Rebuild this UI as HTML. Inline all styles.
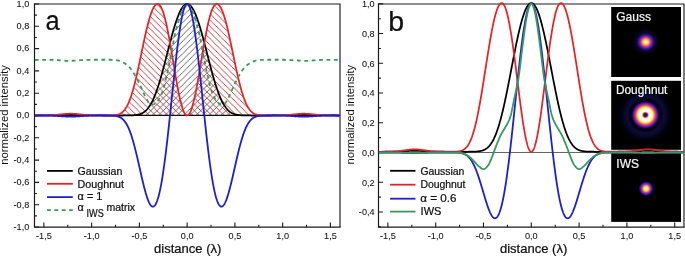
<!DOCTYPE html>
<html><head><meta charset="utf-8"><style>
html,body{margin:0;padding:0;background:#fff;width:685px;height:256px;overflow:hidden}
svg{display:block;will-change:transform}
text{font-family:"Liberation Sans",sans-serif}
</style></head><body>
<svg width="685" height="256" viewBox="0 0 685 256">
<defs>
<pattern id="hb" patternUnits="userSpaceOnUse" x="5.15" y="0" width="6.25" height="6.25">
<path d="M-1,1 L1,-1 M0,6.25 L6.25,0 M5.25,7.25 L7.25,5.25" stroke="#3c3c3c" stroke-width="0.75"/>
</pattern>
<pattern id="hr" patternUnits="userSpaceOnUse" x="0" y="3.7" width="6.25" height="6.25">
<path d="M-1,5.25 L1,7.25 M0,0 L6.25,6.25 M5.25,-1 L7.25,1" stroke="#c42228" stroke-width="0.85"/>
</pattern>
<radialGradient id="gGauss" cx="0.5" cy="0.5" r="0.5">
<stop offset="0" stop-color="#fffbd0"/>
<stop offset="0.12" stop-color="#fff0a0"/>
<stop offset="0.25" stop-color="#ffc850"/>
<stop offset="0.36" stop-color="#ff8a30"/>
<stop offset="0.46" stop-color="#d04080"/>
<stop offset="0.56" stop-color="#8a28c0"/>
<stop offset="0.68" stop-color="#4a14a8"/>
<stop offset="0.8" stop-color="#201070"/>
<stop offset="0.9" stop-color="#0c0838"/>
<stop offset="1" stop-color="#000" stop-opacity="0"/>
</radialGradient>
<radialGradient id="gHalo" cx="0.5" cy="0.5" r="0.5">
<stop offset="0" stop-color="#10104a"/>
<stop offset="0.6" stop-color="#0a0a30"/>
<stop offset="1" stop-color="#000"/>
</radialGradient>
<radialGradient id="gIWS" cx="0.5" cy="0.5" r="0.5">
<stop offset="0" stop-color="#fffbd8"/>
<stop offset="0.2" stop-color="#fff0a0"/>
<stop offset="0.32" stop-color="#ffc848"/>
<stop offset="0.44" stop-color="#ff8a30"/>
<stop offset="0.55" stop-color="#c03a90"/>
<stop offset="0.68" stop-color="#6a22c8"/>
<stop offset="0.82" stop-color="#2a10a0"/>
<stop offset="0.92" stop-color="#0c0640"/>
<stop offset="1" stop-color="#000"/>
</radialGradient>
<radialGradient id="gDough" cx="0.5" cy="0.5" r="0.5">
<stop offset="0" stop-color="#200a48"/>
<stop offset="0.05" stop-color="#3a1070"/>
<stop offset="0.077" stop-color="#8a2a90"/>
<stop offset="0.10" stop-color="#ff9a40"/>
<stop offset="0.123" stop-color="#fff0c0"/>
<stop offset="0.147" stop-color="#ffffff"/>
<stop offset="0.228" stop-color="#fffde0"/>
<stop offset="0.267" stop-color="#ffe070"/>
<stop offset="0.309" stop-color="#ff9a30"/>
<stop offset="0.347" stop-color="#e04060"/>
<stop offset="0.386" stop-color="#9a20a8"/>
<stop offset="0.42" stop-color="#5018b0"/>
<stop offset="0.456" stop-color="#1c0a60"/>
<stop offset="0.49" stop-color="#050418"/>
<stop offset="0.544" stop-color="#020208"/>
<stop offset="0.63" stop-color="#0c0c3a"/>
<stop offset="0.737" stop-color="#08082a"/>
<stop offset="0.84" stop-color="#020210"/>
<stop offset="1" stop-color="#000"/>
</radialGradient>

<clipPath id="cG"><path d="M34.83,115.50 L34.83,115.50 L35.17,115.50 L35.51,115.50 L35.84,115.50 L36.18,115.50 L36.52,115.50 L36.86,115.50 L37.20,115.50 L37.54,115.50 L37.88,115.50 L38.22,115.50 L38.56,115.50 L38.89,115.50 L39.23,115.49 L39.57,115.49 L39.91,115.49 L40.25,115.49 L40.59,115.49 L40.93,115.49 L41.27,115.49 L41.60,115.49 L41.94,115.49 L42.28,115.49 L42.62,115.49 L42.96,115.48 L43.30,115.48 L43.64,115.48 L43.98,115.48 L44.32,115.48 L44.65,115.48 L44.99,115.47 L45.33,115.47 L45.67,115.47 L46.01,115.47 L46.35,115.46 L46.69,115.46 L47.03,115.46 L47.37,115.45 L47.70,115.45 L48.04,115.44 L48.38,115.44 L48.72,115.44 L49.06,115.43 L49.40,115.43 L49.74,115.42 L50.08,115.41 L50.42,115.41 L50.75,115.40 L51.09,115.40 L51.43,115.39 L51.77,115.38 L52.11,115.37 L52.45,115.37 L52.79,115.36 L53.13,115.35 L53.47,115.34 L53.80,115.33 L54.14,115.32 L54.48,115.31 L54.82,115.30 L55.16,115.29 L55.50,115.28 L55.84,115.27 L56.18,115.26 L56.52,115.25 L56.85,115.24 L57.19,115.22 L57.53,115.21 L57.87,115.20 L58.21,115.18 L58.55,115.17 L58.89,115.16 L59.23,115.15 L59.57,115.13 L59.90,115.12 L60.24,115.10 L60.58,115.09 L60.92,115.08 L61.26,115.06 L61.60,115.05 L61.94,115.04 L62.28,115.02 L62.61,115.01 L62.95,115.00 L63.29,114.99 L63.63,114.97 L63.97,114.96 L64.31,114.95 L64.65,114.94 L64.99,114.93 L65.33,114.92 L65.66,114.91 L66.00,114.90 L66.34,114.89 L66.68,114.88 L67.02,114.87 L67.36,114.87 L67.70,114.86 L68.04,114.85 L68.38,114.85 L68.71,114.84 L69.05,114.84 L69.39,114.84 L69.73,114.83 L70.07,114.83 L70.41,114.83 L70.75,114.83 L71.09,114.83 L71.43,114.83 L71.76,114.84 L72.10,114.84 L72.44,114.84 L72.78,114.85 L73.12,114.85 L73.46,114.86 L73.80,114.86 L74.14,114.87 L74.48,114.88 L74.81,114.89 L75.15,114.89 L75.49,114.90 L75.83,114.91 L76.17,114.92 L76.51,114.93 L76.85,114.95 L77.19,114.96 L77.53,114.97 L77.86,114.98 L78.20,114.99 L78.54,115.01 L78.88,115.02 L79.22,115.03 L79.56,115.05 L79.90,115.06 L80.24,115.07 L80.58,115.09 L80.91,115.10 L81.25,115.11 L81.59,115.13 L81.93,115.14 L82.27,115.15 L82.61,115.17 L82.95,115.18 L83.29,115.19 L83.62,115.21 L83.96,115.22 L84.30,115.23 L84.64,115.24 L84.98,115.25 L85.32,115.27 L85.66,115.28 L86.00,115.29 L86.34,115.30 L86.67,115.31 L87.01,115.32 L87.35,115.33 L87.69,115.34 L88.03,115.35 L88.37,115.36 L88.71,115.36 L89.05,115.37 L89.39,115.38 L89.72,115.39 L90.06,115.39 L90.40,115.40 L90.74,115.41 L91.08,115.41 L91.42,115.42 L91.76,115.42 L92.10,115.43 L92.44,115.43 L92.77,115.44 L93.11,115.44 L93.45,115.45 L93.79,115.45 L94.13,115.45 L94.47,115.46 L94.81,115.46 L95.15,115.46 L95.49,115.47 L95.82,115.47 L96.16,115.47 L96.50,115.47 L96.84,115.48 L97.18,115.48 L97.52,115.48 L97.86,115.48 L98.20,115.48 L98.54,115.48 L98.87,115.49 L99.21,115.49 L99.55,115.49 L99.89,115.49 L100.23,115.49 L100.57,115.49 L100.91,115.49 L101.25,115.49 L101.59,115.49 L101.92,115.49 L102.26,115.49 L102.60,115.50 L102.94,115.50 L103.28,115.50 L103.62,115.50 L103.96,115.50 L104.30,115.50 L104.63,115.50 L104.97,115.50 L105.31,115.50 L105.65,115.50 L105.99,115.50 L106.33,115.50 L106.67,115.50 L107.01,115.50 L107.35,115.50 L107.68,115.50 L108.02,115.50 L108.36,115.50 L108.70,115.50 L109.04,115.50 L109.38,115.50 L109.72,115.50 L110.06,115.50 L110.40,115.50 L110.73,115.50 L111.07,115.50 L111.41,115.50 L111.75,115.50 L112.09,115.50 L112.43,115.50 L112.77,115.50 L113.11,115.50 L113.45,115.50 L113.78,115.50 L114.12,115.50 L114.46,115.50 L114.80,115.50 L115.14,115.50 L115.48,115.50 L115.82,115.50 L116.16,115.50 L116.50,115.50 L116.83,115.50 L117.17,115.50 L117.51,115.50 L117.85,115.50 L118.19,115.50 L118.53,115.50 L118.87,115.50 L119.21,115.50 L119.55,115.50 L119.88,115.50 L120.22,115.50 L120.56,115.50 L120.90,115.50 L121.24,115.50 L121.58,115.50 L121.92,115.50 L122.26,115.50 L122.60,115.50 L122.93,115.50 L123.27,115.50 L123.61,115.49 L123.95,115.49 L124.29,115.49 L124.63,115.49 L124.97,115.49 L125.31,115.49 L125.64,115.49 L125.98,115.48 L126.32,115.48 L126.66,115.48 L127.00,115.48 L127.34,115.47 L127.68,115.47 L128.02,115.46 L128.36,115.46 L128.69,115.45 L129.03,115.45 L129.37,115.44 L129.71,115.43 L130.05,115.43 L130.39,115.42 L130.73,115.41 L131.07,115.39 L131.41,115.38 L131.74,115.37 L132.08,115.35 L132.42,115.33 L132.76,115.31 L133.10,115.29 L133.44,115.27 L133.78,115.24 L134.12,115.21 L134.46,115.18 L134.79,115.15 L135.13,115.11 L135.47,115.07 L135.81,115.03 L136.15,114.98 L136.49,114.93 L136.83,114.87 L137.17,114.81 L137.51,114.75 L137.84,114.68 L138.18,114.60 L138.52,114.52 L138.86,114.43 L139.20,114.34 L139.54,114.23 L139.88,114.13 L140.22,114.01 L140.56,113.88 L140.89,113.75 L141.23,113.61 L141.57,113.46 L141.91,113.29 L142.25,113.12 L142.59,112.94 L142.93,112.75 L143.27,112.54 L143.61,112.32 L143.94,112.09 L144.28,111.85 L144.62,111.60 L144.96,111.33 L145.30,111.04 L145.64,110.74 L145.98,110.43 L146.32,110.10 L146.65,109.75 L146.99,109.39 L147.33,109.01 L147.67,108.61 L148.01,108.20 L148.35,107.77 L148.69,107.31 L149.03,106.84 L149.37,106.35 L149.70,105.84 L150.04,105.31 L150.38,104.77 L150.72,104.20 L151.06,103.60 L151.40,102.99 L151.74,102.36 L152.08,101.71 L152.42,101.03 L152.75,100.33 L153.09,99.62 L153.43,98.88 L153.77,98.11 L154.11,97.33 L154.45,96.52 L154.79,95.70 L155.13,94.85 L155.47,93.98 L155.80,93.09 L156.14,92.17 L156.48,91.24 L156.82,90.28 L157.16,89.31 L157.50,88.31 L157.84,87.30 L158.18,86.26 L158.52,85.21 L158.85,84.14 L159.19,83.05 L159.53,81.94 L159.87,80.81 L160.21,79.67 L160.55,78.51 L160.89,77.34 L161.23,76.15 L161.57,74.95 L161.90,73.73 L162.24,72.51 L162.58,71.26 L162.92,70.01 L163.26,68.75 L163.60,67.48 L163.94,66.19 L164.28,64.90 L164.62,63.61 L164.95,62.30 L165.29,60.99 L165.63,59.68 L165.97,58.36 L166.31,57.04 L166.65,55.71 L166.99,54.39 L167.33,53.06 L167.66,51.74 L168.00,50.41 L168.34,49.09 L168.68,47.77 L169.02,46.46 L169.36,45.15 L169.70,43.85 L170.04,42.55 L170.38,41.26 L170.71,39.98 L171.05,38.72 L171.39,37.46 L171.73,36.21 L172.07,34.98 L172.41,33.75 L172.75,32.55 L173.09,31.36 L173.43,30.18 L173.76,29.02 L174.10,27.88 L174.44,26.76 L174.78,25.65 L175.12,24.57 L175.46,23.51 L175.80,22.47 L176.14,21.45 L176.48,20.45 L176.81,19.48 L177.15,18.53 L177.49,17.61 L177.83,16.71 L178.17,15.84 L178.51,15.00 L178.85,14.18 L179.19,13.39 L179.53,12.63 L179.86,11.90 L180.20,11.20 L180.54,10.53 L180.88,9.89 L181.22,9.28 L181.56,8.70 L181.90,8.16 L182.24,7.65 L182.58,7.17 L182.91,6.72 L183.25,6.30 L183.59,5.92 L183.93,5.58 L184.27,5.26 L184.61,4.98 L184.95,4.74 L185.29,4.53 L185.63,4.35 L185.96,4.21 L186.30,4.11 L186.64,4.04 L186.98,4.00 L187.32,4.00 L187.66,4.04 L188.00,4.11 L188.34,4.21 L188.67,4.35 L189.01,4.53 L189.35,4.74 L189.69,4.98 L190.03,5.26 L190.37,5.58 L190.71,5.92 L191.05,6.30 L191.39,6.72 L191.72,7.17 L192.06,7.65 L192.40,8.16 L192.74,8.70 L193.08,9.28 L193.42,9.89 L193.76,10.53 L194.10,11.20 L194.44,11.90 L194.77,12.63 L195.11,13.39 L195.45,14.18 L195.79,15.00 L196.13,15.84 L196.47,16.71 L196.81,17.61 L197.15,18.53 L197.49,19.48 L197.82,20.45 L198.16,21.45 L198.50,22.47 L198.84,23.51 L199.18,24.57 L199.52,25.65 L199.86,26.76 L200.20,27.88 L200.54,29.02 L200.87,30.18 L201.21,31.36 L201.55,32.55 L201.89,33.75 L202.23,34.98 L202.57,36.21 L202.91,37.46 L203.25,38.72 L203.59,39.98 L203.92,41.26 L204.26,42.55 L204.60,43.85 L204.94,45.15 L205.28,46.46 L205.62,47.77 L205.96,49.09 L206.30,50.41 L206.64,51.74 L206.97,53.06 L207.31,54.39 L207.65,55.71 L207.99,57.04 L208.33,58.36 L208.67,59.68 L209.01,60.99 L209.35,62.30 L209.68,63.61 L210.02,64.90 L210.36,66.19 L210.70,67.48 L211.04,68.75 L211.38,70.01 L211.72,71.26 L212.06,72.51 L212.40,73.73 L212.73,74.95 L213.07,76.15 L213.41,77.34 L213.75,78.51 L214.09,79.67 L214.43,80.81 L214.77,81.94 L215.11,83.05 L215.45,84.14 L215.78,85.21 L216.12,86.26 L216.46,87.30 L216.80,88.31 L217.14,89.31 L217.48,90.28 L217.82,91.24 L218.16,92.17 L218.50,93.09 L218.83,93.98 L219.17,94.85 L219.51,95.70 L219.85,96.52 L220.19,97.33 L220.53,98.11 L220.87,98.88 L221.21,99.62 L221.55,100.33 L221.88,101.03 L222.22,101.71 L222.56,102.36 L222.90,102.99 L223.24,103.60 L223.58,104.20 L223.92,104.77 L224.26,105.31 L224.60,105.84 L224.93,106.35 L225.27,106.84 L225.61,107.31 L225.95,107.77 L226.29,108.20 L226.63,108.61 L226.97,109.01 L227.31,109.39 L227.65,109.75 L227.98,110.10 L228.32,110.43 L228.66,110.74 L229.00,111.04 L229.34,111.33 L229.68,111.60 L230.02,111.85 L230.36,112.09 L230.69,112.32 L231.03,112.54 L231.37,112.75 L231.71,112.94 L232.05,113.12 L232.39,113.29 L232.73,113.46 L233.07,113.61 L233.41,113.75 L233.74,113.88 L234.08,114.01 L234.42,114.13 L234.76,114.23 L235.10,114.34 L235.44,114.43 L235.78,114.52 L236.12,114.60 L236.46,114.68 L236.79,114.75 L237.13,114.81 L237.47,114.87 L237.81,114.93 L238.15,114.98 L238.49,115.03 L238.83,115.07 L239.17,115.11 L239.51,115.15 L239.84,115.18 L240.18,115.21 L240.52,115.24 L240.86,115.27 L241.20,115.29 L241.54,115.31 L241.88,115.33 L242.22,115.35 L242.56,115.37 L242.89,115.38 L243.23,115.39 L243.57,115.41 L243.91,115.42 L244.25,115.43 L244.59,115.43 L244.93,115.44 L245.27,115.45 L245.61,115.45 L245.94,115.46 L246.28,115.46 L246.62,115.47 L246.96,115.47 L247.30,115.48 L247.64,115.48 L247.98,115.48 L248.32,115.48 L248.66,115.49 L248.99,115.49 L249.33,115.49 L249.67,115.49 L250.01,115.49 L250.35,115.49 L250.69,115.49 L251.03,115.50 L251.37,115.50 L251.70,115.50 L252.04,115.50 L252.38,115.50 L252.72,115.50 L253.06,115.50 L253.40,115.50 L253.74,115.50 L254.08,115.50 L254.42,115.50 L254.75,115.50 L255.09,115.50 L255.43,115.50 L255.77,115.50 L256.11,115.50 L256.45,115.50 L256.79,115.50 L257.13,115.50 L257.47,115.50 L257.80,115.50 L258.14,115.50 L258.48,115.50 L258.82,115.50 L259.16,115.50 L259.50,115.50 L259.84,115.50 L260.18,115.50 L260.52,115.50 L260.85,115.50 L261.19,115.50 L261.53,115.50 L261.87,115.50 L262.21,115.50 L262.55,115.50 L262.89,115.50 L263.23,115.50 L263.57,115.50 L263.90,115.50 L264.24,115.50 L264.58,115.50 L264.92,115.50 L265.26,115.50 L265.60,115.50 L265.94,115.50 L266.28,115.50 L266.62,115.50 L266.95,115.50 L267.29,115.50 L267.63,115.50 L267.97,115.50 L268.31,115.50 L268.65,115.50 L268.99,115.50 L269.33,115.50 L269.67,115.50 L270.00,115.50 L270.34,115.50 L270.68,115.50 L271.02,115.50 L271.36,115.50 L271.70,115.50 L272.04,115.49 L272.38,115.49 L272.71,115.49 L273.05,115.49 L273.39,115.49 L273.73,115.49 L274.07,115.49 L274.41,115.49 L274.75,115.49 L275.09,115.49 L275.43,115.49 L275.76,115.48 L276.10,115.48 L276.44,115.48 L276.78,115.48 L277.12,115.48 L277.46,115.48 L277.80,115.47 L278.14,115.47 L278.48,115.47 L278.81,115.47 L279.15,115.46 L279.49,115.46 L279.83,115.46 L280.17,115.45 L280.51,115.45 L280.85,115.45 L281.19,115.44 L281.53,115.44 L281.86,115.43 L282.20,115.43 L282.54,115.42 L282.88,115.42 L283.22,115.41 L283.56,115.41 L283.90,115.40 L284.24,115.39 L284.58,115.39 L284.91,115.38 L285.25,115.37 L285.59,115.36 L285.93,115.36 L286.27,115.35 L286.61,115.34 L286.95,115.33 L287.29,115.32 L287.63,115.31 L287.96,115.30 L288.30,115.29 L288.64,115.28 L288.98,115.27 L289.32,115.25 L289.66,115.24 L290.00,115.23 L290.34,115.22 L290.68,115.21 L291.01,115.19 L291.35,115.18 L291.69,115.17 L292.03,115.15 L292.37,115.14 L292.71,115.13 L293.05,115.11 L293.39,115.10 L293.72,115.09 L294.06,115.07 L294.40,115.06 L294.74,115.05 L295.08,115.03 L295.42,115.02 L295.76,115.01 L296.10,114.99 L296.44,114.98 L296.77,114.97 L297.11,114.96 L297.45,114.95 L297.79,114.93 L298.13,114.92 L298.47,114.91 L298.81,114.90 L299.15,114.89 L299.49,114.89 L299.82,114.88 L300.16,114.87 L300.50,114.86 L300.84,114.86 L301.18,114.85 L301.52,114.85 L301.86,114.84 L302.20,114.84 L302.54,114.84 L302.87,114.83 L303.21,114.83 L303.55,114.83 L303.89,114.83 L304.23,114.83 L304.57,114.83 L304.91,114.84 L305.25,114.84 L305.59,114.84 L305.92,114.85 L306.26,114.85 L306.60,114.86 L306.94,114.87 L307.28,114.87 L307.62,114.88 L307.96,114.89 L308.30,114.90 L308.64,114.91 L308.97,114.92 L309.31,114.93 L309.65,114.94 L309.99,114.95 L310.33,114.96 L310.67,114.97 L311.01,114.99 L311.35,115.00 L311.69,115.01 L312.02,115.02 L312.36,115.04 L312.70,115.05 L313.04,115.06 L313.38,115.08 L313.72,115.09 L314.06,115.10 L314.40,115.12 L314.73,115.13 L315.07,115.15 L315.41,115.16 L315.75,115.17 L316.09,115.18 L316.43,115.20 L316.77,115.21 L317.11,115.22 L317.45,115.24 L317.78,115.25 L318.12,115.26 L318.46,115.27 L318.80,115.28 L319.14,115.29 L319.48,115.30 L319.82,115.31 L320.16,115.32 L320.50,115.33 L320.83,115.34 L321.17,115.35 L321.51,115.36 L321.85,115.37 L322.19,115.37 L322.53,115.38 L322.87,115.39 L323.21,115.40 L323.55,115.40 L323.88,115.41 L324.22,115.41 L324.56,115.42 L324.90,115.43 L325.24,115.43 L325.58,115.44 L325.92,115.44 L326.26,115.44 L326.60,115.45 L326.93,115.45 L327.27,115.46 L327.61,115.46 L327.95,115.46 L328.29,115.47 L328.63,115.47 L328.97,115.47 L329.31,115.47 L329.65,115.48 L329.98,115.48 L330.32,115.48 L330.66,115.48 L331.00,115.48 L331.34,115.48 L331.68,115.49 L332.02,115.49 L332.36,115.49 L332.70,115.49 L333.03,115.49 L333.37,115.49 L333.71,115.49 L334.05,115.49 L334.39,115.49 L334.73,115.49 L335.07,115.49 L335.41,115.50 L335.74,115.50 L336.08,115.50 L336.42,115.50 L336.76,115.50 L337.10,115.50 L337.44,115.50 L337.78,115.50 L338.12,115.50 L338.46,115.50 L338.79,115.50 L339.13,115.50 L339.47,115.50 L339.47,115.50Z"/></clipPath>
<clipPath id="cD"><path d="M34.83,115.50 L34.83,115.50 L35.17,115.50 L35.51,115.50 L35.84,115.50 L36.18,115.49 L36.52,115.49 L36.86,115.49 L37.20,115.49 L37.54,115.49 L37.88,115.49 L38.22,115.49 L38.56,115.49 L38.89,115.49 L39.23,115.49 L39.57,115.48 L39.91,115.48 L40.25,115.48 L40.59,115.48 L40.93,115.48 L41.27,115.47 L41.60,115.47 L41.94,115.47 L42.28,115.46 L42.62,115.46 L42.96,115.46 L43.30,115.45 L43.64,115.45 L43.98,115.44 L44.32,115.44 L44.65,115.43 L44.99,115.43 L45.33,115.42 L45.67,115.41 L46.01,115.41 L46.35,115.40 L46.69,115.39 L47.03,115.38 L47.37,115.37 L47.70,115.36 L48.04,115.35 L48.38,115.34 L48.72,115.33 L49.06,115.32 L49.40,115.30 L49.74,115.29 L50.08,115.27 L50.42,115.26 L50.75,115.24 L51.09,115.22 L51.43,115.20 L51.77,115.19 L52.11,115.17 L52.45,115.14 L52.79,115.12 L53.13,115.10 L53.47,115.08 L53.80,115.05 L54.14,115.03 L54.48,115.00 L54.82,114.97 L55.16,114.95 L55.50,114.92 L55.84,114.89 L56.18,114.86 L56.52,114.83 L56.85,114.79 L57.19,114.76 L57.53,114.73 L57.87,114.69 L58.21,114.66 L58.55,114.63 L58.89,114.59 L59.23,114.55 L59.57,114.52 L59.90,114.48 L60.24,114.45 L60.58,114.41 L60.92,114.37 L61.26,114.34 L61.60,114.30 L61.94,114.27 L62.28,114.23 L62.61,114.20 L62.95,114.16 L63.29,114.13 L63.63,114.10 L63.97,114.06 L64.31,114.03 L64.65,114.00 L64.99,113.97 L65.33,113.95 L65.66,113.92 L66.00,113.89 L66.34,113.87 L66.68,113.85 L67.02,113.83 L67.36,113.81 L67.70,113.79 L68.04,113.77 L68.38,113.76 L68.71,113.75 L69.05,113.74 L69.39,113.73 L69.73,113.72 L70.07,113.72 L70.41,113.72 L70.75,113.72 L71.09,113.72 L71.43,113.72 L71.76,113.73 L72.10,113.73 L72.44,113.74 L72.78,113.76 L73.12,113.77 L73.46,113.78 L73.80,113.80 L74.14,113.82 L74.48,113.84 L74.81,113.86 L75.15,113.88 L75.49,113.91 L75.83,113.94 L76.17,113.96 L76.51,113.99 L76.85,114.02 L77.19,114.05 L77.53,114.08 L77.86,114.12 L78.20,114.15 L78.54,114.18 L78.88,114.22 L79.22,114.25 L79.56,114.29 L79.90,114.33 L80.24,114.36 L80.58,114.40 L80.91,114.43 L81.25,114.47 L81.59,114.51 L81.93,114.54 L82.27,114.58 L82.61,114.61 L82.95,114.65 L83.29,114.68 L83.62,114.72 L83.96,114.75 L84.30,114.78 L84.64,114.81 L84.98,114.85 L85.32,114.88 L85.66,114.91 L86.00,114.93 L86.34,114.96 L86.67,114.99 L87.01,115.02 L87.35,115.04 L87.69,115.07 L88.03,115.09 L88.37,115.11 L88.71,115.14 L89.05,115.16 L89.39,115.18 L89.72,115.20 L90.06,115.22 L90.40,115.23 L90.74,115.25 L91.08,115.27 L91.42,115.28 L91.76,115.30 L92.10,115.31 L92.44,115.32 L92.77,115.34 L93.11,115.35 L93.45,115.36 L93.79,115.37 L94.13,115.38 L94.47,115.39 L94.81,115.40 L95.15,115.40 L95.49,115.41 L95.82,115.42 L96.16,115.43 L96.50,115.43 L96.84,115.44 L97.18,115.44 L97.52,115.45 L97.86,115.45 L98.20,115.46 L98.54,115.46 L98.87,115.46 L99.21,115.47 L99.55,115.47 L99.89,115.47 L100.23,115.47 L100.57,115.48 L100.91,115.48 L101.25,115.48 L101.59,115.48 L101.92,115.48 L102.26,115.49 L102.60,115.49 L102.94,115.49 L103.28,115.49 L103.62,115.49 L103.96,115.49 L104.30,115.49 L104.63,115.49 L104.97,115.49 L105.31,115.49 L105.65,115.49 L105.99,115.49 L106.33,115.49 L106.67,115.49 L107.01,115.49 L107.35,115.48 L107.68,115.48 L108.02,115.48 L108.36,115.48 L108.70,115.47 L109.04,115.47 L109.38,115.46 L109.72,115.46 L110.06,115.45 L110.40,115.44 L110.73,115.43 L111.07,115.42 L111.41,115.41 L111.75,115.40 L112.09,115.38 L112.43,115.37 L112.77,115.35 L113.11,115.32 L113.45,115.30 L113.78,115.27 L114.12,115.24 L114.46,115.21 L114.80,115.17 L115.14,115.12 L115.48,115.07 L115.82,115.02 L116.16,114.96 L116.50,114.90 L116.83,114.82 L117.17,114.74 L117.51,114.66 L117.85,114.56 L118.19,114.45 L118.53,114.34 L118.87,114.21 L119.21,114.08 L119.55,113.93 L119.88,113.77 L120.22,113.59 L120.56,113.40 L120.90,113.20 L121.24,112.98 L121.58,112.75 L121.92,112.49 L122.26,112.22 L122.60,111.93 L122.93,111.62 L123.27,111.29 L123.61,110.94 L123.95,110.56 L124.29,110.16 L124.63,109.74 L124.97,109.29 L125.31,108.82 L125.64,108.32 L125.98,107.79 L126.32,107.24 L126.66,106.65 L127.00,106.04 L127.34,105.40 L127.68,104.72 L128.02,104.02 L128.36,103.28 L128.69,102.52 L129.03,101.72 L129.37,100.89 L129.71,100.02 L130.05,99.13 L130.39,98.20 L130.73,97.24 L131.07,96.24 L131.41,95.21 L131.74,94.15 L132.08,93.06 L132.42,91.94 L132.76,90.78 L133.10,89.59 L133.44,88.38 L133.78,87.13 L134.12,85.85 L134.46,84.54 L134.79,83.21 L135.13,81.85 L135.47,80.47 L135.81,79.05 L136.15,77.62 L136.49,76.16 L136.83,74.68 L137.17,73.18 L137.51,71.66 L137.84,70.13 L138.18,68.57 L138.52,67.01 L138.86,65.43 L139.20,63.83 L139.54,62.23 L139.88,60.62 L140.22,59.00 L140.56,57.37 L140.89,55.75 L141.23,54.12 L141.57,52.49 L141.91,50.86 L142.25,49.23 L142.59,47.61 L142.93,45.99 L143.27,44.39 L143.61,42.79 L143.94,41.20 L144.28,39.63 L144.62,38.07 L144.96,36.53 L145.30,35.01 L145.64,33.51 L145.98,32.03 L146.32,30.57 L146.65,29.14 L146.99,27.74 L147.33,26.36 L147.67,25.01 L148.01,23.69 L148.35,22.41 L148.69,21.16 L149.03,19.94 L149.37,18.77 L149.70,17.62 L150.04,16.52 L150.38,15.46 L150.72,14.44 L151.06,13.46 L151.40,12.53 L151.74,11.64 L152.08,10.79 L152.42,9.99 L152.75,9.24 L153.09,8.53 L153.43,7.88 L153.77,7.27 L154.11,6.72 L154.45,6.21 L154.79,5.76 L155.13,5.35 L155.47,5.00 L155.80,4.70 L156.14,4.46 L156.48,4.26 L156.82,4.12 L157.16,4.03 L157.50,4.00 L157.84,4.02 L158.18,4.10 L158.52,4.24 L158.85,4.44 L159.19,4.70 L159.53,5.02 L159.87,5.41 L160.21,5.85 L160.55,6.35 L160.89,6.92 L161.23,7.55 L161.57,8.24 L161.90,8.99 L162.24,9.80 L162.58,10.67 L162.92,11.60 L163.26,12.59 L163.60,13.63 L163.94,14.74 L164.28,15.90 L164.62,17.12 L164.95,18.39 L165.29,19.71 L165.63,21.09 L165.97,22.52 L166.31,24.00 L166.65,25.52 L166.99,27.09 L167.33,28.71 L167.66,30.36 L168.00,32.06 L168.34,33.80 L168.68,35.57 L169.02,37.38 L169.36,39.22 L169.70,41.09 L170.04,42.99 L170.38,44.92 L170.71,46.87 L171.05,48.83 L171.39,50.82 L171.73,52.82 L172.07,54.83 L172.41,56.86 L172.75,58.89 L173.09,60.92 L173.43,62.96 L173.76,65.00 L174.10,67.03 L174.44,69.05 L174.78,71.07 L175.12,73.07 L175.46,75.06 L175.80,77.03 L176.14,78.98 L176.48,80.90 L176.81,82.80 L177.15,84.67 L177.49,86.50 L177.83,88.30 L178.17,90.06 L178.51,91.79 L178.85,93.47 L179.19,95.10 L179.53,96.69 L179.86,98.22 L180.20,99.71 L180.54,101.13 L180.88,102.50 L181.22,103.82 L181.56,105.07 L181.90,106.26 L182.24,107.38 L182.58,108.43 L182.91,109.42 L183.25,110.34 L183.59,111.18 L183.93,111.96 L184.27,112.66 L184.61,113.28 L184.95,113.83 L185.29,114.30 L185.63,114.70 L185.96,115.01 L186.30,115.25 L186.64,115.41 L186.98,115.49 L187.32,115.49 L187.66,115.41 L188.00,115.25 L188.34,115.01 L188.67,114.70 L189.01,114.30 L189.35,113.83 L189.69,113.28 L190.03,112.66 L190.37,111.96 L190.71,111.18 L191.05,110.34 L191.39,109.42 L191.72,108.43 L192.06,107.38 L192.40,106.26 L192.74,105.07 L193.08,103.82 L193.42,102.50 L193.76,101.13 L194.10,99.71 L194.44,98.22 L194.77,96.69 L195.11,95.10 L195.45,93.47 L195.79,91.79 L196.13,90.06 L196.47,88.30 L196.81,86.50 L197.15,84.67 L197.49,82.80 L197.82,80.90 L198.16,78.98 L198.50,77.03 L198.84,75.06 L199.18,73.07 L199.52,71.07 L199.86,69.05 L200.20,67.03 L200.54,65.00 L200.87,62.96 L201.21,60.92 L201.55,58.89 L201.89,56.86 L202.23,54.83 L202.57,52.82 L202.91,50.82 L203.25,48.83 L203.59,46.87 L203.92,44.92 L204.26,42.99 L204.60,41.09 L204.94,39.22 L205.28,37.38 L205.62,35.57 L205.96,33.80 L206.30,32.06 L206.64,30.36 L206.97,28.71 L207.31,27.09 L207.65,25.52 L207.99,24.00 L208.33,22.52 L208.67,21.09 L209.01,19.71 L209.35,18.39 L209.68,17.12 L210.02,15.90 L210.36,14.74 L210.70,13.63 L211.04,12.59 L211.38,11.60 L211.72,10.67 L212.06,9.80 L212.40,8.99 L212.73,8.24 L213.07,7.55 L213.41,6.92 L213.75,6.35 L214.09,5.85 L214.43,5.41 L214.77,5.02 L215.11,4.70 L215.45,4.44 L215.78,4.24 L216.12,4.10 L216.46,4.02 L216.80,4.00 L217.14,4.03 L217.48,4.12 L217.82,4.26 L218.16,4.46 L218.50,4.70 L218.83,5.00 L219.17,5.35 L219.51,5.76 L219.85,6.21 L220.19,6.72 L220.53,7.27 L220.87,7.88 L221.21,8.53 L221.55,9.24 L221.88,9.99 L222.22,10.79 L222.56,11.64 L222.90,12.53 L223.24,13.46 L223.58,14.44 L223.92,15.46 L224.26,16.52 L224.60,17.62 L224.93,18.77 L225.27,19.94 L225.61,21.16 L225.95,22.41 L226.29,23.69 L226.63,25.01 L226.97,26.36 L227.31,27.74 L227.65,29.14 L227.98,30.57 L228.32,32.03 L228.66,33.51 L229.00,35.01 L229.34,36.53 L229.68,38.07 L230.02,39.63 L230.36,41.20 L230.69,42.79 L231.03,44.39 L231.37,45.99 L231.71,47.61 L232.05,49.23 L232.39,50.86 L232.73,52.49 L233.07,54.12 L233.41,55.75 L233.74,57.37 L234.08,59.00 L234.42,60.62 L234.76,62.23 L235.10,63.83 L235.44,65.43 L235.78,67.01 L236.12,68.57 L236.46,70.13 L236.79,71.66 L237.13,73.18 L237.47,74.68 L237.81,76.16 L238.15,77.62 L238.49,79.05 L238.83,80.47 L239.17,81.85 L239.51,83.21 L239.84,84.54 L240.18,85.85 L240.52,87.13 L240.86,88.38 L241.20,89.59 L241.54,90.78 L241.88,91.94 L242.22,93.06 L242.56,94.15 L242.89,95.21 L243.23,96.24 L243.57,97.24 L243.91,98.20 L244.25,99.13 L244.59,100.02 L244.93,100.89 L245.27,101.72 L245.61,102.52 L245.94,103.28 L246.28,104.02 L246.62,104.72 L246.96,105.40 L247.30,106.04 L247.64,106.65 L247.98,107.24 L248.32,107.79 L248.66,108.32 L248.99,108.82 L249.33,109.29 L249.67,109.74 L250.01,110.16 L250.35,110.56 L250.69,110.94 L251.03,111.29 L251.37,111.62 L251.70,111.93 L252.04,112.22 L252.38,112.49 L252.72,112.75 L253.06,112.98 L253.40,113.20 L253.74,113.40 L254.08,113.59 L254.42,113.77 L254.75,113.93 L255.09,114.08 L255.43,114.21 L255.77,114.34 L256.11,114.45 L256.45,114.56 L256.79,114.66 L257.13,114.74 L257.47,114.82 L257.80,114.90 L258.14,114.96 L258.48,115.02 L258.82,115.07 L259.16,115.12 L259.50,115.17 L259.84,115.21 L260.18,115.24 L260.52,115.27 L260.85,115.30 L261.19,115.32 L261.53,115.35 L261.87,115.37 L262.21,115.38 L262.55,115.40 L262.89,115.41 L263.23,115.42 L263.57,115.43 L263.90,115.44 L264.24,115.45 L264.58,115.46 L264.92,115.46 L265.26,115.47 L265.60,115.47 L265.94,115.48 L266.28,115.48 L266.62,115.48 L266.95,115.48 L267.29,115.49 L267.63,115.49 L267.97,115.49 L268.31,115.49 L268.65,115.49 L268.99,115.49 L269.33,115.49 L269.67,115.49 L270.00,115.49 L270.34,115.49 L270.68,115.49 L271.02,115.49 L271.36,115.49 L271.70,115.49 L272.04,115.49 L272.38,115.48 L272.71,115.48 L273.05,115.48 L273.39,115.48 L273.73,115.48 L274.07,115.47 L274.41,115.47 L274.75,115.47 L275.09,115.47 L275.43,115.46 L275.76,115.46 L276.10,115.46 L276.44,115.45 L276.78,115.45 L277.12,115.44 L277.46,115.44 L277.80,115.43 L278.14,115.43 L278.48,115.42 L278.81,115.41 L279.15,115.40 L279.49,115.40 L279.83,115.39 L280.17,115.38 L280.51,115.37 L280.85,115.36 L281.19,115.35 L281.53,115.34 L281.86,115.32 L282.20,115.31 L282.54,115.30 L282.88,115.28 L283.22,115.27 L283.56,115.25 L283.90,115.23 L284.24,115.22 L284.58,115.20 L284.91,115.18 L285.25,115.16 L285.59,115.14 L285.93,115.11 L286.27,115.09 L286.61,115.07 L286.95,115.04 L287.29,115.02 L287.63,114.99 L287.96,114.96 L288.30,114.93 L288.64,114.91 L288.98,114.88 L289.32,114.85 L289.66,114.81 L290.00,114.78 L290.34,114.75 L290.68,114.72 L291.01,114.68 L291.35,114.65 L291.69,114.61 L292.03,114.58 L292.37,114.54 L292.71,114.51 L293.05,114.47 L293.39,114.43 L293.72,114.40 L294.06,114.36 L294.40,114.33 L294.74,114.29 L295.08,114.25 L295.42,114.22 L295.76,114.18 L296.10,114.15 L296.44,114.12 L296.77,114.08 L297.11,114.05 L297.45,114.02 L297.79,113.99 L298.13,113.96 L298.47,113.94 L298.81,113.91 L299.15,113.88 L299.49,113.86 L299.82,113.84 L300.16,113.82 L300.50,113.80 L300.84,113.78 L301.18,113.77 L301.52,113.76 L301.86,113.74 L302.20,113.73 L302.54,113.73 L302.87,113.72 L303.21,113.72 L303.55,113.72 L303.89,113.72 L304.23,113.72 L304.57,113.72 L304.91,113.73 L305.25,113.74 L305.59,113.75 L305.92,113.76 L306.26,113.77 L306.60,113.79 L306.94,113.81 L307.28,113.83 L307.62,113.85 L307.96,113.87 L308.30,113.89 L308.64,113.92 L308.97,113.95 L309.31,113.97 L309.65,114.00 L309.99,114.03 L310.33,114.06 L310.67,114.10 L311.01,114.13 L311.35,114.16 L311.69,114.20 L312.02,114.23 L312.36,114.27 L312.70,114.30 L313.04,114.34 L313.38,114.37 L313.72,114.41 L314.06,114.45 L314.40,114.48 L314.73,114.52 L315.07,114.55 L315.41,114.59 L315.75,114.63 L316.09,114.66 L316.43,114.69 L316.77,114.73 L317.11,114.76 L317.45,114.79 L317.78,114.83 L318.12,114.86 L318.46,114.89 L318.80,114.92 L319.14,114.95 L319.48,114.97 L319.82,115.00 L320.16,115.03 L320.50,115.05 L320.83,115.08 L321.17,115.10 L321.51,115.12 L321.85,115.14 L322.19,115.17 L322.53,115.19 L322.87,115.20 L323.21,115.22 L323.55,115.24 L323.88,115.26 L324.22,115.27 L324.56,115.29 L324.90,115.30 L325.24,115.32 L325.58,115.33 L325.92,115.34 L326.26,115.35 L326.60,115.36 L326.93,115.37 L327.27,115.38 L327.61,115.39 L327.95,115.40 L328.29,115.41 L328.63,115.41 L328.97,115.42 L329.31,115.43 L329.65,115.43 L329.98,115.44 L330.32,115.44 L330.66,115.45 L331.00,115.45 L331.34,115.46 L331.68,115.46 L332.02,115.46 L332.36,115.47 L332.70,115.47 L333.03,115.47 L333.37,115.48 L333.71,115.48 L334.05,115.48 L334.39,115.48 L334.73,115.48 L335.07,115.49 L335.41,115.49 L335.74,115.49 L336.08,115.49 L336.42,115.49 L336.76,115.49 L337.10,115.49 L337.44,115.49 L337.78,115.49 L338.12,115.49 L338.46,115.50 L338.79,115.50 L339.13,115.50 L339.47,115.50 L339.47,115.50Z"/></clipPath>
</defs>
<rect x="34.50" y="4.00" width="305.50" height="223.20" fill="url(#hb)" clip-path="url(#cG)"/>
<rect x="34.50" y="4.00" width="305.50" height="223.20" fill="url(#hr)" clip-path="url(#cD)"/>
<path d="M33.90,4.00 H340.60 M340.00,4.00 V227.20" fill="none" stroke="#1c1c1c" stroke-width="1.15"/>
<path d="M34.50,4.00 V227.20 H340.00" fill="none" stroke="#1c1c1c" stroke-width="1.2" stroke-linejoin="miter" stroke-linecap="square"/>
<path d="M34.50,227.00 h4.6 M34.50,204.70 h4.6 M34.50,182.40 h4.6 M34.50,160.10 h4.6 M34.50,137.80 h4.6 M34.50,115.50 h4.6 M34.50,93.20 h4.6 M34.50,70.90 h4.6 M34.50,48.60 h4.6 M34.50,26.30 h4.6 M34.50,4.00 h4.6 M34.50,215.85 h2.4 M34.50,193.55 h2.4 M34.50,171.25 h2.4 M34.50,148.95 h2.4 M34.50,126.65 h2.4 M34.50,104.35 h2.4 M34.50,82.05 h2.4 M34.50,59.75 h2.4 M34.50,37.45 h2.4 M34.50,15.15 h2.4 M43.90,227.20 v-4.6 M91.65,227.20 v-4.6 M139.40,227.20 v-4.6 M187.15,227.20 v-4.6 M234.90,227.20 v-4.6 M282.65,227.20 v-4.6 M330.40,227.20 v-4.6 M67.78,227.20 v-2.4 M115.53,227.20 v-2.4 M163.28,227.20 v-2.4 M211.03,227.20 v-2.4 M258.77,227.20 v-2.4 M306.52,227.20 v-2.4" stroke="#1c1c1c" stroke-width="1.1" fill="none"/>
<text transform="translate(29.30,229.80) scale(1.100,1)" text-anchor="end" font-size="8.30" fill="#111" stroke="#111" stroke-width="0.06">-1,0</text>
<text transform="translate(29.30,207.50) scale(1.100,1)" text-anchor="end" font-size="8.30" fill="#111" stroke="#111" stroke-width="0.06">-0,8</text>
<text transform="translate(29.30,185.20) scale(1.100,1)" text-anchor="end" font-size="8.30" fill="#111" stroke="#111" stroke-width="0.06">-0,6</text>
<text transform="translate(29.30,162.90) scale(1.100,1)" text-anchor="end" font-size="8.30" fill="#111" stroke="#111" stroke-width="0.06">-0,4</text>
<text transform="translate(29.30,140.60) scale(1.100,1)" text-anchor="end" font-size="8.30" fill="#111" stroke="#111" stroke-width="0.06">-0,2</text>
<text transform="translate(29.30,118.30) scale(1.100,1)" text-anchor="end" font-size="8.30" fill="#111" stroke="#111" stroke-width="0.06">0,0</text>
<text transform="translate(29.30,96.00) scale(1.100,1)" text-anchor="end" font-size="8.30" fill="#111" stroke="#111" stroke-width="0.06">0,2</text>
<text transform="translate(29.30,73.70) scale(1.100,1)" text-anchor="end" font-size="8.30" fill="#111" stroke="#111" stroke-width="0.06">0,4</text>
<text transform="translate(29.30,51.40) scale(1.100,1)" text-anchor="end" font-size="8.30" fill="#111" stroke="#111" stroke-width="0.06">0,6</text>
<text transform="translate(29.30,29.10) scale(1.100,1)" text-anchor="end" font-size="8.30" fill="#111" stroke="#111" stroke-width="0.06">0,8</text>
<text transform="translate(29.30,6.80) scale(1.100,1)" text-anchor="end" font-size="8.30" fill="#111" stroke="#111" stroke-width="0.06">1,0</text>
<text transform="translate(43.90,239.10) scale(1.100,1)" text-anchor="middle" font-size="8.30" fill="#111" stroke="#111" stroke-width="0.06">-1,5</text>
<text transform="translate(91.65,239.10) scale(1.100,1)" text-anchor="middle" font-size="8.30" fill="#111" stroke="#111" stroke-width="0.06">-1,0</text>
<text transform="translate(139.40,239.10) scale(1.100,1)" text-anchor="middle" font-size="8.30" fill="#111" stroke="#111" stroke-width="0.06">-0,5</text>
<text transform="translate(187.15,239.10) scale(1.100,1)" text-anchor="middle" font-size="8.30" fill="#111" stroke="#111" stroke-width="0.06">0,0</text>
<text transform="translate(234.90,239.10) scale(1.100,1)" text-anchor="middle" font-size="8.30" fill="#111" stroke="#111" stroke-width="0.06">0,5</text>
<text transform="translate(282.65,239.10) scale(1.100,1)" text-anchor="middle" font-size="8.30" fill="#111" stroke="#111" stroke-width="0.06">1,0</text>
<text transform="translate(330.40,239.10) scale(1.100,1)" text-anchor="middle" font-size="8.30" fill="#111" stroke="#111" stroke-width="0.06">1,5</text>
<path d="M34.50,115.30 H340.00" stroke="#111" stroke-width="1.2"/>
<g fill="none" stroke-width="1.75" stroke-linejoin="round">
<path d="M34.83,115.50 L35.17,115.50 L35.51,115.50 L35.84,115.50 L36.18,115.50 L36.52,115.50 L36.86,115.50 L37.20,115.50 L37.54,115.50 L37.88,115.50 L38.22,115.50 L38.56,115.50 L38.89,115.50 L39.23,115.49 L39.57,115.49 L39.91,115.49 L40.25,115.49 L40.59,115.49 L40.93,115.49 L41.27,115.49 L41.60,115.49 L41.94,115.49 L42.28,115.49 L42.62,115.49 L42.96,115.48 L43.30,115.48 L43.64,115.48 L43.98,115.48 L44.32,115.48 L44.65,115.48 L44.99,115.47 L45.33,115.47 L45.67,115.47 L46.01,115.47 L46.35,115.46 L46.69,115.46 L47.03,115.46 L47.37,115.45 L47.70,115.45 L48.04,115.44 L48.38,115.44 L48.72,115.44 L49.06,115.43 L49.40,115.43 L49.74,115.42 L50.08,115.41 L50.42,115.41 L50.75,115.40 L51.09,115.40 L51.43,115.39 L51.77,115.38 L52.11,115.37 L52.45,115.37 L52.79,115.36 L53.13,115.35 L53.47,115.34 L53.80,115.33 L54.14,115.32 L54.48,115.31 L54.82,115.30 L55.16,115.29 L55.50,115.28 L55.84,115.27 L56.18,115.26 L56.52,115.25 L56.85,115.24 L57.19,115.22 L57.53,115.21 L57.87,115.20 L58.21,115.18 L58.55,115.17 L58.89,115.16 L59.23,115.15 L59.57,115.13 L59.90,115.12 L60.24,115.10 L60.58,115.09 L60.92,115.08 L61.26,115.06 L61.60,115.05 L61.94,115.04 L62.28,115.02 L62.61,115.01 L62.95,115.00 L63.29,114.99 L63.63,114.97 L63.97,114.96 L64.31,114.95 L64.65,114.94 L64.99,114.93 L65.33,114.92 L65.66,114.91 L66.00,114.90 L66.34,114.89 L66.68,114.88 L67.02,114.87 L67.36,114.87 L67.70,114.86 L68.04,114.85 L68.38,114.85 L68.71,114.84 L69.05,114.84 L69.39,114.84 L69.73,114.83 L70.07,114.83 L70.41,114.83 L70.75,114.83 L71.09,114.83 L71.43,114.83 L71.76,114.84 L72.10,114.84 L72.44,114.84 L72.78,114.85 L73.12,114.85 L73.46,114.86 L73.80,114.86 L74.14,114.87 L74.48,114.88 L74.81,114.89 L75.15,114.89 L75.49,114.90 L75.83,114.91 L76.17,114.92 L76.51,114.93 L76.85,114.95 L77.19,114.96 L77.53,114.97 L77.86,114.98 L78.20,114.99 L78.54,115.01 L78.88,115.02 L79.22,115.03 L79.56,115.05 L79.90,115.06 L80.24,115.07 L80.58,115.09 L80.91,115.10 L81.25,115.11 L81.59,115.13 L81.93,115.14 L82.27,115.15 L82.61,115.17 L82.95,115.18 L83.29,115.19 L83.62,115.21 L83.96,115.22 L84.30,115.23 L84.64,115.24 L84.98,115.25 L85.32,115.27 L85.66,115.28 L86.00,115.29 L86.34,115.30 L86.67,115.31 L87.01,115.32 L87.35,115.33 L87.69,115.34 L88.03,115.35 L88.37,115.36 L88.71,115.36 L89.05,115.37 L89.39,115.38 L89.72,115.39 L90.06,115.39 L90.40,115.40 L90.74,115.41 L91.08,115.41 L91.42,115.42 L91.76,115.42 L92.10,115.43 L92.44,115.43 L92.77,115.44 L93.11,115.44 L93.45,115.45 L93.79,115.45 L94.13,115.45 L94.47,115.46 L94.81,115.46 L95.15,115.46 L95.49,115.47 L95.82,115.47 L96.16,115.47 L96.50,115.47 L96.84,115.48 L97.18,115.48 L97.52,115.48 L97.86,115.48 L98.20,115.48 L98.54,115.48 L98.87,115.49 L99.21,115.49 L99.55,115.49 L99.89,115.49 L100.23,115.49 L100.57,115.49 L100.91,115.49 L101.25,115.49 L101.59,115.49 L101.92,115.49 L102.26,115.49 L102.60,115.50 L102.94,115.50 L103.28,115.50 L103.62,115.50 L103.96,115.50 L104.30,115.50 L104.63,115.50 L104.97,115.50 L105.31,115.50 L105.65,115.50 L105.99,115.50 L106.33,115.50 L106.67,115.50 L107.01,115.50 L107.35,115.50 L107.68,115.50 L108.02,115.50 L108.36,115.50 L108.70,115.50 L109.04,115.50 L109.38,115.50 L109.72,115.50 L110.06,115.50 L110.40,115.50 L110.73,115.50 L111.07,115.50 L111.41,115.50 L111.75,115.50 L112.09,115.50 L112.43,115.50 L112.77,115.50 L113.11,115.50 L113.45,115.50 L113.78,115.50 L114.12,115.50 L114.46,115.50 L114.80,115.50 L115.14,115.50 L115.48,115.50 L115.82,115.50 L116.16,115.50 L116.50,115.50 L116.83,115.50 L117.17,115.50 L117.51,115.50 L117.85,115.50 L118.19,115.50 L118.53,115.50 L118.87,115.50 L119.21,115.50 L119.55,115.50 L119.88,115.50 L120.22,115.50 L120.56,115.50 L120.90,115.50 L121.24,115.50 L121.58,115.50 L121.92,115.50 L122.26,115.50 L122.60,115.50 L122.93,115.50 L123.27,115.50 L123.61,115.49 L123.95,115.49 L124.29,115.49 L124.63,115.49 L124.97,115.49 L125.31,115.49 L125.64,115.49 L125.98,115.48 L126.32,115.48 L126.66,115.48 L127.00,115.48 L127.34,115.47 L127.68,115.47 L128.02,115.46 L128.36,115.46 L128.69,115.45 L129.03,115.45 L129.37,115.44 L129.71,115.43 L130.05,115.43 L130.39,115.42 L130.73,115.41 L131.07,115.39 L131.41,115.38 L131.74,115.37 L132.08,115.35 L132.42,115.33 L132.76,115.31 L133.10,115.29 L133.44,115.27 L133.78,115.24 L134.12,115.21 L134.46,115.18 L134.79,115.15 L135.13,115.11 L135.47,115.07 L135.81,115.03 L136.15,114.98 L136.49,114.93 L136.83,114.87 L137.17,114.81 L137.51,114.75 L137.84,114.68 L138.18,114.60 L138.52,114.52 L138.86,114.43 L139.20,114.34 L139.54,114.23 L139.88,114.13 L140.22,114.01 L140.56,113.88 L140.89,113.75 L141.23,113.61 L141.57,113.46 L141.91,113.29 L142.25,113.12 L142.59,112.94 L142.93,112.75 L143.27,112.54 L143.61,112.32 L143.94,112.09 L144.28,111.85 L144.62,111.60 L144.96,111.33 L145.30,111.04 L145.64,110.74 L145.98,110.43 L146.32,110.10 L146.65,109.75 L146.99,109.39 L147.33,109.01 L147.67,108.61 L148.01,108.20 L148.35,107.77 L148.69,107.31 L149.03,106.84 L149.37,106.35 L149.70,105.84 L150.04,105.31 L150.38,104.77 L150.72,104.20 L151.06,103.60 L151.40,102.99 L151.74,102.36 L152.08,101.71 L152.42,101.03 L152.75,100.33 L153.09,99.62 L153.43,98.88 L153.77,98.11 L154.11,97.33 L154.45,96.52 L154.79,95.70 L155.13,94.85 L155.47,93.98 L155.80,93.09 L156.14,92.17 L156.48,91.24 L156.82,90.28 L157.16,89.31 L157.50,88.31 L157.84,87.30 L158.18,86.26 L158.52,85.21 L158.85,84.14 L159.19,83.05 L159.53,81.94 L159.87,80.81 L160.21,79.67 L160.55,78.51 L160.89,77.34 L161.23,76.15 L161.57,74.95 L161.90,73.73 L162.24,72.51 L162.58,71.26 L162.92,70.01 L163.26,68.75 L163.60,67.48 L163.94,66.19 L164.28,64.90 L164.62,63.61 L164.95,62.30 L165.29,60.99 L165.63,59.68 L165.97,58.36 L166.31,57.04 L166.65,55.71 L166.99,54.39 L167.33,53.06 L167.66,51.74 L168.00,50.41 L168.34,49.09 L168.68,47.77 L169.02,46.46 L169.36,45.15 L169.70,43.85 L170.04,42.55 L170.38,41.26 L170.71,39.98 L171.05,38.72 L171.39,37.46 L171.73,36.21 L172.07,34.98 L172.41,33.75 L172.75,32.55 L173.09,31.36 L173.43,30.18 L173.76,29.02 L174.10,27.88 L174.44,26.76 L174.78,25.65 L175.12,24.57 L175.46,23.51 L175.80,22.47 L176.14,21.45 L176.48,20.45 L176.81,19.48 L177.15,18.53 L177.49,17.61 L177.83,16.71 L178.17,15.84 L178.51,15.00 L178.85,14.18 L179.19,13.39 L179.53,12.63 L179.86,11.90 L180.20,11.20 L180.54,10.53 L180.88,9.89 L181.22,9.28 L181.56,8.70 L181.90,8.16 L182.24,7.65 L182.58,7.17 L182.91,6.72 L183.25,6.30 L183.59,5.92 L183.93,5.58 L184.27,5.26 L184.61,4.98 L184.95,4.74 L185.29,4.53 L185.63,4.35 L185.96,4.21 L186.30,4.11 L186.64,4.04 L186.98,4.00 L187.32,4.00 L187.66,4.04 L188.00,4.11 L188.34,4.21 L188.67,4.35 L189.01,4.53 L189.35,4.74 L189.69,4.98 L190.03,5.26 L190.37,5.58 L190.71,5.92 L191.05,6.30 L191.39,6.72 L191.72,7.17 L192.06,7.65 L192.40,8.16 L192.74,8.70 L193.08,9.28 L193.42,9.89 L193.76,10.53 L194.10,11.20 L194.44,11.90 L194.77,12.63 L195.11,13.39 L195.45,14.18 L195.79,15.00 L196.13,15.84 L196.47,16.71 L196.81,17.61 L197.15,18.53 L197.49,19.48 L197.82,20.45 L198.16,21.45 L198.50,22.47 L198.84,23.51 L199.18,24.57 L199.52,25.65 L199.86,26.76 L200.20,27.88 L200.54,29.02 L200.87,30.18 L201.21,31.36 L201.55,32.55 L201.89,33.75 L202.23,34.98 L202.57,36.21 L202.91,37.46 L203.25,38.72 L203.59,39.98 L203.92,41.26 L204.26,42.55 L204.60,43.85 L204.94,45.15 L205.28,46.46 L205.62,47.77 L205.96,49.09 L206.30,50.41 L206.64,51.74 L206.97,53.06 L207.31,54.39 L207.65,55.71 L207.99,57.04 L208.33,58.36 L208.67,59.68 L209.01,60.99 L209.35,62.30 L209.68,63.61 L210.02,64.90 L210.36,66.19 L210.70,67.48 L211.04,68.75 L211.38,70.01 L211.72,71.26 L212.06,72.51 L212.40,73.73 L212.73,74.95 L213.07,76.15 L213.41,77.34 L213.75,78.51 L214.09,79.67 L214.43,80.81 L214.77,81.94 L215.11,83.05 L215.45,84.14 L215.78,85.21 L216.12,86.26 L216.46,87.30 L216.80,88.31 L217.14,89.31 L217.48,90.28 L217.82,91.24 L218.16,92.17 L218.50,93.09 L218.83,93.98 L219.17,94.85 L219.51,95.70 L219.85,96.52 L220.19,97.33 L220.53,98.11 L220.87,98.88 L221.21,99.62 L221.55,100.33 L221.88,101.03 L222.22,101.71 L222.56,102.36 L222.90,102.99 L223.24,103.60 L223.58,104.20 L223.92,104.77 L224.26,105.31 L224.60,105.84 L224.93,106.35 L225.27,106.84 L225.61,107.31 L225.95,107.77 L226.29,108.20 L226.63,108.61 L226.97,109.01 L227.31,109.39 L227.65,109.75 L227.98,110.10 L228.32,110.43 L228.66,110.74 L229.00,111.04 L229.34,111.33 L229.68,111.60 L230.02,111.85 L230.36,112.09 L230.69,112.32 L231.03,112.54 L231.37,112.75 L231.71,112.94 L232.05,113.12 L232.39,113.29 L232.73,113.46 L233.07,113.61 L233.41,113.75 L233.74,113.88 L234.08,114.01 L234.42,114.13 L234.76,114.23 L235.10,114.34 L235.44,114.43 L235.78,114.52 L236.12,114.60 L236.46,114.68 L236.79,114.75 L237.13,114.81 L237.47,114.87 L237.81,114.93 L238.15,114.98 L238.49,115.03 L238.83,115.07 L239.17,115.11 L239.51,115.15 L239.84,115.18 L240.18,115.21 L240.52,115.24 L240.86,115.27 L241.20,115.29 L241.54,115.31 L241.88,115.33 L242.22,115.35 L242.56,115.37 L242.89,115.38 L243.23,115.39 L243.57,115.41 L243.91,115.42 L244.25,115.43 L244.59,115.43 L244.93,115.44 L245.27,115.45 L245.61,115.45 L245.94,115.46 L246.28,115.46 L246.62,115.47 L246.96,115.47 L247.30,115.48 L247.64,115.48 L247.98,115.48 L248.32,115.48 L248.66,115.49 L248.99,115.49 L249.33,115.49 L249.67,115.49 L250.01,115.49 L250.35,115.49 L250.69,115.49 L251.03,115.50 L251.37,115.50 L251.70,115.50 L252.04,115.50 L252.38,115.50 L252.72,115.50 L253.06,115.50 L253.40,115.50 L253.74,115.50 L254.08,115.50 L254.42,115.50 L254.75,115.50 L255.09,115.50 L255.43,115.50 L255.77,115.50 L256.11,115.50 L256.45,115.50 L256.79,115.50 L257.13,115.50 L257.47,115.50 L257.80,115.50 L258.14,115.50 L258.48,115.50 L258.82,115.50 L259.16,115.50 L259.50,115.50 L259.84,115.50 L260.18,115.50 L260.52,115.50 L260.85,115.50 L261.19,115.50 L261.53,115.50 L261.87,115.50 L262.21,115.50 L262.55,115.50 L262.89,115.50 L263.23,115.50 L263.57,115.50 L263.90,115.50 L264.24,115.50 L264.58,115.50 L264.92,115.50 L265.26,115.50 L265.60,115.50 L265.94,115.50 L266.28,115.50 L266.62,115.50 L266.95,115.50 L267.29,115.50 L267.63,115.50 L267.97,115.50 L268.31,115.50 L268.65,115.50 L268.99,115.50 L269.33,115.50 L269.67,115.50 L270.00,115.50 L270.34,115.50 L270.68,115.50 L271.02,115.50 L271.36,115.50 L271.70,115.50 L272.04,115.49 L272.38,115.49 L272.71,115.49 L273.05,115.49 L273.39,115.49 L273.73,115.49 L274.07,115.49 L274.41,115.49 L274.75,115.49 L275.09,115.49 L275.43,115.49 L275.76,115.48 L276.10,115.48 L276.44,115.48 L276.78,115.48 L277.12,115.48 L277.46,115.48 L277.80,115.47 L278.14,115.47 L278.48,115.47 L278.81,115.47 L279.15,115.46 L279.49,115.46 L279.83,115.46 L280.17,115.45 L280.51,115.45 L280.85,115.45 L281.19,115.44 L281.53,115.44 L281.86,115.43 L282.20,115.43 L282.54,115.42 L282.88,115.42 L283.22,115.41 L283.56,115.41 L283.90,115.40 L284.24,115.39 L284.58,115.39 L284.91,115.38 L285.25,115.37 L285.59,115.36 L285.93,115.36 L286.27,115.35 L286.61,115.34 L286.95,115.33 L287.29,115.32 L287.63,115.31 L287.96,115.30 L288.30,115.29 L288.64,115.28 L288.98,115.27 L289.32,115.25 L289.66,115.24 L290.00,115.23 L290.34,115.22 L290.68,115.21 L291.01,115.19 L291.35,115.18 L291.69,115.17 L292.03,115.15 L292.37,115.14 L292.71,115.13 L293.05,115.11 L293.39,115.10 L293.72,115.09 L294.06,115.07 L294.40,115.06 L294.74,115.05 L295.08,115.03 L295.42,115.02 L295.76,115.01 L296.10,114.99 L296.44,114.98 L296.77,114.97 L297.11,114.96 L297.45,114.95 L297.79,114.93 L298.13,114.92 L298.47,114.91 L298.81,114.90 L299.15,114.89 L299.49,114.89 L299.82,114.88 L300.16,114.87 L300.50,114.86 L300.84,114.86 L301.18,114.85 L301.52,114.85 L301.86,114.84 L302.20,114.84 L302.54,114.84 L302.87,114.83 L303.21,114.83 L303.55,114.83 L303.89,114.83 L304.23,114.83 L304.57,114.83 L304.91,114.84 L305.25,114.84 L305.59,114.84 L305.92,114.85 L306.26,114.85 L306.60,114.86 L306.94,114.87 L307.28,114.87 L307.62,114.88 L307.96,114.89 L308.30,114.90 L308.64,114.91 L308.97,114.92 L309.31,114.93 L309.65,114.94 L309.99,114.95 L310.33,114.96 L310.67,114.97 L311.01,114.99 L311.35,115.00 L311.69,115.01 L312.02,115.02 L312.36,115.04 L312.70,115.05 L313.04,115.06 L313.38,115.08 L313.72,115.09 L314.06,115.10 L314.40,115.12 L314.73,115.13 L315.07,115.15 L315.41,115.16 L315.75,115.17 L316.09,115.18 L316.43,115.20 L316.77,115.21 L317.11,115.22 L317.45,115.24 L317.78,115.25 L318.12,115.26 L318.46,115.27 L318.80,115.28 L319.14,115.29 L319.48,115.30 L319.82,115.31 L320.16,115.32 L320.50,115.33 L320.83,115.34 L321.17,115.35 L321.51,115.36 L321.85,115.37 L322.19,115.37 L322.53,115.38 L322.87,115.39 L323.21,115.40 L323.55,115.40 L323.88,115.41 L324.22,115.41 L324.56,115.42 L324.90,115.43 L325.24,115.43 L325.58,115.44 L325.92,115.44 L326.26,115.44 L326.60,115.45 L326.93,115.45 L327.27,115.46 L327.61,115.46 L327.95,115.46 L328.29,115.47 L328.63,115.47 L328.97,115.47 L329.31,115.47 L329.65,115.48 L329.98,115.48 L330.32,115.48 L330.66,115.48 L331.00,115.48 L331.34,115.48 L331.68,115.49 L332.02,115.49 L332.36,115.49 L332.70,115.49 L333.03,115.49 L333.37,115.49 L333.71,115.49 L334.05,115.49 L334.39,115.49 L334.73,115.49 L335.07,115.49 L335.41,115.50 L335.74,115.50 L336.08,115.50 L336.42,115.50 L336.76,115.50 L337.10,115.50 L337.44,115.50 L337.78,115.50 L338.12,115.50 L338.46,115.50 L338.79,115.50 L339.13,115.50 L339.47,115.50" stroke="#000"/>
<path d="M34.83,115.50 L35.17,115.50 L35.51,115.50 L35.84,115.50 L36.18,115.49 L36.52,115.49 L36.86,115.49 L37.20,115.49 L37.54,115.49 L37.88,115.49 L38.22,115.49 L38.56,115.49 L38.89,115.49 L39.23,115.49 L39.57,115.48 L39.91,115.48 L40.25,115.48 L40.59,115.48 L40.93,115.48 L41.27,115.47 L41.60,115.47 L41.94,115.47 L42.28,115.46 L42.62,115.46 L42.96,115.46 L43.30,115.45 L43.64,115.45 L43.98,115.44 L44.32,115.44 L44.65,115.43 L44.99,115.43 L45.33,115.42 L45.67,115.41 L46.01,115.41 L46.35,115.40 L46.69,115.39 L47.03,115.38 L47.37,115.37 L47.70,115.36 L48.04,115.35 L48.38,115.34 L48.72,115.33 L49.06,115.32 L49.40,115.30 L49.74,115.29 L50.08,115.27 L50.42,115.26 L50.75,115.24 L51.09,115.22 L51.43,115.20 L51.77,115.19 L52.11,115.17 L52.45,115.14 L52.79,115.12 L53.13,115.10 L53.47,115.08 L53.80,115.05 L54.14,115.03 L54.48,115.00 L54.82,114.97 L55.16,114.95 L55.50,114.92 L55.84,114.89 L56.18,114.86 L56.52,114.83 L56.85,114.79 L57.19,114.76 L57.53,114.73 L57.87,114.69 L58.21,114.66 L58.55,114.63 L58.89,114.59 L59.23,114.55 L59.57,114.52 L59.90,114.48 L60.24,114.45 L60.58,114.41 L60.92,114.37 L61.26,114.34 L61.60,114.30 L61.94,114.27 L62.28,114.23 L62.61,114.20 L62.95,114.16 L63.29,114.13 L63.63,114.10 L63.97,114.06 L64.31,114.03 L64.65,114.00 L64.99,113.97 L65.33,113.95 L65.66,113.92 L66.00,113.89 L66.34,113.87 L66.68,113.85 L67.02,113.83 L67.36,113.81 L67.70,113.79 L68.04,113.77 L68.38,113.76 L68.71,113.75 L69.05,113.74 L69.39,113.73 L69.73,113.72 L70.07,113.72 L70.41,113.72 L70.75,113.72 L71.09,113.72 L71.43,113.72 L71.76,113.73 L72.10,113.73 L72.44,113.74 L72.78,113.76 L73.12,113.77 L73.46,113.78 L73.80,113.80 L74.14,113.82 L74.48,113.84 L74.81,113.86 L75.15,113.88 L75.49,113.91 L75.83,113.94 L76.17,113.96 L76.51,113.99 L76.85,114.02 L77.19,114.05 L77.53,114.08 L77.86,114.12 L78.20,114.15 L78.54,114.18 L78.88,114.22 L79.22,114.25 L79.56,114.29 L79.90,114.33 L80.24,114.36 L80.58,114.40 L80.91,114.43 L81.25,114.47 L81.59,114.51 L81.93,114.54 L82.27,114.58 L82.61,114.61 L82.95,114.65 L83.29,114.68 L83.62,114.72 L83.96,114.75 L84.30,114.78 L84.64,114.81 L84.98,114.85 L85.32,114.88 L85.66,114.91 L86.00,114.93 L86.34,114.96 L86.67,114.99 L87.01,115.02 L87.35,115.04 L87.69,115.07 L88.03,115.09 L88.37,115.11 L88.71,115.14 L89.05,115.16 L89.39,115.18 L89.72,115.20 L90.06,115.22 L90.40,115.23 L90.74,115.25 L91.08,115.27 L91.42,115.28 L91.76,115.30 L92.10,115.31 L92.44,115.32 L92.77,115.34 L93.11,115.35 L93.45,115.36 L93.79,115.37 L94.13,115.38 L94.47,115.39 L94.81,115.40 L95.15,115.40 L95.49,115.41 L95.82,115.42 L96.16,115.43 L96.50,115.43 L96.84,115.44 L97.18,115.44 L97.52,115.45 L97.86,115.45 L98.20,115.46 L98.54,115.46 L98.87,115.46 L99.21,115.47 L99.55,115.47 L99.89,115.47 L100.23,115.47 L100.57,115.48 L100.91,115.48 L101.25,115.48 L101.59,115.48 L101.92,115.48 L102.26,115.49 L102.60,115.49 L102.94,115.49 L103.28,115.49 L103.62,115.49 L103.96,115.49 L104.30,115.49 L104.63,115.49 L104.97,115.49 L105.31,115.49 L105.65,115.49 L105.99,115.49 L106.33,115.49 L106.67,115.49 L107.01,115.49 L107.35,115.48 L107.68,115.48 L108.02,115.48 L108.36,115.48 L108.70,115.47 L109.04,115.47 L109.38,115.46 L109.72,115.46 L110.06,115.45 L110.40,115.44 L110.73,115.43 L111.07,115.42 L111.41,115.41 L111.75,115.40 L112.09,115.38 L112.43,115.37 L112.77,115.35 L113.11,115.32 L113.45,115.30 L113.78,115.27 L114.12,115.24 L114.46,115.21 L114.80,115.17 L115.14,115.12 L115.48,115.07 L115.82,115.02 L116.16,114.96 L116.50,114.90 L116.83,114.82 L117.17,114.74 L117.51,114.66 L117.85,114.56 L118.19,114.45 L118.53,114.34 L118.87,114.21 L119.21,114.08 L119.55,113.93 L119.88,113.77 L120.22,113.59 L120.56,113.40 L120.90,113.20 L121.24,112.98 L121.58,112.75 L121.92,112.49 L122.26,112.22 L122.60,111.93 L122.93,111.62 L123.27,111.29 L123.61,110.94 L123.95,110.56 L124.29,110.16 L124.63,109.74 L124.97,109.29 L125.31,108.82 L125.64,108.32 L125.98,107.79 L126.32,107.24 L126.66,106.65 L127.00,106.04 L127.34,105.40 L127.68,104.72 L128.02,104.02 L128.36,103.28 L128.69,102.52 L129.03,101.72 L129.37,100.89 L129.71,100.02 L130.05,99.13 L130.39,98.20 L130.73,97.24 L131.07,96.24 L131.41,95.21 L131.74,94.15 L132.08,93.06 L132.42,91.94 L132.76,90.78 L133.10,89.59 L133.44,88.38 L133.78,87.13 L134.12,85.85 L134.46,84.54 L134.79,83.21 L135.13,81.85 L135.47,80.47 L135.81,79.05 L136.15,77.62 L136.49,76.16 L136.83,74.68 L137.17,73.18 L137.51,71.66 L137.84,70.13 L138.18,68.57 L138.52,67.01 L138.86,65.43 L139.20,63.83 L139.54,62.23 L139.88,60.62 L140.22,59.00 L140.56,57.37 L140.89,55.75 L141.23,54.12 L141.57,52.49 L141.91,50.86 L142.25,49.23 L142.59,47.61 L142.93,45.99 L143.27,44.39 L143.61,42.79 L143.94,41.20 L144.28,39.63 L144.62,38.07 L144.96,36.53 L145.30,35.01 L145.64,33.51 L145.98,32.03 L146.32,30.57 L146.65,29.14 L146.99,27.74 L147.33,26.36 L147.67,25.01 L148.01,23.69 L148.35,22.41 L148.69,21.16 L149.03,19.94 L149.37,18.77 L149.70,17.62 L150.04,16.52 L150.38,15.46 L150.72,14.44 L151.06,13.46 L151.40,12.53 L151.74,11.64 L152.08,10.79 L152.42,9.99 L152.75,9.24 L153.09,8.53 L153.43,7.88 L153.77,7.27 L154.11,6.72 L154.45,6.21 L154.79,5.76 L155.13,5.35 L155.47,5.00 L155.80,4.70 L156.14,4.46 L156.48,4.26 L156.82,4.12 L157.16,4.03 L157.50,4.00 L157.84,4.02 L158.18,4.10 L158.52,4.24 L158.85,4.44 L159.19,4.70 L159.53,5.02 L159.87,5.41 L160.21,5.85 L160.55,6.35 L160.89,6.92 L161.23,7.55 L161.57,8.24 L161.90,8.99 L162.24,9.80 L162.58,10.67 L162.92,11.60 L163.26,12.59 L163.60,13.63 L163.94,14.74 L164.28,15.90 L164.62,17.12 L164.95,18.39 L165.29,19.71 L165.63,21.09 L165.97,22.52 L166.31,24.00 L166.65,25.52 L166.99,27.09 L167.33,28.71 L167.66,30.36 L168.00,32.06 L168.34,33.80 L168.68,35.57 L169.02,37.38 L169.36,39.22 L169.70,41.09 L170.04,42.99 L170.38,44.92 L170.71,46.87 L171.05,48.83 L171.39,50.82 L171.73,52.82 L172.07,54.83 L172.41,56.86 L172.75,58.89 L173.09,60.92 L173.43,62.96 L173.76,65.00 L174.10,67.03 L174.44,69.05 L174.78,71.07 L175.12,73.07 L175.46,75.06 L175.80,77.03 L176.14,78.98 L176.48,80.90 L176.81,82.80 L177.15,84.67 L177.49,86.50 L177.83,88.30 L178.17,90.06 L178.51,91.79 L178.85,93.47 L179.19,95.10 L179.53,96.69 L179.86,98.22 L180.20,99.71 L180.54,101.13 L180.88,102.50 L181.22,103.82 L181.56,105.07 L181.90,106.26 L182.24,107.38 L182.58,108.43 L182.91,109.42 L183.25,110.34 L183.59,111.18 L183.93,111.96 L184.27,112.66 L184.61,113.28 L184.95,113.83 L185.29,114.30 L185.63,114.70 L185.96,115.01 L186.30,115.25 L186.64,115.41 L186.98,115.49 L187.32,115.49 L187.66,115.41 L188.00,115.25 L188.34,115.01 L188.67,114.70 L189.01,114.30 L189.35,113.83 L189.69,113.28 L190.03,112.66 L190.37,111.96 L190.71,111.18 L191.05,110.34 L191.39,109.42 L191.72,108.43 L192.06,107.38 L192.40,106.26 L192.74,105.07 L193.08,103.82 L193.42,102.50 L193.76,101.13 L194.10,99.71 L194.44,98.22 L194.77,96.69 L195.11,95.10 L195.45,93.47 L195.79,91.79 L196.13,90.06 L196.47,88.30 L196.81,86.50 L197.15,84.67 L197.49,82.80 L197.82,80.90 L198.16,78.98 L198.50,77.03 L198.84,75.06 L199.18,73.07 L199.52,71.07 L199.86,69.05 L200.20,67.03 L200.54,65.00 L200.87,62.96 L201.21,60.92 L201.55,58.89 L201.89,56.86 L202.23,54.83 L202.57,52.82 L202.91,50.82 L203.25,48.83 L203.59,46.87 L203.92,44.92 L204.26,42.99 L204.60,41.09 L204.94,39.22 L205.28,37.38 L205.62,35.57 L205.96,33.80 L206.30,32.06 L206.64,30.36 L206.97,28.71 L207.31,27.09 L207.65,25.52 L207.99,24.00 L208.33,22.52 L208.67,21.09 L209.01,19.71 L209.35,18.39 L209.68,17.12 L210.02,15.90 L210.36,14.74 L210.70,13.63 L211.04,12.59 L211.38,11.60 L211.72,10.67 L212.06,9.80 L212.40,8.99 L212.73,8.24 L213.07,7.55 L213.41,6.92 L213.75,6.35 L214.09,5.85 L214.43,5.41 L214.77,5.02 L215.11,4.70 L215.45,4.44 L215.78,4.24 L216.12,4.10 L216.46,4.02 L216.80,4.00 L217.14,4.03 L217.48,4.12 L217.82,4.26 L218.16,4.46 L218.50,4.70 L218.83,5.00 L219.17,5.35 L219.51,5.76 L219.85,6.21 L220.19,6.72 L220.53,7.27 L220.87,7.88 L221.21,8.53 L221.55,9.24 L221.88,9.99 L222.22,10.79 L222.56,11.64 L222.90,12.53 L223.24,13.46 L223.58,14.44 L223.92,15.46 L224.26,16.52 L224.60,17.62 L224.93,18.77 L225.27,19.94 L225.61,21.16 L225.95,22.41 L226.29,23.69 L226.63,25.01 L226.97,26.36 L227.31,27.74 L227.65,29.14 L227.98,30.57 L228.32,32.03 L228.66,33.51 L229.00,35.01 L229.34,36.53 L229.68,38.07 L230.02,39.63 L230.36,41.20 L230.69,42.79 L231.03,44.39 L231.37,45.99 L231.71,47.61 L232.05,49.23 L232.39,50.86 L232.73,52.49 L233.07,54.12 L233.41,55.75 L233.74,57.37 L234.08,59.00 L234.42,60.62 L234.76,62.23 L235.10,63.83 L235.44,65.43 L235.78,67.01 L236.12,68.57 L236.46,70.13 L236.79,71.66 L237.13,73.18 L237.47,74.68 L237.81,76.16 L238.15,77.62 L238.49,79.05 L238.83,80.47 L239.17,81.85 L239.51,83.21 L239.84,84.54 L240.18,85.85 L240.52,87.13 L240.86,88.38 L241.20,89.59 L241.54,90.78 L241.88,91.94 L242.22,93.06 L242.56,94.15 L242.89,95.21 L243.23,96.24 L243.57,97.24 L243.91,98.20 L244.25,99.13 L244.59,100.02 L244.93,100.89 L245.27,101.72 L245.61,102.52 L245.94,103.28 L246.28,104.02 L246.62,104.72 L246.96,105.40 L247.30,106.04 L247.64,106.65 L247.98,107.24 L248.32,107.79 L248.66,108.32 L248.99,108.82 L249.33,109.29 L249.67,109.74 L250.01,110.16 L250.35,110.56 L250.69,110.94 L251.03,111.29 L251.37,111.62 L251.70,111.93 L252.04,112.22 L252.38,112.49 L252.72,112.75 L253.06,112.98 L253.40,113.20 L253.74,113.40 L254.08,113.59 L254.42,113.77 L254.75,113.93 L255.09,114.08 L255.43,114.21 L255.77,114.34 L256.11,114.45 L256.45,114.56 L256.79,114.66 L257.13,114.74 L257.47,114.82 L257.80,114.90 L258.14,114.96 L258.48,115.02 L258.82,115.07 L259.16,115.12 L259.50,115.17 L259.84,115.21 L260.18,115.24 L260.52,115.27 L260.85,115.30 L261.19,115.32 L261.53,115.35 L261.87,115.37 L262.21,115.38 L262.55,115.40 L262.89,115.41 L263.23,115.42 L263.57,115.43 L263.90,115.44 L264.24,115.45 L264.58,115.46 L264.92,115.46 L265.26,115.47 L265.60,115.47 L265.94,115.48 L266.28,115.48 L266.62,115.48 L266.95,115.48 L267.29,115.49 L267.63,115.49 L267.97,115.49 L268.31,115.49 L268.65,115.49 L268.99,115.49 L269.33,115.49 L269.67,115.49 L270.00,115.49 L270.34,115.49 L270.68,115.49 L271.02,115.49 L271.36,115.49 L271.70,115.49 L272.04,115.49 L272.38,115.48 L272.71,115.48 L273.05,115.48 L273.39,115.48 L273.73,115.48 L274.07,115.47 L274.41,115.47 L274.75,115.47 L275.09,115.47 L275.43,115.46 L275.76,115.46 L276.10,115.46 L276.44,115.45 L276.78,115.45 L277.12,115.44 L277.46,115.44 L277.80,115.43 L278.14,115.43 L278.48,115.42 L278.81,115.41 L279.15,115.40 L279.49,115.40 L279.83,115.39 L280.17,115.38 L280.51,115.37 L280.85,115.36 L281.19,115.35 L281.53,115.34 L281.86,115.32 L282.20,115.31 L282.54,115.30 L282.88,115.28 L283.22,115.27 L283.56,115.25 L283.90,115.23 L284.24,115.22 L284.58,115.20 L284.91,115.18 L285.25,115.16 L285.59,115.14 L285.93,115.11 L286.27,115.09 L286.61,115.07 L286.95,115.04 L287.29,115.02 L287.63,114.99 L287.96,114.96 L288.30,114.93 L288.64,114.91 L288.98,114.88 L289.32,114.85 L289.66,114.81 L290.00,114.78 L290.34,114.75 L290.68,114.72 L291.01,114.68 L291.35,114.65 L291.69,114.61 L292.03,114.58 L292.37,114.54 L292.71,114.51 L293.05,114.47 L293.39,114.43 L293.72,114.40 L294.06,114.36 L294.40,114.33 L294.74,114.29 L295.08,114.25 L295.42,114.22 L295.76,114.18 L296.10,114.15 L296.44,114.12 L296.77,114.08 L297.11,114.05 L297.45,114.02 L297.79,113.99 L298.13,113.96 L298.47,113.94 L298.81,113.91 L299.15,113.88 L299.49,113.86 L299.82,113.84 L300.16,113.82 L300.50,113.80 L300.84,113.78 L301.18,113.77 L301.52,113.76 L301.86,113.74 L302.20,113.73 L302.54,113.73 L302.87,113.72 L303.21,113.72 L303.55,113.72 L303.89,113.72 L304.23,113.72 L304.57,113.72 L304.91,113.73 L305.25,113.74 L305.59,113.75 L305.92,113.76 L306.26,113.77 L306.60,113.79 L306.94,113.81 L307.28,113.83 L307.62,113.85 L307.96,113.87 L308.30,113.89 L308.64,113.92 L308.97,113.95 L309.31,113.97 L309.65,114.00 L309.99,114.03 L310.33,114.06 L310.67,114.10 L311.01,114.13 L311.35,114.16 L311.69,114.20 L312.02,114.23 L312.36,114.27 L312.70,114.30 L313.04,114.34 L313.38,114.37 L313.72,114.41 L314.06,114.45 L314.40,114.48 L314.73,114.52 L315.07,114.55 L315.41,114.59 L315.75,114.63 L316.09,114.66 L316.43,114.69 L316.77,114.73 L317.11,114.76 L317.45,114.79 L317.78,114.83 L318.12,114.86 L318.46,114.89 L318.80,114.92 L319.14,114.95 L319.48,114.97 L319.82,115.00 L320.16,115.03 L320.50,115.05 L320.83,115.08 L321.17,115.10 L321.51,115.12 L321.85,115.14 L322.19,115.17 L322.53,115.19 L322.87,115.20 L323.21,115.22 L323.55,115.24 L323.88,115.26 L324.22,115.27 L324.56,115.29 L324.90,115.30 L325.24,115.32 L325.58,115.33 L325.92,115.34 L326.26,115.35 L326.60,115.36 L326.93,115.37 L327.27,115.38 L327.61,115.39 L327.95,115.40 L328.29,115.41 L328.63,115.41 L328.97,115.42 L329.31,115.43 L329.65,115.43 L329.98,115.44 L330.32,115.44 L330.66,115.45 L331.00,115.45 L331.34,115.46 L331.68,115.46 L332.02,115.46 L332.36,115.47 L332.70,115.47 L333.03,115.47 L333.37,115.48 L333.71,115.48 L334.05,115.48 L334.39,115.48 L334.73,115.48 L335.07,115.49 L335.41,115.49 L335.74,115.49 L336.08,115.49 L336.42,115.49 L336.76,115.49 L337.10,115.49 L337.44,115.49 L337.78,115.49 L338.12,115.49 L338.46,115.50 L338.79,115.50 L339.13,115.50 L339.47,115.50" stroke="#e3242b"/>
<path d="M34.83,59.78 L35.17,59.78 L35.51,59.78 L35.84,59.78 L36.18,59.79 L36.52,59.79 L36.86,59.79 L37.20,59.79 L37.54,59.80 L37.88,59.80 L38.22,59.80 L38.56,59.80 L38.89,59.81 L39.23,59.81 L39.57,59.81 L39.91,59.81 L40.25,59.82 L40.59,59.82 L40.93,59.82 L41.27,59.83 L41.60,59.83 L41.94,59.83 L42.28,59.84 L42.62,59.84 L42.96,59.84 L43.30,59.85 L43.64,59.85 L43.98,59.85 L44.32,59.86 L44.65,59.86 L44.99,59.86 L45.33,59.87 L45.67,59.87 L46.01,59.87 L46.35,59.88 L46.69,59.88 L47.03,59.89 L47.37,59.89 L47.70,59.90 L48.04,59.90 L48.38,59.90 L48.72,59.91 L49.06,59.91 L49.40,59.92 L49.74,59.92 L50.08,59.93 L50.42,59.93 L50.75,59.93 L51.09,59.94 L51.43,59.94 L51.77,59.95 L52.11,59.95 L52.45,59.96 L52.79,59.96 L53.13,59.97 L53.47,59.97 L53.80,59.98 L54.14,59.99 L54.48,60.00 L54.82,60.01 L55.16,60.02 L55.50,60.04 L55.84,60.06 L56.18,60.08 L56.52,60.10 L56.85,60.12 L57.19,60.14 L57.53,60.16 L57.87,60.19 L58.21,60.21 L58.55,60.24 L58.89,60.27 L59.23,60.29 L59.57,60.32 L59.90,60.35 L60.24,60.38 L60.58,60.40 L60.92,60.43 L61.26,60.46 L61.60,60.49 L61.94,60.52 L62.28,60.55 L62.61,60.57 L62.95,60.60 L63.29,60.63 L63.63,60.65 L63.97,60.67 L64.31,60.70 L64.65,60.72 L64.99,60.74 L65.33,60.76 L65.66,60.78 L66.00,60.80 L66.34,60.81 L66.68,60.82 L67.02,60.84 L67.36,60.85 L67.70,60.85 L68.04,60.86 L68.38,60.86 L68.71,60.86 L69.05,60.86 L69.39,60.86 L69.73,60.86 L70.07,60.85 L70.41,60.84 L70.75,60.83 L71.09,60.82 L71.43,60.80 L71.76,60.79 L72.10,60.77 L72.44,60.75 L72.78,60.73 L73.12,60.71 L73.46,60.69 L73.80,60.67 L74.14,60.64 L74.48,60.62 L74.81,60.59 L75.15,60.57 L75.49,60.54 L75.83,60.51 L76.17,60.49 L76.51,60.46 L76.85,60.43 L77.19,60.41 L77.53,60.38 L77.86,60.36 L78.20,60.33 L78.54,60.30 L78.88,60.28 L79.22,60.25 L79.56,60.23 L79.90,60.21 L80.24,60.19 L80.58,60.16 L80.91,60.14 L81.25,60.13 L81.59,60.11 L81.93,60.09 L82.27,60.08 L82.61,60.06 L82.95,60.05 L83.29,60.03 L83.62,60.02 L83.96,60.00 L84.30,59.98 L84.64,59.97 L84.98,59.95 L85.32,59.94 L85.66,59.92 L86.00,59.90 L86.34,59.89 L86.67,59.87 L87.01,59.86 L87.35,59.85 L87.69,59.83 L88.03,59.82 L88.37,59.81 L88.71,59.80 L89.05,59.79 L89.39,59.78 L89.72,59.77 L90.06,59.77 L90.40,59.76 L90.74,59.76 L91.08,59.75 L91.42,59.75 L91.76,59.75 L92.10,59.75 L92.44,59.75 L92.77,59.75 L93.11,59.75 L93.45,59.75 L93.79,59.75 L94.13,59.75 L94.47,59.75 L94.81,59.75 L95.15,59.75 L95.49,59.75 L95.82,59.75 L96.16,59.75 L96.50,59.75 L96.84,59.75 L97.18,59.75 L97.52,59.75 L97.86,59.75 L98.20,59.75 L98.54,59.75 L98.87,59.75 L99.21,59.75 L99.55,59.75 L99.89,59.75 L100.23,59.75 L100.57,59.75 L100.91,59.75 L101.25,59.75 L101.59,59.75 L101.92,59.75 L102.26,59.75 L102.60,59.75 L102.94,59.75 L103.28,59.75 L103.62,59.75 L103.96,59.75 L104.30,59.75 L104.63,59.75 L104.97,59.75 L105.31,59.75 L105.65,59.75 L105.99,59.75 L106.33,59.75 L106.67,59.75 L107.01,59.75 L107.35,59.75 L107.68,59.75 L108.02,59.75 L108.36,59.75 L108.70,59.75 L109.04,59.75 L109.38,59.75 L109.72,59.76 L110.06,59.76 L110.40,59.77 L110.73,59.78 L111.07,59.79 L111.41,59.80 L111.75,59.82 L112.09,59.83 L112.43,59.85 L112.77,59.87 L113.11,59.88 L113.45,59.90 L113.78,59.92 L114.12,59.94 L114.46,59.97 L114.80,59.99 L115.14,60.02 L115.48,60.06 L115.82,60.10 L116.16,60.16 L116.50,60.21 L116.83,60.28 L117.17,60.34 L117.51,60.42 L117.85,60.49 L118.19,60.57 L118.53,60.65 L118.87,60.74 L119.21,60.83 L119.55,60.92 L119.88,61.03 L120.22,61.15 L120.56,61.28 L120.90,61.42 L121.24,61.57 L121.58,61.73 L121.92,61.90 L122.26,62.07 L122.60,62.24 L122.93,62.42 L123.27,62.59 L123.61,62.77 L123.95,62.96 L124.29,63.15 L124.63,63.34 L124.97,63.54 L125.31,63.75 L125.64,63.96 L125.98,64.18 L126.32,64.41 L126.66,64.65 L127.00,64.90 L127.34,65.15 L127.68,65.42 L128.02,65.70 L128.36,66.00 L128.69,66.31 L129.03,66.66 L129.37,67.02 L129.71,67.41 L130.05,67.82 L130.39,68.24 L130.73,68.68 L131.07,69.13 L131.41,69.59 L131.74,70.07 L132.08,70.55 L132.42,71.03 L132.76,71.52 L133.10,72.03 L133.44,72.55 L133.78,73.10 L134.12,73.66 L134.46,74.23 L134.79,74.82 L135.13,75.42 L135.47,76.03 L135.81,76.66 L136.15,77.28 L136.49,77.92 L136.83,78.56 L137.17,79.20 L137.51,79.85 L137.84,80.50 L138.18,81.17 L138.52,81.85 L138.86,82.55 L139.20,83.25 L139.54,83.96 L139.88,84.68 L140.22,85.41 L140.56,86.13 L140.89,86.87 L141.23,87.61 L141.57,88.38 L141.91,89.16 L142.25,89.94 L142.59,90.72 L142.93,91.50 L143.27,92.26 L143.61,93.00 L143.94,93.73 L144.28,94.45 L144.62,95.17 L144.96,95.88 L145.30,96.58 L145.64,97.26 L145.98,97.92 L146.32,98.56 L146.65,99.16 L146.99,99.78 L147.33,100.41 L147.67,101.03 L148.01,101.63 L148.35,102.19 L148.69,102.68 L149.03,103.10 L149.37,103.41 L149.70,103.65 L150.04,103.88 L150.38,104.09 L150.72,104.28 L151.06,104.42 L151.40,104.53 L151.74,104.57 L152.08,104.56 L152.42,104.53 L152.75,104.46 L153.09,104.38 L153.43,104.28 L153.77,104.17 L154.11,104.05 L154.45,103.91 L154.79,103.73 L155.13,103.50 L155.47,103.23 L155.80,102.93 L156.14,102.60 L156.48,102.24 L156.82,101.86 L157.16,101.47 L157.50,101.07 L157.84,100.66 L158.18,100.21 L158.52,99.72 L158.85,99.19 L159.19,98.63 L159.53,98.03 L159.87,97.39 L160.21,96.74 L160.55,96.05 L160.89,95.35 L161.23,94.63 L161.57,93.89 L161.90,93.10 L162.24,92.27 L162.58,91.39 L162.92,90.46 L163.26,89.48 L163.60,88.43 L163.94,87.32 L164.28,86.06 L164.62,84.66 L164.95,83.17 L165.29,81.63 L165.63,80.09 L165.97,78.61 L166.31,77.19 L166.65,75.77 L166.99,74.32 L167.33,72.83 L167.66,71.25 L168.00,69.60 L168.34,67.90 L168.68,66.19 L169.02,64.47 L169.36,62.72 L169.70,60.94 L170.04,59.17 L170.38,57.46 L170.71,55.84 L171.05,54.26 L171.39,52.68 L171.73,51.04 L172.07,49.32 L172.41,47.54 L172.75,45.73 L173.09,43.90 L173.43,42.04 L173.76,40.09 L174.10,38.18 L174.44,36.47 L174.78,34.96 L175.12,33.52 L175.46,32.15 L175.80,30.84 L176.14,29.59 L176.48,28.37 L176.81,27.18 L177.15,26.01 L177.49,24.86 L177.83,23.70 L178.17,22.53 L178.51,21.33 L178.85,20.12 L179.19,18.90 L179.53,17.69 L179.86,16.50 L180.20,15.34 L180.54,14.23 L180.88,13.18 L181.22,12.20 L181.56,11.31 L181.90,10.51 L182.24,9.82 L182.58,9.23 L182.91,8.66 L183.25,8.10 L183.59,7.56 L183.93,7.04 L184.27,6.54 L184.61,6.07 L184.95,5.64 L185.29,5.25 L185.63,4.90 L185.96,4.60 L186.30,4.35 L186.64,4.16 L186.98,4.04 L187.32,4.04 L187.66,4.16 L188.00,4.35 L188.34,4.60 L188.67,4.90 L189.01,5.25 L189.35,5.64 L189.69,6.07 L190.03,6.54 L190.37,7.04 L190.71,7.56 L191.05,8.10 L191.39,8.66 L191.72,9.23 L192.06,9.82 L192.40,10.51 L192.74,11.31 L193.08,12.20 L193.42,13.18 L193.76,14.23 L194.10,15.34 L194.44,16.50 L194.77,17.69 L195.11,18.90 L195.45,20.12 L195.79,21.33 L196.13,22.53 L196.47,23.70 L196.81,24.86 L197.15,26.01 L197.49,27.18 L197.82,28.37 L198.16,29.59 L198.50,30.84 L198.84,32.15 L199.18,33.52 L199.52,34.96 L199.86,36.47 L200.20,38.18 L200.54,40.09 L200.87,42.04 L201.21,43.90 L201.55,45.73 L201.89,47.54 L202.23,49.32 L202.57,51.04 L202.91,52.68 L203.25,54.26 L203.59,55.84 L203.92,57.46 L204.26,59.17 L204.60,60.94 L204.94,62.72 L205.28,64.47 L205.62,66.19 L205.96,67.90 L206.30,69.60 L206.64,71.25 L206.97,72.83 L207.31,74.32 L207.65,75.77 L207.99,77.19 L208.33,78.61 L208.67,80.09 L209.01,81.63 L209.35,83.17 L209.68,84.66 L210.02,86.06 L210.36,87.32 L210.70,88.43 L211.04,89.48 L211.38,90.46 L211.72,91.39 L212.06,92.27 L212.40,93.10 L212.73,93.89 L213.07,94.63 L213.41,95.35 L213.75,96.05 L214.09,96.74 L214.43,97.39 L214.77,98.03 L215.11,98.63 L215.45,99.19 L215.78,99.72 L216.12,100.21 L216.46,100.66 L216.80,101.07 L217.14,101.47 L217.48,101.86 L217.82,102.24 L218.16,102.60 L218.50,102.93 L218.83,103.23 L219.17,103.50 L219.51,103.73 L219.85,103.91 L220.19,104.05 L220.53,104.17 L220.87,104.28 L221.21,104.38 L221.55,104.46 L221.88,104.53 L222.22,104.56 L222.56,104.57 L222.90,104.53 L223.24,104.42 L223.58,104.28 L223.92,104.09 L224.26,103.88 L224.60,103.65 L224.93,103.41 L225.27,103.10 L225.61,102.68 L225.95,102.19 L226.29,101.63 L226.63,101.03 L226.97,100.41 L227.31,99.78 L227.65,99.16 L227.98,98.56 L228.32,97.92 L228.66,97.26 L229.00,96.58 L229.34,95.88 L229.68,95.17 L230.02,94.45 L230.36,93.73 L230.69,93.00 L231.03,92.26 L231.37,91.50 L231.71,90.72 L232.05,89.94 L232.39,89.16 L232.73,88.38 L233.07,87.61 L233.41,86.87 L233.74,86.13 L234.08,85.41 L234.42,84.68 L234.76,83.96 L235.10,83.25 L235.44,82.55 L235.78,81.85 L236.12,81.17 L236.46,80.50 L236.79,79.85 L237.13,79.20 L237.47,78.56 L237.81,77.92 L238.15,77.28 L238.49,76.66 L238.83,76.03 L239.17,75.42 L239.51,74.82 L239.84,74.23 L240.18,73.66 L240.52,73.10 L240.86,72.55 L241.20,72.03 L241.54,71.52 L241.88,71.03 L242.22,70.55 L242.56,70.07 L242.89,69.59 L243.23,69.13 L243.57,68.68 L243.91,68.24 L244.25,67.82 L244.59,67.41 L244.93,67.02 L245.27,66.66 L245.61,66.31 L245.94,66.00 L246.28,65.70 L246.62,65.42 L246.96,65.15 L247.30,64.90 L247.64,64.65 L247.98,64.41 L248.32,64.18 L248.66,63.96 L248.99,63.75 L249.33,63.54 L249.67,63.34 L250.01,63.15 L250.35,62.96 L250.69,62.77 L251.03,62.59 L251.37,62.42 L251.70,62.24 L252.04,62.07 L252.38,61.90 L252.72,61.73 L253.06,61.57 L253.40,61.42 L253.74,61.28 L254.08,61.15 L254.42,61.03 L254.75,60.92 L255.09,60.83 L255.43,60.74 L255.77,60.65 L256.11,60.57 L256.45,60.49 L256.79,60.42 L257.13,60.34 L257.47,60.28 L257.80,60.21 L258.14,60.16 L258.48,60.10 L258.82,60.06 L259.16,60.02 L259.50,59.99 L259.84,59.97 L260.18,59.94 L260.52,59.92 L260.85,59.90 L261.19,59.88 L261.53,59.87 L261.87,59.85 L262.21,59.83 L262.55,59.82 L262.89,59.80 L263.23,59.79 L263.57,59.78 L263.90,59.77 L264.24,59.76 L264.58,59.76 L264.92,59.75 L265.26,59.75 L265.60,59.75 L265.94,59.75 L266.28,59.75 L266.62,59.75 L266.95,59.75 L267.29,59.75 L267.63,59.75 L267.97,59.75 L268.31,59.75 L268.65,59.75 L268.99,59.75 L269.33,59.75 L269.67,59.75 L270.00,59.75 L270.34,59.75 L270.68,59.75 L271.02,59.75 L271.36,59.75 L271.70,59.75 L272.04,59.75 L272.38,59.75 L272.71,59.75 L273.05,59.75 L273.39,59.75 L273.73,59.75 L274.07,59.75 L274.41,59.75 L274.75,59.75 L275.09,59.75 L275.43,59.75 L275.76,59.75 L276.10,59.75 L276.44,59.75 L276.78,59.75 L277.12,59.75 L277.46,59.75 L277.80,59.75 L278.14,59.75 L278.48,59.75 L278.81,59.75 L279.15,59.75 L279.49,59.75 L279.83,59.75 L280.17,59.75 L280.51,59.75 L280.85,59.75 L281.19,59.75 L281.53,59.75 L281.86,59.75 L282.20,59.75 L282.54,59.75 L282.88,59.75 L283.22,59.75 L283.56,59.76 L283.90,59.76 L284.24,59.77 L284.58,59.77 L284.91,59.78 L285.25,59.79 L285.59,59.80 L285.93,59.81 L286.27,59.82 L286.61,59.83 L286.95,59.85 L287.29,59.86 L287.63,59.87 L287.96,59.89 L288.30,59.90 L288.64,59.92 L288.98,59.94 L289.32,59.95 L289.66,59.97 L290.00,59.98 L290.34,60.00 L290.68,60.02 L291.01,60.03 L291.35,60.05 L291.69,60.06 L292.03,60.08 L292.37,60.09 L292.71,60.11 L293.05,60.13 L293.39,60.14 L293.72,60.16 L294.06,60.19 L294.40,60.21 L294.74,60.23 L295.08,60.25 L295.42,60.28 L295.76,60.30 L296.10,60.33 L296.44,60.36 L296.77,60.38 L297.11,60.41 L297.45,60.43 L297.79,60.46 L298.13,60.49 L298.47,60.51 L298.81,60.54 L299.15,60.57 L299.49,60.59 L299.82,60.62 L300.16,60.64 L300.50,60.67 L300.84,60.69 L301.18,60.71 L301.52,60.73 L301.86,60.75 L302.20,60.77 L302.54,60.79 L302.87,60.80 L303.21,60.82 L303.55,60.83 L303.89,60.84 L304.23,60.85 L304.57,60.86 L304.91,60.86 L305.25,60.86 L305.59,60.86 L305.92,60.86 L306.26,60.86 L306.60,60.85 L306.94,60.85 L307.28,60.84 L307.62,60.82 L307.96,60.81 L308.30,60.80 L308.64,60.78 L308.97,60.76 L309.31,60.74 L309.65,60.72 L309.99,60.70 L310.33,60.67 L310.67,60.65 L311.01,60.63 L311.35,60.60 L311.69,60.57 L312.02,60.55 L312.36,60.52 L312.70,60.49 L313.04,60.46 L313.38,60.43 L313.72,60.40 L314.06,60.38 L314.40,60.35 L314.73,60.32 L315.07,60.29 L315.41,60.27 L315.75,60.24 L316.09,60.21 L316.43,60.19 L316.77,60.16 L317.11,60.14 L317.45,60.12 L317.78,60.10 L318.12,60.08 L318.46,60.06 L318.80,60.04 L319.14,60.02 L319.48,60.01 L319.82,60.00 L320.16,59.99 L320.50,59.98 L320.83,59.97 L321.17,59.97 L321.51,59.96 L321.85,59.96 L322.19,59.95 L322.53,59.95 L322.87,59.94 L323.21,59.94 L323.55,59.93 L323.88,59.93 L324.22,59.93 L324.56,59.92 L324.90,59.92 L325.24,59.91 L325.58,59.91 L325.92,59.90 L326.26,59.90 L326.60,59.90 L326.93,59.89 L327.27,59.89 L327.61,59.88 L327.95,59.88 L328.29,59.87 L328.63,59.87 L328.97,59.87 L329.31,59.86 L329.65,59.86 L329.98,59.86 L330.32,59.85 L330.66,59.85 L331.00,59.85 L331.34,59.84 L331.68,59.84 L332.02,59.84 L332.36,59.83 L332.70,59.83 L333.03,59.83 L333.37,59.82 L333.71,59.82 L334.05,59.82 L334.39,59.81 L334.73,59.81 L335.07,59.81 L335.41,59.81 L335.74,59.80 L336.08,59.80 L336.42,59.80 L336.76,59.80 L337.10,59.79 L337.44,59.79 L337.78,59.79 L338.12,59.79 L338.46,59.78 L338.79,59.78 L339.13,59.78 L339.47,59.78" stroke="#3a9a5c" stroke-dasharray="3.8,3.6" stroke-width="1.8"/>
<path d="M34.83,115.50 L35.17,115.50 L35.51,115.50 L35.84,115.50 L36.18,115.50 L36.52,115.50 L36.86,115.50 L37.20,115.50 L37.54,115.51 L37.88,115.51 L38.22,115.51 L38.56,115.51 L38.89,115.51 L39.23,115.51 L39.57,115.51 L39.91,115.51 L40.25,115.51 L40.59,115.51 L40.93,115.52 L41.27,115.52 L41.60,115.52 L41.94,115.52 L42.28,115.52 L42.62,115.52 L42.96,115.53 L43.30,115.53 L43.64,115.53 L43.98,115.53 L44.32,115.54 L44.65,115.54 L44.99,115.55 L45.33,115.55 L45.67,115.55 L46.01,115.56 L46.35,115.56 L46.69,115.57 L47.03,115.57 L47.37,115.58 L47.70,115.59 L48.04,115.59 L48.38,115.60 L48.72,115.61 L49.06,115.62 L49.40,115.62 L49.74,115.63 L50.08,115.64 L50.42,115.65 L50.75,115.66 L51.09,115.67 L51.43,115.68 L51.77,115.70 L52.11,115.71 L52.45,115.72 L52.79,115.74 L53.13,115.75 L53.47,115.76 L53.80,115.78 L54.14,115.80 L54.48,115.81 L54.82,115.83 L55.16,115.85 L55.50,115.86 L55.84,115.88 L56.18,115.90 L56.52,115.92 L56.85,115.94 L57.19,115.96 L57.53,115.98 L57.87,116.00 L58.21,116.03 L58.55,116.05 L58.89,116.07 L59.23,116.09 L59.57,116.11 L59.90,116.14 L60.24,116.16 L60.58,116.18 L60.92,116.20 L61.26,116.23 L61.60,116.25 L61.94,116.27 L62.28,116.29 L62.61,116.31 L62.95,116.34 L63.29,116.36 L63.63,116.38 L63.97,116.40 L64.31,116.42 L64.65,116.44 L64.99,116.45 L65.33,116.47 L65.66,116.49 L66.00,116.50 L66.34,116.52 L66.68,116.53 L67.02,116.55 L67.36,116.56 L67.70,116.57 L68.04,116.58 L68.38,116.59 L68.71,116.60 L69.05,116.60 L69.39,116.61 L69.73,116.61 L70.07,116.61 L70.41,116.61 L70.75,116.61 L71.09,116.61 L71.43,116.61 L71.76,116.61 L72.10,116.60 L72.44,116.60 L72.78,116.59 L73.12,116.58 L73.46,116.57 L73.80,116.56 L74.14,116.55 L74.48,116.54 L74.81,116.52 L75.15,116.51 L75.49,116.49 L75.83,116.48 L76.17,116.46 L76.51,116.44 L76.85,116.42 L77.19,116.40 L77.53,116.39 L77.86,116.36 L78.20,116.34 L78.54,116.32 L78.88,116.30 L79.22,116.28 L79.56,116.26 L79.90,116.23 L80.24,116.21 L80.58,116.19 L80.91,116.17 L81.25,116.14 L81.59,116.12 L81.93,116.10 L82.27,116.08 L82.61,116.05 L82.95,116.03 L83.29,116.01 L83.62,115.99 L83.96,115.97 L84.30,115.95 L84.64,115.93 L84.98,115.91 L85.32,115.89 L85.66,115.87 L86.00,115.85 L86.34,115.84 L86.67,115.82 L87.01,115.80 L87.35,115.79 L87.69,115.77 L88.03,115.76 L88.37,115.74 L88.71,115.73 L89.05,115.71 L89.39,115.70 L89.72,115.69 L90.06,115.68 L90.40,115.67 L90.74,115.66 L91.08,115.65 L91.42,115.64 L91.76,115.63 L92.10,115.62 L92.44,115.61 L92.77,115.60 L93.11,115.60 L93.45,115.59 L93.79,115.58 L94.13,115.58 L94.47,115.57 L94.81,115.56 L95.15,115.56 L95.49,115.56 L95.82,115.55 L96.16,115.55 L96.50,115.54 L96.84,115.54 L97.18,115.54 L97.52,115.53 L97.86,115.53 L98.20,115.53 L98.54,115.53 L98.87,115.52 L99.21,115.52 L99.55,115.52 L99.89,115.52 L100.23,115.52 L100.57,115.51 L100.91,115.51 L101.25,115.51 L101.59,115.51 L101.92,115.51 L102.26,115.51 L102.60,115.51 L102.94,115.51 L103.28,115.51 L103.62,115.51 L103.96,115.51 L104.30,115.51 L104.63,115.51 L104.97,115.51 L105.31,115.51 L105.65,115.51 L105.99,115.51 L106.33,115.51 L106.67,115.51 L107.01,115.51 L107.35,115.51 L107.68,115.52 L108.02,115.52 L108.36,115.52 L108.70,115.53 L109.04,115.53 L109.38,115.54 L109.72,115.54 L110.06,115.55 L110.40,115.56 L110.73,115.57 L111.07,115.58 L111.41,115.59 L111.75,115.60 L112.09,115.62 L112.43,115.63 L112.77,115.65 L113.11,115.67 L113.45,115.70 L113.78,115.73 L114.12,115.76 L114.46,115.79 L114.80,115.83 L115.14,115.88 L115.48,115.93 L115.82,115.98 L116.16,116.04 L116.50,116.10 L116.83,116.18 L117.17,116.26 L117.51,116.34 L117.85,116.44 L118.19,116.55 L118.53,116.66 L118.87,116.79 L119.21,116.92 L119.55,117.07 L119.88,117.23 L120.22,117.41 L120.56,117.59 L120.90,117.80 L121.24,118.02 L121.58,118.25 L121.92,118.51 L122.26,118.78 L122.60,119.07 L122.93,119.38 L123.27,119.71 L123.61,120.06 L123.95,120.43 L124.29,120.83 L124.63,121.25 L124.97,121.70 L125.31,122.17 L125.64,122.67 L125.98,123.19 L126.32,123.75 L126.66,124.33 L127.00,124.94 L127.34,125.58 L127.68,126.25 L128.02,126.94 L128.36,127.68 L128.69,128.44 L129.03,129.23 L129.37,130.05 L129.71,130.91 L130.05,131.80 L130.39,132.72 L130.73,133.67 L131.07,134.65 L131.41,135.67 L131.74,136.71 L132.08,137.79 L132.42,138.90 L132.76,140.03 L133.10,141.20 L133.44,142.39 L133.78,143.61 L134.12,144.86 L134.46,146.14 L134.79,147.44 L135.13,148.76 L135.47,150.11 L135.81,151.47 L136.15,152.86 L136.49,154.27 L136.83,155.69 L137.17,157.13 L137.51,158.58 L137.84,160.05 L138.18,161.53 L138.52,163.01 L138.86,164.51 L139.20,166.00 L139.54,167.50 L139.88,169.01 L140.22,170.51 L140.56,172.01 L140.89,173.50 L141.23,174.99 L141.57,176.47 L141.91,177.94 L142.25,179.39 L142.59,180.83 L142.93,182.25 L143.27,183.66 L143.61,185.04 L143.94,186.39 L144.28,187.72 L144.62,189.02 L144.96,190.29 L145.30,191.53 L145.64,192.73 L145.98,193.90 L146.32,195.03 L146.65,196.11 L146.99,197.15 L147.33,198.15 L147.67,199.10 L148.01,200.00 L148.35,200.85 L148.69,201.65 L149.03,202.40 L149.37,203.09 L149.70,203.72 L150.04,204.29 L150.38,204.81 L150.72,205.26 L151.06,205.64 L151.40,205.97 L151.74,206.23 L152.08,206.42 L152.42,206.54 L152.75,206.60 L153.09,206.58 L153.43,206.50 L153.77,206.34 L154.11,206.11 L154.45,205.81 L154.79,205.44 L155.13,205.00 L155.47,204.48 L155.80,203.88 L156.14,203.22 L156.48,202.48 L156.82,201.66 L157.16,200.77 L157.50,199.81 L157.84,198.78 L158.18,197.66 L158.52,196.47 L158.85,195.20 L159.19,193.85 L159.53,192.42 L159.87,190.91 L160.21,189.32 L160.55,187.66 L160.89,185.92 L161.23,184.11 L161.57,182.21 L161.90,180.25 L162.24,178.21 L162.58,176.10 L162.92,173.92 L163.26,171.66 L163.60,169.34 L163.94,166.96 L164.28,164.50 L164.62,161.99 L164.95,159.41 L165.29,156.78 L165.63,154.09 L165.97,151.34 L166.31,148.54 L166.65,145.69 L166.99,142.80 L167.33,139.86 L167.66,136.87 L168.00,133.85 L168.34,130.79 L168.68,127.70 L169.02,124.58 L169.36,121.43 L169.70,118.25 L170.04,115.06 L170.38,111.85 L170.71,108.62 L171.05,105.38 L171.39,102.14 L171.73,98.89 L172.07,95.64 L172.41,92.40 L172.75,89.16 L173.09,85.93 L173.43,82.72 L173.76,79.53 L174.10,76.35 L174.44,73.20 L174.78,70.09 L175.12,67.00 L175.46,63.95 L175.80,60.94 L176.14,57.97 L176.48,55.05 L176.81,52.18 L177.15,49.37 L177.49,46.61 L177.83,43.91 L178.17,41.28 L178.51,38.71 L178.85,36.21 L179.19,33.79 L179.53,31.45 L179.86,29.18 L180.20,27.00 L180.54,24.90 L180.88,22.89 L181.22,20.97 L181.56,19.14 L181.90,17.40 L182.24,15.77 L182.58,14.23 L182.91,12.80 L183.25,11.47 L183.59,10.24 L183.93,9.12 L184.27,8.10 L184.61,7.20 L184.95,6.41 L185.29,5.73 L185.63,5.16 L185.96,4.70 L186.30,4.36 L186.64,4.13 L186.98,4.01 L187.32,4.01 L187.66,4.13 L188.00,4.36 L188.34,4.70 L188.67,5.16 L189.01,5.73 L189.35,6.41 L189.69,7.20 L190.03,8.10 L190.37,9.12 L190.71,10.24 L191.05,11.47 L191.39,12.80 L191.72,14.23 L192.06,15.77 L192.40,17.40 L192.74,19.14 L193.08,20.97 L193.42,22.89 L193.76,24.90 L194.10,27.00 L194.44,29.18 L194.77,31.45 L195.11,33.79 L195.45,36.21 L195.79,38.71 L196.13,41.28 L196.47,43.91 L196.81,46.61 L197.15,49.37 L197.49,52.18 L197.82,55.05 L198.16,57.97 L198.50,60.94 L198.84,63.95 L199.18,67.00 L199.52,70.09 L199.86,73.20 L200.20,76.35 L200.54,79.53 L200.87,82.72 L201.21,85.93 L201.55,89.16 L201.89,92.40 L202.23,95.64 L202.57,98.89 L202.91,102.14 L203.25,105.38 L203.59,108.62 L203.92,111.85 L204.26,115.06 L204.60,118.25 L204.94,121.43 L205.28,124.58 L205.62,127.70 L205.96,130.79 L206.30,133.85 L206.64,136.87 L206.97,139.86 L207.31,142.80 L207.65,145.69 L207.99,148.54 L208.33,151.34 L208.67,154.09 L209.01,156.78 L209.35,159.41 L209.68,161.99 L210.02,164.50 L210.36,166.96 L210.70,169.34 L211.04,171.66 L211.38,173.92 L211.72,176.10 L212.06,178.21 L212.40,180.25 L212.73,182.21 L213.07,184.11 L213.41,185.92 L213.75,187.66 L214.09,189.32 L214.43,190.91 L214.77,192.42 L215.11,193.85 L215.45,195.20 L215.78,196.47 L216.12,197.66 L216.46,198.78 L216.80,199.81 L217.14,200.77 L217.48,201.66 L217.82,202.48 L218.16,203.22 L218.50,203.88 L218.83,204.48 L219.17,205.00 L219.51,205.44 L219.85,205.81 L220.19,206.11 L220.53,206.34 L220.87,206.50 L221.21,206.58 L221.55,206.60 L221.88,206.54 L222.22,206.42 L222.56,206.23 L222.90,205.97 L223.24,205.64 L223.58,205.26 L223.92,204.81 L224.26,204.29 L224.60,203.72 L224.93,203.09 L225.27,202.40 L225.61,201.65 L225.95,200.85 L226.29,200.00 L226.63,199.10 L226.97,198.15 L227.31,197.15 L227.65,196.11 L227.98,195.03 L228.32,193.90 L228.66,192.73 L229.00,191.53 L229.34,190.29 L229.68,189.02 L230.02,187.72 L230.36,186.39 L230.69,185.04 L231.03,183.66 L231.37,182.25 L231.71,180.83 L232.05,179.39 L232.39,177.94 L232.73,176.47 L233.07,174.99 L233.41,173.50 L233.74,172.01 L234.08,170.51 L234.42,169.01 L234.76,167.50 L235.10,166.00 L235.44,164.51 L235.78,163.01 L236.12,161.53 L236.46,160.05 L236.79,158.58 L237.13,157.13 L237.47,155.69 L237.81,154.27 L238.15,152.86 L238.49,151.47 L238.83,150.11 L239.17,148.76 L239.51,147.44 L239.84,146.14 L240.18,144.86 L240.52,143.61 L240.86,142.39 L241.20,141.20 L241.54,140.03 L241.88,138.90 L242.22,137.79 L242.56,136.71 L242.89,135.67 L243.23,134.65 L243.57,133.67 L243.91,132.72 L244.25,131.80 L244.59,130.91 L244.93,130.05 L245.27,129.23 L245.61,128.44 L245.94,127.68 L246.28,126.94 L246.62,126.25 L246.96,125.58 L247.30,124.94 L247.64,124.33 L247.98,123.75 L248.32,123.19 L248.66,122.67 L248.99,122.17 L249.33,121.70 L249.67,121.25 L250.01,120.83 L250.35,120.43 L250.69,120.06 L251.03,119.71 L251.37,119.38 L251.70,119.07 L252.04,118.78 L252.38,118.51 L252.72,118.25 L253.06,118.02 L253.40,117.80 L253.74,117.59 L254.08,117.41 L254.42,117.23 L254.75,117.07 L255.09,116.92 L255.43,116.79 L255.77,116.66 L256.11,116.55 L256.45,116.44 L256.79,116.34 L257.13,116.26 L257.47,116.18 L257.80,116.10 L258.14,116.04 L258.48,115.98 L258.82,115.93 L259.16,115.88 L259.50,115.83 L259.84,115.79 L260.18,115.76 L260.52,115.73 L260.85,115.70 L261.19,115.67 L261.53,115.65 L261.87,115.63 L262.21,115.62 L262.55,115.60 L262.89,115.59 L263.23,115.58 L263.57,115.57 L263.90,115.56 L264.24,115.55 L264.58,115.54 L264.92,115.54 L265.26,115.53 L265.60,115.53 L265.94,115.52 L266.28,115.52 L266.62,115.52 L266.95,115.51 L267.29,115.51 L267.63,115.51 L267.97,115.51 L268.31,115.51 L268.65,115.51 L268.99,115.51 L269.33,115.51 L269.67,115.51 L270.00,115.51 L270.34,115.51 L270.68,115.51 L271.02,115.51 L271.36,115.51 L271.70,115.51 L272.04,115.51 L272.38,115.51 L272.71,115.51 L273.05,115.51 L273.39,115.51 L273.73,115.51 L274.07,115.52 L274.41,115.52 L274.75,115.52 L275.09,115.52 L275.43,115.52 L275.76,115.53 L276.10,115.53 L276.44,115.53 L276.78,115.53 L277.12,115.54 L277.46,115.54 L277.80,115.54 L278.14,115.55 L278.48,115.55 L278.81,115.56 L279.15,115.56 L279.49,115.56 L279.83,115.57 L280.17,115.58 L280.51,115.58 L280.85,115.59 L281.19,115.60 L281.53,115.60 L281.86,115.61 L282.20,115.62 L282.54,115.63 L282.88,115.64 L283.22,115.65 L283.56,115.66 L283.90,115.67 L284.24,115.68 L284.58,115.69 L284.91,115.70 L285.25,115.71 L285.59,115.73 L285.93,115.74 L286.27,115.76 L286.61,115.77 L286.95,115.79 L287.29,115.80 L287.63,115.82 L287.96,115.84 L288.30,115.85 L288.64,115.87 L288.98,115.89 L289.32,115.91 L289.66,115.93 L290.00,115.95 L290.34,115.97 L290.68,115.99 L291.01,116.01 L291.35,116.03 L291.69,116.05 L292.03,116.08 L292.37,116.10 L292.71,116.12 L293.05,116.14 L293.39,116.17 L293.72,116.19 L294.06,116.21 L294.40,116.23 L294.74,116.26 L295.08,116.28 L295.42,116.30 L295.76,116.32 L296.10,116.34 L296.44,116.36 L296.77,116.39 L297.11,116.40 L297.45,116.42 L297.79,116.44 L298.13,116.46 L298.47,116.48 L298.81,116.49 L299.15,116.51 L299.49,116.52 L299.82,116.54 L300.16,116.55 L300.50,116.56 L300.84,116.57 L301.18,116.58 L301.52,116.59 L301.86,116.60 L302.20,116.60 L302.54,116.61 L302.87,116.61 L303.21,116.61 L303.55,116.61 L303.89,116.61 L304.23,116.61 L304.57,116.61 L304.91,116.61 L305.25,116.60 L305.59,116.60 L305.92,116.59 L306.26,116.58 L306.60,116.57 L306.94,116.56 L307.28,116.55 L307.62,116.53 L307.96,116.52 L308.30,116.50 L308.64,116.49 L308.97,116.47 L309.31,116.45 L309.65,116.44 L309.99,116.42 L310.33,116.40 L310.67,116.38 L311.01,116.36 L311.35,116.34 L311.69,116.31 L312.02,116.29 L312.36,116.27 L312.70,116.25 L313.04,116.23 L313.38,116.20 L313.72,116.18 L314.06,116.16 L314.40,116.14 L314.73,116.11 L315.07,116.09 L315.41,116.07 L315.75,116.05 L316.09,116.03 L316.43,116.00 L316.77,115.98 L317.11,115.96 L317.45,115.94 L317.78,115.92 L318.12,115.90 L318.46,115.88 L318.80,115.86 L319.14,115.85 L319.48,115.83 L319.82,115.81 L320.16,115.80 L320.50,115.78 L320.83,115.76 L321.17,115.75 L321.51,115.74 L321.85,115.72 L322.19,115.71 L322.53,115.70 L322.87,115.68 L323.21,115.67 L323.55,115.66 L323.88,115.65 L324.22,115.64 L324.56,115.63 L324.90,115.62 L325.24,115.62 L325.58,115.61 L325.92,115.60 L326.26,115.59 L326.60,115.59 L326.93,115.58 L327.27,115.57 L327.61,115.57 L327.95,115.56 L328.29,115.56 L328.63,115.55 L328.97,115.55 L329.31,115.55 L329.65,115.54 L329.98,115.54 L330.32,115.53 L330.66,115.53 L331.00,115.53 L331.34,115.53 L331.68,115.52 L332.02,115.52 L332.36,115.52 L332.70,115.52 L333.03,115.52 L333.37,115.52 L333.71,115.51 L334.05,115.51 L334.39,115.51 L334.73,115.51 L335.07,115.51 L335.41,115.51 L335.74,115.51 L336.08,115.51 L336.42,115.51 L336.76,115.51 L337.10,115.50 L337.44,115.50 L337.78,115.50 L338.12,115.50 L338.46,115.50 L338.79,115.50 L339.13,115.50 L339.47,115.50" stroke="#1f1fd0" stroke-width="1.8"/>
</g>
<text transform="translate(187.70,252.60) scale(1.085,1)" text-anchor="middle" font-size="12.00" fill="#111" stroke="#111" stroke-width="0.22">distance (&#955;)</text>
<text transform="translate(8.1,114.9) rotate(-90) scale(1.065,1)" text-anchor="middle" font-size="10.6" fill="#111">normalized intensity</text>
<text transform="translate(45.60,29.60) scale(0.910,1)" text-anchor="start" font-size="28.00" fill="#111" stroke="#111" stroke-width="0.22">a</text>
<path d="M47,170.90 H72.8" stroke="#000" stroke-width="1.8"/>
<path d="M47,183.80 H72.8" stroke="#e3242b" stroke-width="1.8"/>
<path d="M47,197.10 H72.8" stroke="#1f1fd0" stroke-width="1.8"/>
<path d="M47,210.20 H72.8" stroke="#3a9a5c" stroke-width="1.8" stroke-dasharray="3.8,3.6"/>
<text transform="translate(77.60,175.20) scale(1.020,1)" text-anchor="start" font-size="10.40" fill="#111" stroke="#111" stroke-width="0.22">Gaussian</text>
<text transform="translate(77.60,188.10) scale(1.030,1)" text-anchor="start" font-size="10.40" fill="#111" stroke="#111" stroke-width="0.22">Doughnut</text>
<text transform="translate(77.60,200.30) scale(1.050,1)" text-anchor="start" font-size="10.40" fill="#111" stroke="#111" stroke-width="0.22">&#945; = 1</text>
<text transform="translate(77.60,210.90) scale(1.050,1)" text-anchor="start" font-size="10.40" fill="#111" stroke="#111" stroke-width="0.22">&#945;</text>
<text transform="translate(86.60,216.90) scale(0.890,1)" text-anchor="start" font-size="10.20" fill="#111" stroke="#111" stroke-width="0.22">IWS</text>
<text transform="translate(106.40,210.90) scale(1.010,1)" text-anchor="start" font-size="10.40" fill="#111" stroke="#111" stroke-width="0.22">matrix</text>
<rect x="611.2" y="7.00" width="69.8" height="70.00" fill="#000"/>
<rect x="611.2" y="80.80" width="69.8" height="69.00" fill="#000"/>
<rect x="611.2" y="152.60" width="69.8" height="69.30" fill="#000"/>
<circle cx="645.8" cy="42.0" r="14" fill="url(#gHalo)"/>
<ellipse cx="645.8" cy="42.0" rx="10.2" ry="9.7" fill="url(#gGauss)"/>
<circle cx="645.4" cy="115.0" r="28.5" fill="url(#gDough)"/>
<circle cx="646.1" cy="188.6" r="7.5" fill="url(#gIWS)"/>
<text transform="translate(616.20,21.00) scale(1.000,1)" text-anchor="start" font-size="12.00" fill="#f4f4f4" stroke="#f4f4f4" stroke-width="0.22">Gauss</text>
<text transform="translate(615.90,93.80) scale(0.990,1)" text-anchor="start" font-size="12.00" fill="#f4f4f4" stroke="#f4f4f4" stroke-width="0.22">Doughnut</text>
<text transform="translate(616.30,168.40) scale(1.000,1)" text-anchor="start" font-size="12.00" fill="#f4f4f4" stroke="#f4f4f4" stroke-width="0.22">IWS</text>
<path d="M378.50,152.50 H684.00" stroke="#666" stroke-width="1"/>
<path d="M377.90,4.00 H684.60 M684.00,4.00 V227.20" fill="none" stroke="#1c1c1c" stroke-width="1.15"/>
<path d="M378.50,4.00 V227.20 H684.00" fill="none" stroke="#1c1c1c" stroke-width="1.2" stroke-linejoin="miter" stroke-linecap="square"/>
<path d="M378.50,211.97 h4.6 M378.50,182.23 h4.6 M378.50,152.50 h4.6 M378.50,122.77 h4.6 M378.50,93.03 h4.6 M378.50,63.30 h4.6 M378.50,33.56 h4.6 M378.50,3.83 h4.6 M378.50,226.83 h2.4 M378.50,197.10 h2.4 M378.50,167.37 h2.4 M378.50,137.63 h2.4 M378.50,107.90 h2.4 M378.50,78.17 h2.4 M378.50,48.43 h2.4 M378.50,18.70 h2.4 M387.90,227.20 v-4.6 M435.70,227.20 v-4.6 M483.50,227.20 v-4.6 M531.30,227.20 v-4.6 M579.10,227.20 v-4.6 M626.90,227.20 v-4.6 M674.70,227.20 v-4.6 M411.80,227.20 v-2.4 M459.60,227.20 v-2.4 M507.40,227.20 v-2.4 M555.20,227.20 v-2.4 M603.00,227.20 v-2.4 M650.80,227.20 v-2.4" stroke="#1c1c1c" stroke-width="1.1" fill="none"/>
<text transform="translate(374.60,215.27) scale(1.100,1)" text-anchor="end" font-size="8.30" fill="#111" stroke="#111" stroke-width="0.06">-0,4</text>
<text transform="translate(374.60,185.53) scale(1.100,1)" text-anchor="end" font-size="8.30" fill="#111" stroke="#111" stroke-width="0.06">0,2</text>
<text transform="translate(374.60,155.80) scale(1.100,1)" text-anchor="end" font-size="8.30" fill="#111" stroke="#111" stroke-width="0.06">0,0</text>
<text transform="translate(374.60,126.07) scale(1.100,1)" text-anchor="end" font-size="8.30" fill="#111" stroke="#111" stroke-width="0.06">0,2</text>
<text transform="translate(374.60,96.33) scale(1.100,1)" text-anchor="end" font-size="8.30" fill="#111" stroke="#111" stroke-width="0.06">0,4</text>
<text transform="translate(374.60,66.60) scale(1.100,1)" text-anchor="end" font-size="8.30" fill="#111" stroke="#111" stroke-width="0.06">0,6</text>
<text transform="translate(374.60,36.86) scale(1.100,1)" text-anchor="end" font-size="8.30" fill="#111" stroke="#111" stroke-width="0.06">0,8</text>
<text transform="translate(374.60,7.13) scale(1.100,1)" text-anchor="end" font-size="8.30" fill="#111" stroke="#111" stroke-width="0.06">1,0</text>
<text transform="translate(387.90,239.10) scale(1.100,1)" text-anchor="middle" font-size="8.30" fill="#111" stroke="#111" stroke-width="0.06">-1,5</text>
<text transform="translate(435.70,239.10) scale(1.100,1)" text-anchor="middle" font-size="8.30" fill="#111" stroke="#111" stroke-width="0.06">-1,0</text>
<text transform="translate(483.50,239.10) scale(1.100,1)" text-anchor="middle" font-size="8.30" fill="#111" stroke="#111" stroke-width="0.06">-0,5</text>
<text transform="translate(531.30,239.10) scale(1.100,1)" text-anchor="middle" font-size="8.30" fill="#111" stroke="#111" stroke-width="0.06">0,0</text>
<text transform="translate(579.10,239.10) scale(1.100,1)" text-anchor="middle" font-size="8.30" fill="#111" stroke="#111" stroke-width="0.06">0,5</text>
<text transform="translate(626.90,239.10) scale(1.100,1)" text-anchor="middle" font-size="8.30" fill="#111" stroke="#111" stroke-width="0.06">1,0</text>
<text transform="translate(674.70,239.10) scale(1.100,1)" text-anchor="middle" font-size="8.30" fill="#111" stroke="#111" stroke-width="0.06">1,5</text>
<g fill="none" stroke-width="1.75" stroke-linejoin="round">
<path d="M378.82,151.75 L379.16,151.75 L379.50,151.75 L379.84,151.75 L380.17,151.75 L380.51,151.75 L380.85,151.75 L381.19,151.75 L381.53,151.75 L381.87,151.75 L382.21,151.75 L382.55,151.75 L382.89,151.75 L383.23,151.75 L383.57,151.75 L383.91,151.75 L384.25,151.75 L384.58,151.75 L384.92,151.74 L385.26,151.74 L385.60,151.74 L385.94,151.74 L386.28,151.74 L386.62,151.74 L386.96,151.74 L387.30,151.73 L387.64,151.73 L387.98,151.73 L388.32,151.73 L388.66,151.72 L388.99,151.72 L389.33,151.72 L389.67,151.71 L390.01,151.71 L390.35,151.71 L390.69,151.70 L391.03,151.70 L391.37,151.69 L391.71,151.69 L392.05,151.68 L392.39,151.68 L392.73,151.67 L393.07,151.66 L393.40,151.66 L393.74,151.65 L394.08,151.64 L394.42,151.64 L394.76,151.63 L395.10,151.62 L395.44,151.61 L395.78,151.60 L396.12,151.59 L396.46,151.58 L396.80,151.57 L397.14,151.56 L397.48,151.54 L397.81,151.53 L398.15,151.52 L398.49,151.51 L398.83,151.49 L399.17,151.48 L399.51,151.46 L399.85,151.45 L400.19,151.43 L400.53,151.42 L400.87,151.40 L401.21,151.39 L401.55,151.37 L401.89,151.35 L402.22,151.34 L402.56,151.32 L402.90,151.30 L403.24,151.28 L403.58,151.27 L403.92,151.25 L404.26,151.23 L404.60,151.21 L404.94,151.19 L405.28,151.18 L405.62,151.16 L405.96,151.14 L406.30,151.12 L406.63,151.10 L406.97,151.09 L407.31,151.07 L407.65,151.05 L407.99,151.04 L408.33,151.02 L408.67,151.01 L409.01,150.99 L409.35,150.98 L409.69,150.97 L410.03,150.95 L410.37,150.94 L410.71,150.93 L411.04,150.92 L411.38,150.91 L411.72,150.90 L412.06,150.89 L412.40,150.89 L412.74,150.88 L413.08,150.88 L413.42,150.87 L413.76,150.87 L414.10,150.87 L414.44,150.86 L414.78,150.86 L415.12,150.87 L415.45,150.87 L415.79,150.87 L416.13,150.87 L416.47,150.88 L416.81,150.88 L417.15,150.89 L417.49,150.90 L417.83,150.91 L418.17,150.92 L418.51,150.93 L418.85,150.94 L419.19,150.95 L419.53,150.96 L419.86,150.97 L420.20,150.99 L420.54,151.00 L420.88,151.02 L421.22,151.03 L421.56,151.05 L421.90,151.06 L422.24,151.08 L422.58,151.10 L422.92,151.12 L423.26,151.13 L423.60,151.15 L423.94,151.17 L424.27,151.19 L424.61,151.21 L424.95,151.22 L425.29,151.24 L425.63,151.26 L425.97,151.28 L426.31,151.30 L426.65,151.31 L426.99,151.33 L427.33,151.35 L427.67,151.36 L428.01,151.38 L428.34,151.40 L428.68,151.41 L429.02,151.43 L429.36,151.44 L429.70,151.46 L430.04,151.47 L430.38,151.49 L430.72,151.50 L431.06,151.52 L431.40,151.53 L431.74,151.54 L432.08,151.55 L432.42,151.56 L432.75,151.57 L433.09,151.59 L433.43,151.60 L433.77,151.61 L434.11,151.61 L434.45,151.62 L434.79,151.63 L435.13,151.64 L435.47,151.65 L435.81,151.66 L436.15,151.66 L436.49,151.67 L436.83,151.67 L437.16,151.68 L437.50,151.69 L437.84,151.69 L438.18,151.70 L438.52,151.70 L438.86,151.70 L439.20,151.71 L439.54,151.71 L439.88,151.72 L440.22,151.72 L440.56,151.72 L440.90,151.73 L441.24,151.73 L441.57,151.73 L441.91,151.73 L442.25,151.73 L442.59,151.74 L442.93,151.74 L443.27,151.74 L443.61,151.74 L443.95,151.74 L444.29,151.74 L444.63,151.75 L444.97,151.75 L445.31,151.75 L445.65,151.75 L445.98,151.75 L446.32,151.75 L446.66,151.75 L447.00,151.75 L447.34,151.75 L447.68,151.75 L448.02,151.75 L448.36,151.75 L448.70,151.75 L449.04,151.75 L449.38,151.75 L449.72,151.75 L450.06,151.75 L450.39,151.75 L450.73,151.76 L451.07,151.76 L451.41,151.76 L451.75,151.76 L452.09,151.76 L452.43,151.76 L452.77,151.76 L453.11,151.76 L453.45,151.76 L453.79,151.76 L454.13,151.76 L454.47,151.76 L454.80,151.76 L455.14,151.76 L455.48,151.76 L455.82,151.76 L456.16,151.76 L456.50,151.76 L456.84,151.76 L457.18,151.76 L457.52,151.76 L457.86,151.76 L458.20,151.76 L458.54,151.76 L458.88,151.76 L459.21,151.76 L459.55,151.76 L459.89,151.76 L460.23,151.76 L460.57,151.76 L460.91,151.76 L461.25,151.76 L461.59,151.76 L461.93,151.76 L462.27,151.76 L462.61,151.76 L462.95,151.76 L463.29,151.76 L463.62,151.76 L463.96,151.76 L464.30,151.76 L464.64,151.75 L464.98,151.75 L465.32,151.75 L465.66,151.75 L466.00,151.75 L466.34,151.75 L466.68,151.75 L467.02,151.75 L467.36,151.75 L467.70,151.75 L468.03,151.75 L468.37,151.75 L468.71,151.74 L469.05,151.74 L469.39,151.74 L469.73,151.74 L470.07,151.74 L470.41,151.73 L470.75,151.73 L471.09,151.72 L471.43,151.72 L471.77,151.72 L472.11,151.71 L472.44,151.70 L472.78,151.70 L473.12,151.69 L473.46,151.68 L473.80,151.67 L474.14,151.66 L474.48,151.64 L474.82,151.63 L475.16,151.61 L475.50,151.60 L475.84,151.58 L476.18,151.56 L476.52,151.53 L476.85,151.51 L477.19,151.48 L477.53,151.45 L477.87,151.41 L478.21,151.38 L478.55,151.33 L478.89,151.29 L479.23,151.24 L479.57,151.19 L479.91,151.13 L480.25,151.07 L480.59,151.00 L480.92,150.92 L481.26,150.84 L481.60,150.75 L481.94,150.66 L482.28,150.56 L482.62,150.45 L482.96,150.33 L483.30,150.20 L483.64,150.07 L483.98,149.92 L484.32,149.77 L484.66,149.60 L485.00,149.42 L485.33,149.23 L485.67,149.03 L486.01,148.82 L486.35,148.59 L486.69,148.34 L487.03,148.09 L487.37,147.81 L487.71,147.52 L488.05,147.22 L488.39,146.89 L488.73,146.55 L489.07,146.19 L489.41,145.81 L489.74,145.41 L490.08,144.99 L490.42,144.55 L490.76,144.09 L491.10,143.61 L491.44,143.10 L491.78,142.57 L492.12,142.02 L492.46,141.44 L492.80,140.84 L493.14,140.21 L493.48,139.56 L493.82,138.88 L494.15,138.18 L494.49,137.44 L494.83,136.68 L495.17,135.90 L495.51,135.08 L495.85,134.24 L496.19,133.37 L496.53,132.46 L496.87,131.54 L497.21,130.58 L497.55,129.59 L497.89,128.57 L498.23,127.53 L498.56,126.45 L498.90,125.35 L499.24,124.22 L499.58,123.06 L499.92,121.87 L500.26,120.65 L500.60,119.41 L500.94,118.13 L501.28,116.83 L501.62,115.51 L501.96,114.15 L502.30,112.77 L502.64,111.37 L502.97,109.94 L503.31,108.49 L503.65,107.01 L503.99,105.51 L504.33,103.99 L504.67,102.44 L505.01,100.88 L505.35,99.29 L505.69,97.69 L506.03,96.07 L506.37,94.43 L506.71,92.78 L507.05,91.11 L507.38,89.42 L507.72,87.72 L508.06,86.01 L508.40,84.29 L508.74,82.56 L509.08,80.83 L509.42,79.08 L509.76,77.33 L510.10,75.57 L510.44,73.80 L510.78,72.04 L511.12,70.27 L511.46,68.50 L511.79,66.74 L512.13,64.97 L512.47,63.21 L512.81,61.45 L513.15,59.70 L513.49,57.95 L513.83,56.22 L514.17,54.49 L514.51,52.77 L514.85,51.07 L515.19,49.38 L515.53,47.70 L515.87,46.03 L516.20,44.39 L516.54,42.76 L516.88,41.15 L517.22,39.56 L517.56,38.00 L517.90,36.45 L518.24,34.93 L518.58,33.43 L518.92,31.96 L519.26,30.51 L519.60,29.10 L519.94,27.71 L520.28,26.35 L520.61,25.02 L520.95,23.73 L521.29,22.46 L521.63,21.23 L521.97,20.03 L522.31,18.87 L522.65,17.75 L522.99,16.66 L523.33,15.61 L523.67,14.60 L524.01,13.62 L524.35,12.69 L524.69,11.79 L525.02,10.94 L525.36,10.13 L525.70,9.36 L526.04,8.63 L526.38,7.95 L526.72,7.31 L527.06,6.71 L527.40,6.16 L527.74,5.65 L528.08,5.19 L528.42,4.77 L528.76,4.40 L529.10,4.07 L529.43,3.79 L529.77,3.56 L530.11,3.37 L530.45,3.23 L530.79,3.14 L531.13,3.09 L531.47,3.09 L531.81,3.14 L532.15,3.23 L532.49,3.37 L532.83,3.56 L533.17,3.79 L533.50,4.07 L533.84,4.40 L534.18,4.77 L534.52,5.19 L534.86,5.65 L535.20,6.16 L535.54,6.71 L535.88,7.31 L536.22,7.95 L536.56,8.63 L536.90,9.36 L537.24,10.13 L537.58,10.94 L537.91,11.79 L538.25,12.69 L538.59,13.62 L538.93,14.60 L539.27,15.61 L539.61,16.66 L539.95,17.75 L540.29,18.87 L540.63,20.03 L540.97,21.23 L541.31,22.46 L541.65,23.73 L541.99,25.02 L542.32,26.35 L542.66,27.71 L543.00,29.10 L543.34,30.51 L543.68,31.96 L544.02,33.43 L544.36,34.93 L544.70,36.45 L545.04,38.00 L545.38,39.56 L545.72,41.15 L546.06,42.76 L546.40,44.39 L546.73,46.03 L547.07,47.70 L547.41,49.38 L547.75,51.07 L548.09,52.77 L548.43,54.49 L548.77,56.22 L549.11,57.95 L549.45,59.70 L549.79,61.45 L550.13,63.21 L550.47,64.97 L550.81,66.74 L551.14,68.50 L551.48,70.27 L551.82,72.04 L552.16,73.80 L552.50,75.57 L552.84,77.33 L553.18,79.08 L553.52,80.83 L553.86,82.56 L554.20,84.29 L554.54,86.01 L554.88,87.72 L555.22,89.42 L555.55,91.11 L555.89,92.78 L556.23,94.43 L556.57,96.07 L556.91,97.69 L557.25,99.29 L557.59,100.88 L557.93,102.44 L558.27,103.99 L558.61,105.51 L558.95,107.01 L559.29,108.49 L559.63,109.94 L559.96,111.37 L560.30,112.77 L560.64,114.15 L560.98,115.51 L561.32,116.83 L561.66,118.13 L562.00,119.41 L562.34,120.65 L562.68,121.87 L563.02,123.06 L563.36,124.22 L563.70,125.35 L564.04,126.45 L564.37,127.53 L564.71,128.57 L565.05,129.59 L565.39,130.58 L565.73,131.54 L566.07,132.46 L566.41,133.37 L566.75,134.24 L567.09,135.08 L567.43,135.90 L567.77,136.68 L568.11,137.44 L568.45,138.18 L568.78,138.88 L569.12,139.56 L569.46,140.21 L569.80,140.84 L570.14,141.44 L570.48,142.02 L570.82,142.57 L571.16,143.10 L571.50,143.61 L571.84,144.09 L572.18,144.55 L572.52,144.99 L572.86,145.41 L573.19,145.81 L573.53,146.19 L573.87,146.55 L574.21,146.89 L574.55,147.22 L574.89,147.52 L575.23,147.81 L575.57,148.09 L575.91,148.34 L576.25,148.59 L576.59,148.82 L576.93,149.03 L577.27,149.23 L577.60,149.42 L577.94,149.60 L578.28,149.77 L578.62,149.92 L578.96,150.07 L579.30,150.20 L579.64,150.33 L579.98,150.45 L580.32,150.56 L580.66,150.66 L581.00,150.75 L581.34,150.84 L581.68,150.92 L582.01,151.00 L582.35,151.07 L582.69,151.13 L583.03,151.19 L583.37,151.24 L583.71,151.29 L584.05,151.33 L584.39,151.38 L584.73,151.41 L585.07,151.45 L585.41,151.48 L585.75,151.51 L586.08,151.53 L586.42,151.56 L586.76,151.58 L587.10,151.60 L587.44,151.61 L587.78,151.63 L588.12,151.64 L588.46,151.66 L588.80,151.67 L589.14,151.68 L589.48,151.69 L589.82,151.70 L590.16,151.70 L590.49,151.71 L590.83,151.72 L591.17,151.72 L591.51,151.72 L591.85,151.73 L592.19,151.73 L592.53,151.74 L592.87,151.74 L593.21,151.74 L593.55,151.74 L593.89,151.74 L594.23,151.75 L594.57,151.75 L594.90,151.75 L595.24,151.75 L595.58,151.75 L595.92,151.75 L596.26,151.75 L596.60,151.75 L596.94,151.75 L597.28,151.75 L597.62,151.75 L597.96,151.75 L598.30,151.76 L598.64,151.76 L598.98,151.76 L599.31,151.76 L599.65,151.76 L599.99,151.76 L600.33,151.76 L600.67,151.76 L601.01,151.76 L601.35,151.76 L601.69,151.76 L602.03,151.76 L602.37,151.76 L602.71,151.76 L603.05,151.76 L603.39,151.76 L603.72,151.76 L604.06,151.76 L604.40,151.76 L604.74,151.76 L605.08,151.76 L605.42,151.76 L605.76,151.76 L606.10,151.76 L606.44,151.76 L606.78,151.76 L607.12,151.76 L607.46,151.76 L607.80,151.76 L608.13,151.76 L608.47,151.76 L608.81,151.76 L609.15,151.76 L609.49,151.76 L609.83,151.76 L610.17,151.76 L610.51,151.76 L610.85,151.76 L611.19,151.76 L611.53,151.76 L611.87,151.76 L612.21,151.75 L612.54,151.75 L612.88,151.75 L613.22,151.75 L613.56,151.75 L613.90,151.75 L614.24,151.75 L614.58,151.75 L614.92,151.75 L615.26,151.75 L615.60,151.75 L615.94,151.75 L616.28,151.75 L616.62,151.75 L616.95,151.75 L617.29,151.75 L617.63,151.75 L617.97,151.75 L618.31,151.74 L618.65,151.74 L618.99,151.74 L619.33,151.74 L619.67,151.74 L620.01,151.74 L620.35,151.73 L620.69,151.73 L621.03,151.73 L621.36,151.73 L621.70,151.73 L622.04,151.72 L622.38,151.72 L622.72,151.72 L623.06,151.71 L623.40,151.71 L623.74,151.70 L624.08,151.70 L624.42,151.70 L624.76,151.69 L625.10,151.69 L625.44,151.68 L625.77,151.67 L626.11,151.67 L626.45,151.66 L626.79,151.66 L627.13,151.65 L627.47,151.64 L627.81,151.63 L628.15,151.62 L628.49,151.61 L628.83,151.61 L629.17,151.60 L629.51,151.59 L629.85,151.57 L630.18,151.56 L630.52,151.55 L630.86,151.54 L631.20,151.53 L631.54,151.52 L631.88,151.50 L632.22,151.49 L632.56,151.47 L632.90,151.46 L633.24,151.44 L633.58,151.43 L633.92,151.41 L634.26,151.40 L634.59,151.38 L634.93,151.36 L635.27,151.35 L635.61,151.33 L635.95,151.31 L636.29,151.30 L636.63,151.28 L636.97,151.26 L637.31,151.24 L637.65,151.22 L637.99,151.21 L638.33,151.19 L638.66,151.17 L639.00,151.15 L639.34,151.13 L639.68,151.12 L640.02,151.10 L640.36,151.08 L640.70,151.06 L641.04,151.05 L641.38,151.03 L641.72,151.02 L642.06,151.00 L642.40,150.99 L642.74,150.97 L643.07,150.96 L643.41,150.95 L643.75,150.94 L644.09,150.93 L644.43,150.92 L644.77,150.91 L645.11,150.90 L645.45,150.89 L645.79,150.88 L646.13,150.88 L646.47,150.87 L646.81,150.87 L647.15,150.87 L647.48,150.87 L647.82,150.86 L648.16,150.86 L648.50,150.87 L648.84,150.87 L649.18,150.87 L649.52,150.88 L649.86,150.88 L650.20,150.89 L650.54,150.89 L650.88,150.90 L651.22,150.91 L651.56,150.92 L651.89,150.93 L652.23,150.94 L652.57,150.95 L652.91,150.97 L653.25,150.98 L653.59,150.99 L653.93,151.01 L654.27,151.02 L654.61,151.04 L654.95,151.05 L655.29,151.07 L655.63,151.09 L655.97,151.10 L656.30,151.12 L656.64,151.14 L656.98,151.16 L657.32,151.18 L657.66,151.19 L658.00,151.21 L658.34,151.23 L658.68,151.25 L659.02,151.27 L659.36,151.28 L659.70,151.30 L660.04,151.32 L660.38,151.34 L660.71,151.35 L661.05,151.37 L661.39,151.39 L661.73,151.40 L662.07,151.42 L662.41,151.43 L662.75,151.45 L663.09,151.46 L663.43,151.48 L663.77,151.49 L664.11,151.51 L664.45,151.52 L664.79,151.53 L665.12,151.54 L665.46,151.56 L665.80,151.57 L666.14,151.58 L666.48,151.59 L666.82,151.60 L667.16,151.61 L667.50,151.62 L667.84,151.63 L668.18,151.64 L668.52,151.64 L668.86,151.65 L669.20,151.66 L669.53,151.66 L669.87,151.67 L670.21,151.68 L670.55,151.68 L670.89,151.69 L671.23,151.69 L671.57,151.70 L671.91,151.70 L672.25,151.71 L672.59,151.71 L672.93,151.71 L673.27,151.72 L673.61,151.72 L673.94,151.72 L674.28,151.73 L674.62,151.73 L674.96,151.73 L675.30,151.73 L675.64,151.74 L675.98,151.74 L676.32,151.74 L676.66,151.74 L677.00,151.74 L677.34,151.74 L677.68,151.74 L678.02,151.75 L678.35,151.75 L678.69,151.75 L679.03,151.75 L679.37,151.75 L679.71,151.75 L680.05,151.75 L680.39,151.75 L680.73,151.75 L681.07,151.75 L681.41,151.75 L681.75,151.75 L682.09,151.75 L682.43,151.75 L682.76,151.75 L683.10,151.75 L683.44,151.75 L683.78,151.75" stroke="#000"/>
<path d="M378.82,151.75 L379.16,151.75 L379.50,151.75 L379.84,151.75 L380.17,151.75 L380.51,151.75 L380.85,151.75 L381.19,151.75 L381.53,151.75 L381.87,151.74 L382.21,151.74 L382.55,151.74 L382.89,151.74 L383.23,151.74 L383.57,151.74 L383.91,151.73 L384.25,151.73 L384.58,151.73 L384.92,151.72 L385.26,151.72 L385.60,151.72 L385.94,151.71 L386.28,151.71 L386.62,151.70 L386.96,151.70 L387.30,151.69 L387.64,151.69 L387.98,151.68 L388.32,151.68 L388.66,151.67 L388.99,151.66 L389.33,151.65 L389.67,151.64 L390.01,151.63 L390.35,151.62 L390.69,151.61 L391.03,151.60 L391.37,151.59 L391.71,151.57 L392.05,151.56 L392.39,151.54 L392.73,151.53 L393.07,151.51 L393.40,151.49 L393.74,151.47 L394.08,151.45 L394.42,151.43 L394.76,151.41 L395.10,151.39 L395.44,151.36 L395.78,151.34 L396.12,151.31 L396.46,151.28 L396.80,151.25 L397.14,151.22 L397.48,151.19 L397.81,151.16 L398.15,151.13 L398.49,151.09 L398.83,151.05 L399.17,151.02 L399.51,150.98 L399.85,150.94 L400.19,150.90 L400.53,150.86 L400.87,150.81 L401.21,150.77 L401.55,150.73 L401.89,150.68 L402.22,150.64 L402.56,150.59 L402.90,150.54 L403.24,150.50 L403.58,150.45 L403.92,150.40 L404.26,150.35 L404.60,150.30 L404.94,150.26 L405.28,150.21 L405.62,150.16 L405.96,150.11 L406.30,150.07 L406.63,150.02 L406.97,149.97 L407.31,149.93 L407.65,149.88 L407.99,149.84 L408.33,149.80 L408.67,149.76 L409.01,149.72 L409.35,149.68 L409.69,149.65 L410.03,149.61 L410.37,149.58 L410.71,149.55 L411.04,149.53 L411.38,149.50 L411.72,149.48 L412.06,149.46 L412.40,149.44 L412.74,149.42 L413.08,149.41 L413.42,149.40 L413.76,149.39 L414.10,149.38 L414.44,149.38 L414.78,149.38 L415.12,149.38 L415.45,149.39 L415.79,149.39 L416.13,149.40 L416.47,149.42 L416.81,149.43 L417.15,149.45 L417.49,149.47 L417.83,149.49 L418.17,149.52 L418.51,149.54 L418.85,149.57 L419.19,149.60 L419.53,149.64 L419.86,149.67 L420.20,149.71 L420.54,149.75 L420.88,149.79 L421.22,149.83 L421.56,149.87 L421.90,149.91 L422.24,149.96 L422.58,150.00 L422.92,150.05 L423.26,150.09 L423.60,150.14 L423.94,150.19 L424.27,150.24 L424.61,150.29 L424.95,150.33 L425.29,150.38 L425.63,150.43 L425.97,150.48 L426.31,150.53 L426.65,150.57 L426.99,150.62 L427.33,150.67 L427.67,150.71 L428.01,150.76 L428.34,150.80 L428.68,150.84 L429.02,150.88 L429.36,150.92 L429.70,150.96 L430.04,151.00 L430.38,151.04 L430.72,151.08 L431.06,151.11 L431.40,151.15 L431.74,151.18 L432.08,151.21 L432.42,151.24 L432.75,151.27 L433.09,151.30 L433.43,151.33 L433.77,151.35 L434.11,151.38 L434.45,151.40 L434.79,151.42 L435.13,151.45 L435.47,151.47 L435.81,151.49 L436.15,151.50 L436.49,151.52 L436.83,151.54 L437.16,151.55 L437.50,151.57 L437.84,151.58 L438.18,151.59 L438.52,151.61 L438.86,151.62 L439.20,151.63 L439.54,151.64 L439.88,151.65 L440.22,151.66 L440.56,151.67 L440.90,151.67 L441.24,151.68 L441.57,151.69 L441.91,151.69 L442.25,151.70 L442.59,151.70 L442.93,151.71 L443.27,151.71 L443.61,151.72 L443.95,151.72 L444.29,151.72 L444.63,151.73 L444.97,151.73 L445.31,151.73 L445.65,151.73 L445.98,151.74 L446.32,151.74 L446.66,151.74 L447.00,151.74 L447.34,151.74 L447.68,151.74 L448.02,151.74 L448.36,151.74 L448.70,151.74 L449.04,151.74 L449.38,151.74 L449.72,151.74 L450.06,151.74 L450.39,151.74 L450.73,151.74 L451.07,151.74 L451.41,151.74 L451.75,151.73 L452.09,151.73 L452.43,151.73 L452.77,151.72 L453.11,151.72 L453.45,151.71 L453.79,151.70 L454.13,151.69 L454.47,151.68 L454.80,151.67 L455.14,151.66 L455.48,151.64 L455.82,151.62 L456.16,151.60 L456.50,151.58 L456.84,151.55 L457.18,151.52 L457.52,151.49 L457.86,151.45 L458.20,151.41 L458.54,151.36 L458.88,151.31 L459.21,151.25 L459.55,151.19 L459.89,151.12 L460.23,151.04 L460.57,150.95 L460.91,150.85 L461.25,150.75 L461.59,150.63 L461.93,150.50 L462.27,150.36 L462.61,150.21 L462.95,150.04 L463.29,149.86 L463.62,149.66 L463.96,149.45 L464.30,149.21 L464.64,148.96 L464.98,148.69 L465.32,148.40 L465.66,148.08 L466.00,147.75 L466.34,147.38 L466.68,147.00 L467.02,146.58 L467.36,146.14 L467.70,145.67 L468.03,145.17 L468.37,144.64 L468.71,144.08 L469.05,143.48 L469.39,142.85 L469.73,142.18 L470.07,141.48 L470.41,140.74 L470.75,139.96 L471.09,139.14 L471.43,138.29 L471.77,137.39 L472.11,136.45 L472.44,135.47 L472.78,134.45 L473.12,133.38 L473.46,132.27 L473.80,131.12 L474.14,129.93 L474.48,128.69 L474.82,127.40 L475.16,126.08 L475.50,124.71 L475.84,123.29 L476.18,121.84 L476.52,120.34 L476.85,118.80 L477.19,117.21 L477.53,115.59 L477.87,113.93 L478.21,112.22 L478.55,110.48 L478.89,108.70 L479.23,106.89 L479.57,105.04 L479.91,103.16 L480.25,101.25 L480.59,99.30 L480.92,97.33 L481.26,95.33 L481.60,93.31 L481.94,91.26 L482.28,89.19 L482.62,87.10 L482.96,84.99 L483.30,82.87 L483.64,80.73 L483.98,78.58 L484.32,76.42 L484.66,74.25 L485.00,72.08 L485.33,69.91 L485.67,67.74 L486.01,65.56 L486.35,63.39 L486.69,61.23 L487.03,59.08 L487.37,56.94 L487.71,54.81 L488.05,52.69 L488.39,50.60 L488.73,48.52 L489.07,46.47 L489.41,44.44 L489.74,42.43 L490.08,40.46 L490.42,38.52 L490.76,36.61 L491.10,34.74 L491.44,32.90 L491.78,31.10 L492.12,29.35 L492.46,27.63 L492.80,25.97 L493.14,24.35 L493.48,22.77 L493.82,21.25 L494.15,19.78 L494.49,18.37 L494.83,17.01 L495.17,15.70 L495.51,14.45 L495.85,13.27 L496.19,12.14 L496.53,11.07 L496.87,10.07 L497.21,9.13 L497.55,8.26 L497.89,7.45 L498.23,6.71 L498.56,6.03 L498.90,5.43 L499.24,4.89 L499.58,4.42 L499.92,4.02 L500.26,3.69 L500.60,3.44 L500.94,3.25 L501.28,3.13 L501.62,3.09 L501.96,3.12 L502.30,3.22 L502.64,3.41 L502.97,3.68 L503.31,4.02 L503.65,4.45 L503.99,4.96 L504.33,5.55 L504.67,6.23 L505.01,6.98 L505.35,7.82 L505.69,8.74 L506.03,9.74 L506.37,10.82 L506.71,11.98 L507.05,13.22 L507.38,14.54 L507.72,15.93 L508.06,17.41 L508.40,18.95 L508.74,20.58 L509.08,22.27 L509.42,24.04 L509.76,25.87 L510.10,27.78 L510.44,29.75 L510.78,31.78 L511.12,33.88 L511.46,36.03 L511.79,38.24 L512.13,40.50 L512.47,42.82 L512.81,45.19 L513.15,47.60 L513.49,50.05 L513.83,52.55 L514.17,55.08 L514.51,57.64 L514.85,60.24 L515.19,62.87 L515.53,65.51 L515.87,68.18 L516.20,70.87 L516.54,73.56 L516.88,76.27 L517.22,78.99 L517.56,81.70 L517.90,84.42 L518.24,87.13 L518.58,89.83 L518.92,92.51 L519.26,95.18 L519.60,97.83 L519.94,100.46 L520.28,103.06 L520.61,105.62 L520.95,108.15 L521.29,110.64 L521.63,113.09 L521.97,115.49 L522.31,117.84 L522.65,120.14 L522.99,122.38 L523.33,124.56 L523.67,126.67 L524.01,128.72 L524.35,130.70 L524.69,132.60 L525.02,134.43 L525.36,136.18 L525.70,137.85 L526.04,139.43 L526.38,140.93 L526.72,142.33 L527.06,143.65 L527.40,144.87 L527.74,146.00 L528.08,147.03 L528.42,147.97 L528.76,148.80 L529.10,149.53 L529.43,150.16 L529.77,150.69 L530.11,151.11 L530.45,151.43 L530.79,151.64 L531.13,151.74 L531.47,151.74 L531.81,151.64 L532.15,151.43 L532.49,151.11 L532.83,150.69 L533.17,150.16 L533.50,149.53 L533.84,148.80 L534.18,147.97 L534.52,147.03 L534.86,146.00 L535.20,144.87 L535.54,143.65 L535.88,142.33 L536.22,140.93 L536.56,139.43 L536.90,137.85 L537.24,136.18 L537.58,134.43 L537.91,132.60 L538.25,130.70 L538.59,128.72 L538.93,126.67 L539.27,124.56 L539.61,122.38 L539.95,120.14 L540.29,117.84 L540.63,115.49 L540.97,113.09 L541.31,110.64 L541.65,108.15 L541.99,105.62 L542.32,103.06 L542.66,100.46 L543.00,97.83 L543.34,95.18 L543.68,92.51 L544.02,89.83 L544.36,87.13 L544.70,84.42 L545.04,81.70 L545.38,78.99 L545.72,76.27 L546.06,73.56 L546.40,70.87 L546.73,68.18 L547.07,65.51 L547.41,62.87 L547.75,60.24 L548.09,57.64 L548.43,55.08 L548.77,52.55 L549.11,50.05 L549.45,47.60 L549.79,45.19 L550.13,42.82 L550.47,40.50 L550.81,38.24 L551.14,36.03 L551.48,33.88 L551.82,31.78 L552.16,29.75 L552.50,27.78 L552.84,25.87 L553.18,24.04 L553.52,22.27 L553.86,20.58 L554.20,18.95 L554.54,17.41 L554.88,15.93 L555.22,14.54 L555.55,13.22 L555.89,11.98 L556.23,10.82 L556.57,9.74 L556.91,8.74 L557.25,7.82 L557.59,6.98 L557.93,6.23 L558.27,5.55 L558.61,4.96 L558.95,4.45 L559.29,4.02 L559.63,3.68 L559.96,3.41 L560.30,3.22 L560.64,3.12 L560.98,3.09 L561.32,3.13 L561.66,3.25 L562.00,3.44 L562.34,3.69 L562.68,4.02 L563.02,4.42 L563.36,4.89 L563.70,5.43 L564.04,6.03 L564.37,6.71 L564.71,7.45 L565.05,8.26 L565.39,9.13 L565.73,10.07 L566.07,11.07 L566.41,12.14 L566.75,13.27 L567.09,14.45 L567.43,15.70 L567.77,17.01 L568.11,18.37 L568.45,19.78 L568.78,21.25 L569.12,22.77 L569.46,24.35 L569.80,25.97 L570.14,27.63 L570.48,29.35 L570.82,31.10 L571.16,32.90 L571.50,34.74 L571.84,36.61 L572.18,38.52 L572.52,40.46 L572.86,42.43 L573.19,44.44 L573.53,46.47 L573.87,48.52 L574.21,50.60 L574.55,52.69 L574.89,54.81 L575.23,56.94 L575.57,59.08 L575.91,61.23 L576.25,63.39 L576.59,65.56 L576.93,67.74 L577.27,69.91 L577.60,72.08 L577.94,74.25 L578.28,76.42 L578.62,78.58 L578.96,80.73 L579.30,82.87 L579.64,84.99 L579.98,87.10 L580.32,89.19 L580.66,91.26 L581.00,93.31 L581.34,95.33 L581.68,97.33 L582.01,99.30 L582.35,101.25 L582.69,103.16 L583.03,105.04 L583.37,106.89 L583.71,108.70 L584.05,110.48 L584.39,112.22 L584.73,113.93 L585.07,115.59 L585.41,117.21 L585.75,118.80 L586.08,120.34 L586.42,121.84 L586.76,123.29 L587.10,124.71 L587.44,126.08 L587.78,127.40 L588.12,128.69 L588.46,129.93 L588.80,131.12 L589.14,132.27 L589.48,133.38 L589.82,134.45 L590.16,135.47 L590.49,136.45 L590.83,137.39 L591.17,138.29 L591.51,139.14 L591.85,139.96 L592.19,140.74 L592.53,141.48 L592.87,142.18 L593.21,142.85 L593.55,143.48 L593.89,144.08 L594.23,144.64 L594.57,145.17 L594.90,145.67 L595.24,146.14 L595.58,146.58 L595.92,147.00 L596.26,147.38 L596.60,147.75 L596.94,148.08 L597.28,148.40 L597.62,148.69 L597.96,148.96 L598.30,149.21 L598.64,149.45 L598.98,149.66 L599.31,149.86 L599.65,150.04 L599.99,150.21 L600.33,150.36 L600.67,150.50 L601.01,150.63 L601.35,150.75 L601.69,150.85 L602.03,150.95 L602.37,151.04 L602.71,151.12 L603.05,151.19 L603.39,151.25 L603.72,151.31 L604.06,151.36 L604.40,151.41 L604.74,151.45 L605.08,151.49 L605.42,151.52 L605.76,151.55 L606.10,151.58 L606.44,151.60 L606.78,151.62 L607.12,151.64 L607.46,151.66 L607.80,151.67 L608.13,151.68 L608.47,151.69 L608.81,151.70 L609.15,151.71 L609.49,151.72 L609.83,151.72 L610.17,151.73 L610.51,151.73 L610.85,151.73 L611.19,151.74 L611.53,151.74 L611.87,151.74 L612.21,151.74 L612.54,151.74 L612.88,151.74 L613.22,151.74 L613.56,151.74 L613.90,151.74 L614.24,151.74 L614.58,151.74 L614.92,151.74 L615.26,151.74 L615.60,151.74 L615.94,151.74 L616.28,151.74 L616.62,151.74 L616.95,151.73 L617.29,151.73 L617.63,151.73 L617.97,151.73 L618.31,151.72 L618.65,151.72 L618.99,151.72 L619.33,151.71 L619.67,151.71 L620.01,151.70 L620.35,151.70 L620.69,151.69 L621.03,151.69 L621.36,151.68 L621.70,151.67 L622.04,151.67 L622.38,151.66 L622.72,151.65 L623.06,151.64 L623.40,151.63 L623.74,151.62 L624.08,151.61 L624.42,151.59 L624.76,151.58 L625.10,151.57 L625.44,151.55 L625.77,151.54 L626.11,151.52 L626.45,151.50 L626.79,151.49 L627.13,151.47 L627.47,151.45 L627.81,151.42 L628.15,151.40 L628.49,151.38 L628.83,151.35 L629.17,151.33 L629.51,151.30 L629.85,151.27 L630.18,151.24 L630.52,151.21 L630.86,151.18 L631.20,151.15 L631.54,151.11 L631.88,151.08 L632.22,151.04 L632.56,151.00 L632.90,150.96 L633.24,150.92 L633.58,150.88 L633.92,150.84 L634.26,150.80 L634.59,150.76 L634.93,150.71 L635.27,150.67 L635.61,150.62 L635.95,150.57 L636.29,150.53 L636.63,150.48 L636.97,150.43 L637.31,150.38 L637.65,150.33 L637.99,150.29 L638.33,150.24 L638.66,150.19 L639.00,150.14 L639.34,150.09 L639.68,150.05 L640.02,150.00 L640.36,149.96 L640.70,149.91 L641.04,149.87 L641.38,149.83 L641.72,149.79 L642.06,149.75 L642.40,149.71 L642.74,149.67 L643.07,149.64 L643.41,149.60 L643.75,149.57 L644.09,149.54 L644.43,149.52 L644.77,149.49 L645.11,149.47 L645.45,149.45 L645.79,149.43 L646.13,149.42 L646.47,149.40 L646.81,149.39 L647.15,149.39 L647.48,149.38 L647.82,149.38 L648.16,149.38 L648.50,149.38 L648.84,149.39 L649.18,149.40 L649.52,149.41 L649.86,149.42 L650.20,149.44 L650.54,149.46 L650.88,149.48 L651.22,149.50 L651.56,149.53 L651.89,149.55 L652.23,149.58 L652.57,149.61 L652.91,149.65 L653.25,149.68 L653.59,149.72 L653.93,149.76 L654.27,149.80 L654.61,149.84 L654.95,149.88 L655.29,149.93 L655.63,149.97 L655.97,150.02 L656.30,150.07 L656.64,150.11 L656.98,150.16 L657.32,150.21 L657.66,150.26 L658.00,150.30 L658.34,150.35 L658.68,150.40 L659.02,150.45 L659.36,150.50 L659.70,150.54 L660.04,150.59 L660.38,150.64 L660.71,150.68 L661.05,150.73 L661.39,150.77 L661.73,150.81 L662.07,150.86 L662.41,150.90 L662.75,150.94 L663.09,150.98 L663.43,151.02 L663.77,151.05 L664.11,151.09 L664.45,151.13 L664.79,151.16 L665.12,151.19 L665.46,151.22 L665.80,151.25 L666.14,151.28 L666.48,151.31 L666.82,151.34 L667.16,151.36 L667.50,151.39 L667.84,151.41 L668.18,151.43 L668.52,151.45 L668.86,151.47 L669.20,151.49 L669.53,151.51 L669.87,151.53 L670.21,151.54 L670.55,151.56 L670.89,151.57 L671.23,151.59 L671.57,151.60 L671.91,151.61 L672.25,151.62 L672.59,151.63 L672.93,151.64 L673.27,151.65 L673.61,151.66 L673.94,151.67 L674.28,151.68 L674.62,151.68 L674.96,151.69 L675.30,151.69 L675.64,151.70 L675.98,151.70 L676.32,151.71 L676.66,151.71 L677.00,151.72 L677.34,151.72 L677.68,151.72 L678.02,151.73 L678.35,151.73 L678.69,151.73 L679.03,151.74 L679.37,151.74 L679.71,151.74 L680.05,151.74 L680.39,151.74 L680.73,151.74 L681.07,151.75 L681.41,151.75 L681.75,151.75 L682.09,151.75 L682.43,151.75 L682.76,151.75 L683.10,151.75 L683.44,151.75 L683.78,151.75" stroke="#e3242b"/>
<path d="M378.82,152.50 L379.16,152.50 L379.50,152.50 L379.84,152.50 L380.17,152.50 L380.51,152.50 L380.85,152.50 L381.19,152.50 L381.53,152.50 L381.87,152.50 L382.21,152.50 L382.55,152.50 L382.89,152.50 L383.23,152.50 L383.57,152.50 L383.91,152.51 L384.25,152.51 L384.58,152.51 L384.92,152.51 L385.26,152.51 L385.60,152.51 L385.94,152.51 L386.28,152.51 L386.62,152.51 L386.96,152.51 L387.30,152.51 L387.64,152.52 L387.98,152.52 L388.32,152.52 L388.66,152.52 L388.99,152.52 L389.33,152.52 L389.67,152.53 L390.01,152.53 L390.35,152.53 L390.69,152.53 L391.03,152.54 L391.37,152.54 L391.71,152.54 L392.05,152.54 L392.39,152.55 L392.73,152.55 L393.07,152.56 L393.40,152.56 L393.74,152.56 L394.08,152.57 L394.42,152.57 L394.76,152.58 L395.10,152.58 L395.44,152.59 L395.78,152.59 L396.12,152.60 L396.46,152.61 L396.80,152.61 L397.14,152.62 L397.48,152.63 L397.81,152.63 L398.15,152.64 L398.49,152.65 L398.83,152.66 L399.17,152.67 L399.51,152.68 L399.85,152.68 L400.19,152.69 L400.53,152.70 L400.87,152.71 L401.21,152.72 L401.55,152.73 L401.89,152.74 L402.22,152.75 L402.56,152.76 L402.90,152.77 L403.24,152.78 L403.58,152.79 L403.92,152.81 L404.26,152.82 L404.60,152.83 L404.94,152.84 L405.28,152.85 L405.62,152.86 L405.96,152.87 L406.30,152.88 L406.63,152.89 L406.97,152.90 L407.31,152.91 L407.65,152.92 L407.99,152.93 L408.33,152.94 L408.67,152.95 L409.01,152.96 L409.35,152.97 L409.69,152.97 L410.03,152.98 L410.37,152.99 L410.71,153.00 L411.04,153.00 L411.38,153.01 L411.72,153.01 L412.06,153.02 L412.40,153.02 L412.74,153.03 L413.08,153.03 L413.42,153.03 L413.76,153.03 L414.10,153.03 L414.44,153.04 L414.78,153.04 L415.12,153.03 L415.45,153.03 L415.79,153.03 L416.13,153.03 L416.47,153.03 L416.81,153.02 L417.15,153.02 L417.49,153.01 L417.83,153.01 L418.17,153.00 L418.51,153.00 L418.85,152.99 L419.19,152.98 L419.53,152.98 L419.86,152.97 L420.20,152.96 L420.54,152.95 L420.88,152.94 L421.22,152.93 L421.56,152.92 L421.90,152.92 L422.24,152.91 L422.58,152.89 L422.92,152.88 L423.26,152.87 L423.60,152.86 L423.94,152.85 L424.27,152.84 L424.61,152.83 L424.95,152.82 L425.29,152.81 L425.63,152.80 L425.97,152.79 L426.31,152.78 L426.65,152.77 L426.99,152.76 L427.33,152.75 L427.67,152.74 L428.01,152.73 L428.34,152.72 L428.68,152.71 L429.02,152.70 L429.36,152.69 L429.70,152.68 L430.04,152.67 L430.38,152.66 L430.72,152.65 L431.06,152.64 L431.40,152.64 L431.74,152.63 L432.08,152.62 L432.42,152.62 L432.75,152.61 L433.09,152.60 L433.43,152.60 L433.77,152.59 L434.11,152.59 L434.45,152.58 L434.79,152.57 L435.13,152.57 L435.47,152.57 L435.81,152.56 L436.15,152.56 L436.49,152.55 L436.83,152.55 L437.16,152.55 L437.50,152.54 L437.84,152.54 L438.18,152.54 L438.52,152.53 L438.86,152.53 L439.20,152.53 L439.54,152.53 L439.88,152.52 L440.22,152.52 L440.56,152.52 L440.90,152.52 L441.24,152.52 L441.57,152.52 L441.91,152.51 L442.25,152.51 L442.59,152.51 L442.93,152.51 L443.27,152.51 L443.61,152.51 L443.95,152.51 L444.29,152.51 L444.63,152.51 L444.97,152.51 L445.31,152.51 L445.65,152.51 L445.98,152.50 L446.32,152.50 L446.66,152.50 L447.00,152.50 L447.34,152.50 L447.68,152.50 L448.02,152.50 L448.36,152.50 L448.70,152.50 L449.04,152.50 L449.38,152.50 L449.72,152.51 L450.06,152.51 L450.39,152.51 L450.73,152.51 L451.07,152.51 L451.41,152.51 L451.75,152.51 L452.09,152.52 L452.43,152.52 L452.77,152.52 L453.11,152.52 L453.45,152.53 L453.79,152.53 L454.13,152.54 L454.47,152.54 L454.80,152.55 L455.14,152.56 L455.48,152.57 L455.82,152.58 L456.16,152.59 L456.50,152.61 L456.84,152.62 L457.18,152.64 L457.52,152.66 L457.86,152.68 L458.20,152.71 L458.54,152.74 L458.88,152.77 L459.21,152.80 L459.55,152.84 L459.89,152.88 L460.23,152.93 L460.57,152.98 L460.91,153.04 L461.25,153.11 L461.59,153.18 L461.93,153.25 L462.27,153.34 L462.61,153.43 L462.95,153.53 L463.29,153.64 L463.62,153.76 L463.96,153.89 L464.30,154.02 L464.64,154.18 L464.98,154.34 L465.32,154.51 L465.66,154.70 L466.00,154.90 L466.34,155.12 L466.68,155.35 L467.02,155.60 L467.36,155.86 L467.70,156.14 L468.03,156.44 L468.37,156.76 L468.71,157.10 L469.05,157.45 L469.39,157.83 L469.73,158.23 L470.07,158.65 L470.41,159.09 L470.75,159.55 L471.09,160.04 L471.43,160.55 L471.77,161.08 L472.11,161.64 L472.44,162.22 L472.78,162.83 L473.12,163.46 L473.46,164.11 L473.80,164.79 L474.14,165.50 L474.48,166.23 L474.82,166.99 L475.16,167.77 L475.50,168.57 L475.84,169.40 L476.18,170.25 L476.52,171.13 L476.85,172.03 L477.19,172.95 L477.53,173.89 L477.87,174.85 L478.21,175.84 L478.55,176.84 L478.89,177.86 L479.23,178.90 L479.57,179.96 L479.91,181.03 L480.25,182.11 L480.59,183.21 L480.92,184.32 L481.26,185.44 L481.60,186.57 L481.94,187.70 L482.28,188.84 L482.62,189.99 L482.96,191.13 L483.30,192.28 L483.64,193.43 L483.98,194.57 L484.32,195.71 L484.66,196.85 L485.00,197.97 L485.33,199.08 L485.67,200.19 L486.01,201.28 L486.35,202.35 L486.69,203.40 L487.03,204.44 L487.37,205.45 L487.71,206.44 L488.05,207.40 L488.39,208.33 L488.73,209.24 L489.07,210.11 L489.41,210.95 L489.74,211.75 L490.08,212.52 L490.42,213.24 L490.76,213.92 L491.10,214.57 L491.44,215.16 L491.78,215.71 L492.12,216.21 L492.46,216.66 L492.80,217.06 L493.14,217.40 L493.48,217.69 L493.82,217.93 L494.15,218.10 L494.49,218.22 L494.83,218.28 L495.17,218.27 L495.51,218.21 L495.85,218.07 L496.19,217.88 L496.53,217.62 L496.87,217.29 L497.21,216.89 L497.55,216.43 L497.89,215.90 L498.23,215.30 L498.56,214.63 L498.90,213.89 L499.24,213.08 L499.58,212.20 L499.92,211.25 L500.26,210.23 L500.60,209.14 L500.94,207.98 L501.28,206.75 L501.62,205.45 L501.96,204.08 L502.30,202.64 L502.64,201.12 L502.97,199.53 L503.31,197.87 L503.65,196.14 L503.99,194.33 L504.33,192.45 L504.67,190.50 L505.01,188.49 L505.35,186.40 L505.69,184.25 L506.03,182.02 L506.37,179.74 L506.71,177.39 L507.05,174.97 L507.38,172.50 L507.72,169.96 L508.06,167.37 L508.40,164.72 L508.74,162.02 L509.08,159.26 L509.42,156.45 L509.76,153.60 L510.10,150.70 L510.44,147.75 L510.78,144.77 L511.12,141.74 L511.46,138.68 L511.79,135.59 L512.13,132.47 L512.47,129.31 L512.81,126.14 L513.15,122.94 L513.49,119.72 L513.83,116.49 L514.17,113.24 L514.51,109.98 L514.85,106.72 L515.19,103.45 L515.53,100.19 L515.87,96.92 L516.20,93.67 L516.54,90.42 L516.88,87.19 L517.22,83.97 L517.56,80.77 L517.90,77.60 L518.24,74.45 L518.58,71.33 L518.92,68.25 L519.26,65.20 L519.60,62.19 L519.94,59.23 L520.28,56.31 L520.61,53.45 L520.95,50.63 L521.29,47.87 L521.63,45.17 L521.97,42.54 L522.31,39.97 L522.65,37.46 L522.99,35.03 L523.33,32.67 L523.67,30.39 L524.01,28.19 L524.35,26.07 L524.69,24.03 L525.02,22.08 L525.36,20.22 L525.70,18.45 L526.04,16.77 L526.38,15.19 L526.72,13.70 L527.06,12.32 L527.40,11.03 L527.74,9.85 L528.08,8.76 L528.42,7.79 L528.76,6.92 L529.10,6.15 L529.43,5.49 L529.77,4.94 L530.11,4.50 L530.45,4.17 L530.79,3.95 L531.13,3.84 L531.47,3.84 L531.81,3.95 L532.15,4.17 L532.49,4.50 L532.83,4.94 L533.17,5.49 L533.50,6.15 L533.84,6.92 L534.18,7.79 L534.52,8.76 L534.86,9.85 L535.20,11.03 L535.54,12.32 L535.88,13.70 L536.22,15.19 L536.56,16.77 L536.90,18.45 L537.24,20.22 L537.58,22.08 L537.91,24.03 L538.25,26.07 L538.59,28.19 L538.93,30.39 L539.27,32.67 L539.61,35.03 L539.95,37.46 L540.29,39.97 L540.63,42.54 L540.97,45.17 L541.31,47.87 L541.65,50.63 L541.99,53.45 L542.32,56.31 L542.66,59.23 L543.00,62.19 L543.34,65.20 L543.68,68.25 L544.02,71.33 L544.36,74.45 L544.70,77.60 L545.04,80.77 L545.38,83.97 L545.72,87.19 L546.06,90.42 L546.40,93.67 L546.73,96.92 L547.07,100.19 L547.41,103.45 L547.75,106.72 L548.09,109.98 L548.43,113.24 L548.77,116.49 L549.11,119.72 L549.45,122.94 L549.79,126.14 L550.13,129.31 L550.47,132.47 L550.81,135.59 L551.14,138.68 L551.48,141.74 L551.82,144.77 L552.16,147.75 L552.50,150.70 L552.84,153.60 L553.18,156.45 L553.52,159.26 L553.86,162.02 L554.20,164.72 L554.54,167.37 L554.88,169.96 L555.22,172.50 L555.55,174.97 L555.89,177.39 L556.23,179.74 L556.57,182.02 L556.91,184.25 L557.25,186.40 L557.59,188.49 L557.93,190.50 L558.27,192.45 L558.61,194.33 L558.95,196.14 L559.29,197.87 L559.63,199.53 L559.96,201.12 L560.30,202.64 L560.64,204.08 L560.98,205.45 L561.32,206.75 L561.66,207.98 L562.00,209.14 L562.34,210.23 L562.68,211.25 L563.02,212.20 L563.36,213.08 L563.70,213.89 L564.04,214.63 L564.37,215.30 L564.71,215.90 L565.05,216.43 L565.39,216.89 L565.73,217.29 L566.07,217.62 L566.41,217.88 L566.75,218.07 L567.09,218.21 L567.43,218.27 L567.77,218.28 L568.11,218.22 L568.45,218.10 L568.78,217.93 L569.12,217.69 L569.46,217.40 L569.80,217.06 L570.14,216.66 L570.48,216.21 L570.82,215.71 L571.16,215.16 L571.50,214.57 L571.84,213.92 L572.18,213.24 L572.52,212.52 L572.86,211.75 L573.19,210.95 L573.53,210.11 L573.87,209.24 L574.21,208.33 L574.55,207.40 L574.89,206.44 L575.23,205.45 L575.57,204.44 L575.91,203.40 L576.25,202.35 L576.59,201.28 L576.93,200.19 L577.27,199.08 L577.60,197.97 L577.94,196.85 L578.28,195.71 L578.62,194.57 L578.96,193.43 L579.30,192.28 L579.64,191.13 L579.98,189.99 L580.32,188.84 L580.66,187.70 L581.00,186.57 L581.34,185.44 L581.68,184.32 L582.01,183.21 L582.35,182.11 L582.69,181.03 L583.03,179.96 L583.37,178.90 L583.71,177.86 L584.05,176.84 L584.39,175.84 L584.73,174.85 L585.07,173.89 L585.41,172.95 L585.75,172.03 L586.08,171.13 L586.42,170.25 L586.76,169.40 L587.10,168.57 L587.44,167.77 L587.78,166.99 L588.12,166.23 L588.46,165.50 L588.80,164.79 L589.14,164.11 L589.48,163.46 L589.82,162.83 L590.16,162.22 L590.49,161.64 L590.83,161.08 L591.17,160.55 L591.51,160.04 L591.85,159.55 L592.19,159.09 L592.53,158.65 L592.87,158.23 L593.21,157.83 L593.55,157.45 L593.89,157.10 L594.23,156.76 L594.57,156.44 L594.90,156.14 L595.24,155.86 L595.58,155.60 L595.92,155.35 L596.26,155.12 L596.60,154.90 L596.94,154.70 L597.28,154.51 L597.62,154.34 L597.96,154.18 L598.30,154.02 L598.64,153.89 L598.98,153.76 L599.31,153.64 L599.65,153.53 L599.99,153.43 L600.33,153.34 L600.67,153.25 L601.01,153.18 L601.35,153.11 L601.69,153.04 L602.03,152.98 L602.37,152.93 L602.71,152.88 L603.05,152.84 L603.39,152.80 L603.72,152.77 L604.06,152.74 L604.40,152.71 L604.74,152.68 L605.08,152.66 L605.42,152.64 L605.76,152.62 L606.10,152.61 L606.44,152.59 L606.78,152.58 L607.12,152.57 L607.46,152.56 L607.80,152.55 L608.13,152.54 L608.47,152.54 L608.81,152.53 L609.15,152.53 L609.49,152.52 L609.83,152.52 L610.17,152.52 L610.51,152.52 L610.85,152.51 L611.19,152.51 L611.53,152.51 L611.87,152.51 L612.21,152.51 L612.54,152.51 L612.88,152.51 L613.22,152.50 L613.56,152.50 L613.90,152.50 L614.24,152.50 L614.58,152.50 L614.92,152.50 L615.26,152.50 L615.60,152.50 L615.94,152.50 L616.28,152.50 L616.62,152.50 L616.95,152.51 L617.29,152.51 L617.63,152.51 L617.97,152.51 L618.31,152.51 L618.65,152.51 L618.99,152.51 L619.33,152.51 L619.67,152.51 L620.01,152.51 L620.35,152.51 L620.69,152.51 L621.03,152.52 L621.36,152.52 L621.70,152.52 L622.04,152.52 L622.38,152.52 L622.72,152.52 L623.06,152.53 L623.40,152.53 L623.74,152.53 L624.08,152.53 L624.42,152.54 L624.76,152.54 L625.10,152.54 L625.44,152.55 L625.77,152.55 L626.11,152.55 L626.45,152.56 L626.79,152.56 L627.13,152.57 L627.47,152.57 L627.81,152.57 L628.15,152.58 L628.49,152.59 L628.83,152.59 L629.17,152.60 L629.51,152.60 L629.85,152.61 L630.18,152.62 L630.52,152.62 L630.86,152.63 L631.20,152.64 L631.54,152.64 L631.88,152.65 L632.22,152.66 L632.56,152.67 L632.90,152.68 L633.24,152.69 L633.58,152.70 L633.92,152.71 L634.26,152.72 L634.59,152.73 L634.93,152.74 L635.27,152.75 L635.61,152.76 L635.95,152.77 L636.29,152.78 L636.63,152.79 L636.97,152.80 L637.31,152.81 L637.65,152.82 L637.99,152.83 L638.33,152.84 L638.66,152.85 L639.00,152.86 L639.34,152.87 L639.68,152.88 L640.02,152.89 L640.36,152.91 L640.70,152.92 L641.04,152.92 L641.38,152.93 L641.72,152.94 L642.06,152.95 L642.40,152.96 L642.74,152.97 L643.07,152.98 L643.41,152.98 L643.75,152.99 L644.09,153.00 L644.43,153.00 L644.77,153.01 L645.11,153.01 L645.45,153.02 L645.79,153.02 L646.13,153.03 L646.47,153.03 L646.81,153.03 L647.15,153.03 L647.48,153.03 L647.82,153.04 L648.16,153.04 L648.50,153.03 L648.84,153.03 L649.18,153.03 L649.52,153.03 L649.86,153.03 L650.20,153.02 L650.54,153.02 L650.88,153.01 L651.22,153.01 L651.56,153.00 L651.89,153.00 L652.23,152.99 L652.57,152.98 L652.91,152.97 L653.25,152.97 L653.59,152.96 L653.93,152.95 L654.27,152.94 L654.61,152.93 L654.95,152.92 L655.29,152.91 L655.63,152.90 L655.97,152.89 L656.30,152.88 L656.64,152.87 L656.98,152.86 L657.32,152.85 L657.66,152.84 L658.00,152.83 L658.34,152.82 L658.68,152.81 L659.02,152.79 L659.36,152.78 L659.70,152.77 L660.04,152.76 L660.38,152.75 L660.71,152.74 L661.05,152.73 L661.39,152.72 L661.73,152.71 L662.07,152.70 L662.41,152.69 L662.75,152.68 L663.09,152.68 L663.43,152.67 L663.77,152.66 L664.11,152.65 L664.45,152.64 L664.79,152.63 L665.12,152.63 L665.46,152.62 L665.80,152.61 L666.14,152.61 L666.48,152.60 L666.82,152.59 L667.16,152.59 L667.50,152.58 L667.84,152.58 L668.18,152.57 L668.52,152.57 L668.86,152.56 L669.20,152.56 L669.53,152.56 L669.87,152.55 L670.21,152.55 L670.55,152.54 L670.89,152.54 L671.23,152.54 L671.57,152.54 L671.91,152.53 L672.25,152.53 L672.59,152.53 L672.93,152.53 L673.27,152.52 L673.61,152.52 L673.94,152.52 L674.28,152.52 L674.62,152.52 L674.96,152.52 L675.30,152.51 L675.64,152.51 L675.98,152.51 L676.32,152.51 L676.66,152.51 L677.00,152.51 L677.34,152.51 L677.68,152.51 L678.02,152.51 L678.35,152.51 L678.69,152.51 L679.03,152.50 L679.37,152.50 L679.71,152.50 L680.05,152.50 L680.39,152.50 L680.73,152.50 L681.07,152.50 L681.41,152.50 L681.75,152.50 L682.09,152.50 L682.43,152.50 L682.76,152.50 L683.10,152.50 L683.44,152.50 L683.78,152.50" stroke="#1f1fd0" stroke-width="1.8"/>
<path d="M378.82,152.50 L379.16,152.50 L379.50,152.50 L379.84,152.50 L380.17,152.50 L380.51,152.50 L380.85,152.50 L381.19,152.50 L381.53,152.50 L381.87,152.50 L382.21,152.50 L382.55,152.50 L382.89,152.50 L383.23,152.50 L383.57,152.50 L383.91,152.50 L384.25,152.50 L384.58,152.50 L384.92,152.50 L385.26,152.50 L385.60,152.50 L385.94,152.51 L386.28,152.51 L386.62,152.51 L386.96,152.51 L387.30,152.51 L387.64,152.51 L387.98,152.51 L388.32,152.51 L388.66,152.51 L388.99,152.51 L389.33,152.51 L389.67,152.51 L390.01,152.52 L390.35,152.52 L390.69,152.52 L391.03,152.52 L391.37,152.52 L391.71,152.52 L392.05,152.52 L392.39,152.53 L392.73,152.53 L393.07,152.53 L393.40,152.53 L393.74,152.53 L394.08,152.54 L394.42,152.54 L394.76,152.54 L395.10,152.55 L395.44,152.55 L395.78,152.55 L396.12,152.55 L396.46,152.56 L396.80,152.56 L397.14,152.57 L397.48,152.57 L397.81,152.57 L398.15,152.58 L398.49,152.58 L398.83,152.59 L399.17,152.59 L399.51,152.60 L399.85,152.60 L400.19,152.60 L400.53,152.61 L400.87,152.61 L401.21,152.62 L401.55,152.62 L401.89,152.63 L402.22,152.64 L402.56,152.64 L402.90,152.65 L403.24,152.65 L403.58,152.66 L403.92,152.66 L404.26,152.67 L404.60,152.67 L404.94,152.68 L405.28,152.68 L405.62,152.69 L405.96,152.69 L406.30,152.70 L406.63,152.70 L406.97,152.71 L407.31,152.71 L407.65,152.72 L407.99,152.72 L408.33,152.73 L408.67,152.73 L409.01,152.74 L409.35,152.74 L409.69,152.74 L410.03,152.75 L410.37,152.75 L410.71,152.75 L411.04,152.76 L411.38,152.76 L411.72,152.76 L412.06,152.76 L412.40,152.77 L412.74,152.77 L413.08,152.77 L413.42,152.77 L413.76,152.77 L414.10,152.77 L414.44,152.77 L414.78,152.77 L415.12,152.77 L415.45,152.77 L415.79,152.77 L416.13,152.77 L416.47,152.77 L416.81,152.77 L417.15,152.77 L417.49,152.77 L417.83,152.76 L418.17,152.76 L418.51,152.76 L418.85,152.76 L419.19,152.75 L419.53,152.75 L419.86,152.75 L420.20,152.74 L420.54,152.74 L420.88,152.73 L421.22,152.73 L421.56,152.73 L421.90,152.72 L422.24,152.72 L422.58,152.71 L422.92,152.71 L423.26,152.70 L423.60,152.69 L423.94,152.69 L424.27,152.68 L424.61,152.68 L424.95,152.67 L425.29,152.67 L425.63,152.66 L425.97,152.66 L426.31,152.65 L426.65,152.64 L426.99,152.64 L427.33,152.63 L427.67,152.63 L428.01,152.62 L428.34,152.62 L428.68,152.61 L429.02,152.61 L429.36,152.60 L429.70,152.60 L430.04,152.59 L430.38,152.59 L430.72,152.58 L431.06,152.58 L431.40,152.58 L431.74,152.57 L432.08,152.57 L432.42,152.56 L432.75,152.56 L433.09,152.56 L433.43,152.55 L433.77,152.55 L434.11,152.55 L434.45,152.54 L434.79,152.54 L435.13,152.54 L435.47,152.54 L435.81,152.53 L436.15,152.53 L436.49,152.53 L436.83,152.53 L437.16,152.53 L437.50,152.52 L437.84,152.52 L438.18,152.52 L438.52,152.52 L438.86,152.52 L439.20,152.52 L439.54,152.51 L439.88,152.51 L440.22,152.51 L440.56,152.51 L440.90,152.51 L441.24,152.51 L441.57,152.51 L441.91,152.51 L442.25,152.51 L442.59,152.51 L442.93,152.51 L443.27,152.51 L443.61,152.51 L443.95,152.50 L444.29,152.50 L444.63,152.50 L444.97,152.50 L445.31,152.50 L445.65,152.50 L445.98,152.50 L446.32,152.50 L446.66,152.50 L447.00,152.50 L447.34,152.50 L447.68,152.50 L448.02,152.50 L448.36,152.50 L448.70,152.50 L449.04,152.50 L449.38,152.50 L449.72,152.50 L450.06,152.50 L450.39,152.51 L450.73,152.51 L451.07,152.51 L451.41,152.51 L451.75,152.51 L452.09,152.51 L452.43,152.51 L452.77,152.52 L453.11,152.52 L453.45,152.52 L453.79,152.53 L454.13,152.53 L454.47,152.54 L454.80,152.54 L455.14,152.50 L455.48,152.51 L455.82,152.52 L456.16,152.53 L456.50,152.55 L456.84,152.57 L457.18,152.59 L457.52,152.61 L457.86,152.64 L458.20,152.67 L458.54,152.70 L458.88,152.73 L459.21,152.76 L459.55,152.79 L459.89,152.83 L460.23,152.87 L460.57,152.92 L460.91,152.97 L461.25,153.03 L461.59,153.10 L461.93,153.17 L462.27,153.25 L462.61,153.33 L462.95,153.42 L463.29,153.51 L463.62,153.61 L463.96,153.71 L464.30,153.81 L464.64,153.93 L464.98,154.06 L465.32,154.21 L465.66,154.37 L466.00,154.55 L466.34,154.75 L466.68,154.95 L467.02,155.17 L467.36,155.39 L467.70,155.62 L468.03,155.86 L468.37,156.10 L468.71,156.34 L469.05,156.58 L469.39,156.83 L469.73,157.10 L470.07,157.38 L470.41,157.67 L470.75,157.98 L471.09,158.29 L471.43,158.61 L471.77,158.94 L472.11,159.28 L472.44,159.62 L472.78,159.96 L473.12,160.30 L473.46,160.65 L473.80,160.98 L474.14,161.32 L474.48,161.68 L474.82,162.05 L475.16,162.43 L475.50,162.82 L475.84,163.21 L476.18,163.60 L476.52,163.99 L476.85,164.37 L477.19,164.74 L477.53,165.09 L477.87,165.43 L478.21,165.75 L478.55,166.04 L478.89,166.31 L479.23,166.59 L479.57,166.87 L479.91,167.16 L480.25,167.45 L480.59,167.73 L480.92,167.99 L481.26,168.24 L481.60,168.47 L481.94,168.68 L482.28,168.85 L482.62,168.99 L482.96,169.09 L483.30,169.14 L483.64,169.15 L483.98,169.09 L484.32,168.98 L484.66,168.82 L485.00,168.62 L485.33,168.37 L485.67,168.08 L486.01,167.77 L486.35,167.42 L486.69,167.05 L487.03,166.66 L487.37,166.26 L487.71,165.84 L488.05,165.42 L488.39,165.00 L488.73,164.49 L489.07,163.89 L489.41,163.21 L489.74,162.48 L490.08,161.70 L490.42,160.90 L490.76,160.09 L491.10,159.30 L491.44,158.50 L491.78,157.66 L492.12,156.79 L492.46,155.90 L492.80,155.00 L493.14,154.09 L493.48,153.18 L493.82,152.27 L494.15,151.35 L494.49,150.42 L494.83,149.48 L495.17,148.54 L495.51,147.61 L495.85,146.71 L496.19,145.83 L496.53,144.96 L496.87,144.11 L497.21,143.27 L497.55,142.44 L497.89,141.63 L498.23,140.82 L498.56,140.03 L498.90,139.23 L499.24,138.44 L499.58,137.66 L499.92,136.90 L500.26,136.17 L500.60,135.47 L500.94,134.81 L501.28,134.17 L501.62,133.57 L501.96,132.98 L502.30,132.40 L502.64,131.84 L502.97,131.28 L503.31,130.71 L503.65,130.14 L503.99,129.56 L504.33,128.97 L504.67,128.39 L505.01,127.81 L505.35,127.22 L505.69,126.64 L506.03,126.04 L506.37,125.44 L506.71,124.83 L507.05,124.20 L507.38,123.58 L507.72,122.96 L508.06,122.32 L508.40,121.66 L508.74,120.96 L509.08,120.19 L509.42,119.34 L509.76,118.41 L510.10,117.41 L510.44,116.32 L510.78,115.16 L511.12,113.92 L511.46,112.52 L511.79,110.99 L512.13,109.36 L512.47,107.67 L512.81,105.94 L513.15,104.19 L513.49,102.47 L513.83,100.81 L514.17,99.22 L514.51,97.66 L514.85,96.12 L515.19,94.59 L515.53,93.04 L515.87,91.46 L516.20,89.86 L516.54,88.29 L516.88,86.73 L517.22,85.13 L517.56,83.45 L517.90,81.67 L518.24,79.73 L518.58,77.59 L518.92,75.27 L519.26,72.77 L519.60,70.14 L519.94,67.40 L520.28,64.62 L520.61,61.82 L520.95,59.01 L521.29,56.20 L521.63,53.41 L521.97,50.64 L522.31,47.90 L522.65,45.20 L522.99,42.54 L523.33,39.92 L523.67,37.35 L524.01,34.82 L524.35,32.35 L524.69,29.94 L525.02,27.58 L525.36,25.30 L525.70,23.10 L526.04,20.98 L526.38,18.96 L526.72,17.03 L527.06,15.22 L527.40,13.53 L527.74,11.96 L528.08,10.52 L528.42,9.22 L528.76,8.04 L529.10,7.01 L529.43,6.11 L529.77,5.36 L530.11,4.76 L530.45,4.31 L530.79,4.00 L531.13,3.85 L531.47,3.85 L531.81,4.00 L532.15,4.31 L532.49,4.76 L532.83,5.36 L533.17,6.11 L533.50,7.01 L533.84,8.04 L534.18,9.22 L534.52,10.52 L534.86,11.96 L535.20,13.53 L535.54,15.22 L535.88,17.03 L536.22,18.96 L536.56,20.98 L536.90,23.10 L537.24,25.30 L537.58,27.58 L537.91,29.94 L538.25,32.35 L538.59,34.82 L538.93,37.35 L539.27,39.92 L539.61,42.54 L539.95,45.20 L540.29,47.90 L540.63,50.64 L540.97,53.41 L541.31,56.20 L541.65,59.01 L541.99,61.82 L542.32,64.62 L542.66,67.40 L543.00,70.14 L543.34,72.77 L543.68,75.27 L544.02,77.59 L544.36,79.73 L544.70,81.67 L545.04,83.45 L545.38,85.13 L545.72,86.73 L546.06,88.29 L546.40,89.86 L546.73,91.46 L547.07,93.04 L547.41,94.59 L547.75,96.12 L548.09,97.66 L548.43,99.22 L548.77,100.81 L549.11,102.47 L549.45,104.19 L549.79,105.94 L550.13,107.67 L550.47,109.36 L550.81,110.99 L551.14,112.52 L551.48,113.92 L551.82,115.16 L552.16,116.32 L552.50,117.41 L552.84,118.41 L553.18,119.34 L553.52,120.19 L553.86,120.96 L554.20,121.66 L554.54,122.32 L554.88,122.96 L555.22,123.58 L555.55,124.20 L555.89,124.83 L556.23,125.44 L556.57,126.04 L556.91,126.64 L557.25,127.22 L557.59,127.81 L557.93,128.39 L558.27,128.97 L558.61,129.56 L558.95,130.14 L559.29,130.71 L559.63,131.28 L559.96,131.84 L560.30,132.40 L560.64,132.98 L560.98,133.57 L561.32,134.17 L561.66,134.81 L562.00,135.47 L562.34,136.17 L562.68,136.90 L563.02,137.66 L563.36,138.44 L563.70,139.23 L564.04,140.03 L564.37,140.82 L564.71,141.63 L565.05,142.44 L565.39,143.27 L565.73,144.11 L566.07,144.96 L566.41,145.83 L566.75,146.71 L567.09,147.61 L567.43,148.54 L567.77,149.48 L568.11,150.42 L568.45,151.35 L568.78,152.27 L569.12,153.18 L569.46,154.09 L569.80,155.00 L570.14,155.90 L570.48,156.79 L570.82,157.66 L571.16,158.50 L571.50,159.30 L571.84,160.09 L572.18,160.90 L572.52,161.70 L572.86,162.48 L573.19,163.21 L573.53,163.89 L573.87,164.49 L574.21,165.00 L574.55,165.42 L574.89,165.84 L575.23,166.26 L575.57,166.66 L575.91,167.05 L576.25,167.42 L576.59,167.77 L576.93,168.08 L577.27,168.37 L577.60,168.62 L577.94,168.82 L578.28,168.98 L578.62,169.09 L578.96,169.15 L579.30,169.14 L579.64,169.09 L579.98,168.99 L580.32,168.85 L580.66,168.68 L581.00,168.47 L581.34,168.24 L581.68,167.99 L582.01,167.73 L582.35,167.45 L582.69,167.16 L583.03,166.87 L583.37,166.59 L583.71,166.31 L584.05,166.04 L584.39,165.75 L584.73,165.43 L585.07,165.09 L585.41,164.74 L585.75,164.37 L586.08,163.99 L586.42,163.60 L586.76,163.21 L587.10,162.82 L587.44,162.43 L587.78,162.05 L588.12,161.68 L588.46,161.32 L588.80,160.98 L589.14,160.65 L589.48,160.30 L589.82,159.96 L590.16,159.62 L590.49,159.28 L590.83,158.94 L591.17,158.61 L591.51,158.29 L591.85,157.98 L592.19,157.67 L592.53,157.38 L592.87,157.10 L593.21,156.83 L593.55,156.58 L593.89,156.34 L594.23,156.10 L594.57,155.86 L594.90,155.62 L595.24,155.39 L595.58,155.17 L595.92,154.95 L596.26,154.75 L596.60,154.55 L596.94,154.37 L597.28,154.21 L597.62,154.06 L597.96,153.93 L598.30,153.81 L598.64,153.71 L598.98,153.61 L599.31,153.51 L599.65,153.42 L599.99,153.33 L600.33,153.25 L600.67,153.17 L601.01,153.10 L601.35,153.03 L601.69,152.97 L602.03,152.92 L602.37,152.87 L602.71,152.83 L603.05,152.79 L603.39,152.76 L603.72,152.73 L604.06,152.70 L604.40,152.67 L604.74,152.64 L605.08,152.61 L605.42,152.59 L605.76,152.57 L606.10,152.55 L606.44,152.53 L606.78,152.52 L607.12,152.51 L607.46,152.50 L607.80,152.54 L608.13,152.54 L608.47,152.53 L608.81,152.53 L609.15,152.52 L609.49,152.52 L609.83,152.52 L610.17,152.51 L610.51,152.51 L610.85,152.51 L611.19,152.51 L611.53,152.51 L611.87,152.51 L612.21,152.51 L612.54,152.50 L612.88,152.50 L613.22,152.50 L613.56,152.50 L613.90,152.50 L614.24,152.50 L614.58,152.50 L614.92,152.50 L615.26,152.50 L615.60,152.50 L615.94,152.50 L616.28,152.50 L616.62,152.50 L616.95,152.50 L617.29,152.50 L617.63,152.50 L617.97,152.50 L618.31,152.50 L618.65,152.50 L618.99,152.51 L619.33,152.51 L619.67,152.51 L620.01,152.51 L620.35,152.51 L620.69,152.51 L621.03,152.51 L621.36,152.51 L621.70,152.51 L622.04,152.51 L622.38,152.51 L622.72,152.51 L623.06,152.51 L623.40,152.52 L623.74,152.52 L624.08,152.52 L624.42,152.52 L624.76,152.52 L625.10,152.52 L625.44,152.53 L625.77,152.53 L626.11,152.53 L626.45,152.53 L626.79,152.53 L627.13,152.54 L627.47,152.54 L627.81,152.54 L628.15,152.54 L628.49,152.55 L628.83,152.55 L629.17,152.55 L629.51,152.56 L629.85,152.56 L630.18,152.56 L630.52,152.57 L630.86,152.57 L631.20,152.58 L631.54,152.58 L631.88,152.58 L632.22,152.59 L632.56,152.59 L632.90,152.60 L633.24,152.60 L633.58,152.61 L633.92,152.61 L634.26,152.62 L634.59,152.62 L634.93,152.63 L635.27,152.63 L635.61,152.64 L635.95,152.64 L636.29,152.65 L636.63,152.66 L636.97,152.66 L637.31,152.67 L637.65,152.67 L637.99,152.68 L638.33,152.68 L638.66,152.69 L639.00,152.69 L639.34,152.70 L639.68,152.71 L640.02,152.71 L640.36,152.72 L640.70,152.72 L641.04,152.73 L641.38,152.73 L641.72,152.73 L642.06,152.74 L642.40,152.74 L642.74,152.75 L643.07,152.75 L643.41,152.75 L643.75,152.76 L644.09,152.76 L644.43,152.76 L644.77,152.76 L645.11,152.77 L645.45,152.77 L645.79,152.77 L646.13,152.77 L646.47,152.77 L646.81,152.77 L647.15,152.77 L647.48,152.77 L647.82,152.77 L648.16,152.77 L648.50,152.77 L648.84,152.77 L649.18,152.77 L649.52,152.77 L649.86,152.77 L650.20,152.77 L650.54,152.76 L650.88,152.76 L651.22,152.76 L651.56,152.76 L651.89,152.75 L652.23,152.75 L652.57,152.75 L652.91,152.74 L653.25,152.74 L653.59,152.74 L653.93,152.73 L654.27,152.73 L654.61,152.72 L654.95,152.72 L655.29,152.71 L655.63,152.71 L655.97,152.70 L656.30,152.70 L656.64,152.69 L656.98,152.69 L657.32,152.68 L657.66,152.68 L658.00,152.67 L658.34,152.67 L658.68,152.66 L659.02,152.66 L659.36,152.65 L659.70,152.65 L660.04,152.64 L660.38,152.64 L660.71,152.63 L661.05,152.62 L661.39,152.62 L661.73,152.61 L662.07,152.61 L662.41,152.60 L662.75,152.60 L663.09,152.60 L663.43,152.59 L663.77,152.59 L664.11,152.58 L664.45,152.58 L664.79,152.57 L665.12,152.57 L665.46,152.57 L665.80,152.56 L666.14,152.56 L666.48,152.55 L666.82,152.55 L667.16,152.55 L667.50,152.55 L667.84,152.54 L668.18,152.54 L668.52,152.54 L668.86,152.53 L669.20,152.53 L669.53,152.53 L669.87,152.53 L670.21,152.53 L670.55,152.52 L670.89,152.52 L671.23,152.52 L671.57,152.52 L671.91,152.52 L672.25,152.52 L672.59,152.52 L672.93,152.51 L673.27,152.51 L673.61,152.51 L673.94,152.51 L674.28,152.51 L674.62,152.51 L674.96,152.51 L675.30,152.51 L675.64,152.51 L675.98,152.51 L676.32,152.51 L676.66,152.51 L677.00,152.50 L677.34,152.50 L677.68,152.50 L678.02,152.50 L678.35,152.50 L678.69,152.50 L679.03,152.50 L679.37,152.50 L679.71,152.50 L680.05,152.50 L680.39,152.50 L680.73,152.50 L681.07,152.50 L681.41,152.50 L681.75,152.50 L682.09,152.50 L682.43,152.50 L682.76,152.50 L683.10,152.50 L683.44,152.50 L683.78,152.50" stroke="#3a9a5c" stroke-width="1.8"/>
</g>
<text transform="translate(533.60,252.60) scale(1.085,1)" text-anchor="middle" font-size="12.00" fill="#111" stroke="#111" stroke-width="0.22">distance (&#955;)</text>
<text transform="translate(354.2,114.6) rotate(-90) scale(1.065,1)" text-anchor="middle" font-size="10.6" fill="#111">normalized intensity</text>
<text transform="translate(388.30,31.20) scale(1.000,1)" text-anchor="start" font-size="28.50" fill="#111" stroke="#111" stroke-width="0.22">b</text>
<path d="M390.1,170.80 H415.5" stroke="#000" stroke-width="1.8"/>
<path d="M390.1,184.70 H415.5" stroke="#e3242b" stroke-width="1.8"/>
<path d="M390.1,198.70 H415.5" stroke="#1f1fd0" stroke-width="1.8"/>
<path d="M390.1,211.60 H415.5" stroke="#3a9a5c" stroke-width="1.8"/>
<text transform="translate(420.40,174.65) scale(1.000,1)" text-anchor="start" font-size="10.40" fill="#111" stroke="#111" stroke-width="0.22">Gaussian</text>
<text transform="translate(420.40,187.90) scale(1.000,1)" text-anchor="start" font-size="10.40" fill="#111" stroke="#111" stroke-width="0.22">Doughnut</text>
<text transform="translate(420.30,202.30) scale(1.060,1)" text-anchor="start" font-size="11.00" fill="#111" stroke="#111" stroke-width="0.22">&#945; = 0.6</text>
<text transform="translate(420.60,215.00) scale(1.040,1)" text-anchor="start" font-size="10.60" fill="#111" stroke="#111" stroke-width="0.22">IWS</text>
</svg>
</body></html>
